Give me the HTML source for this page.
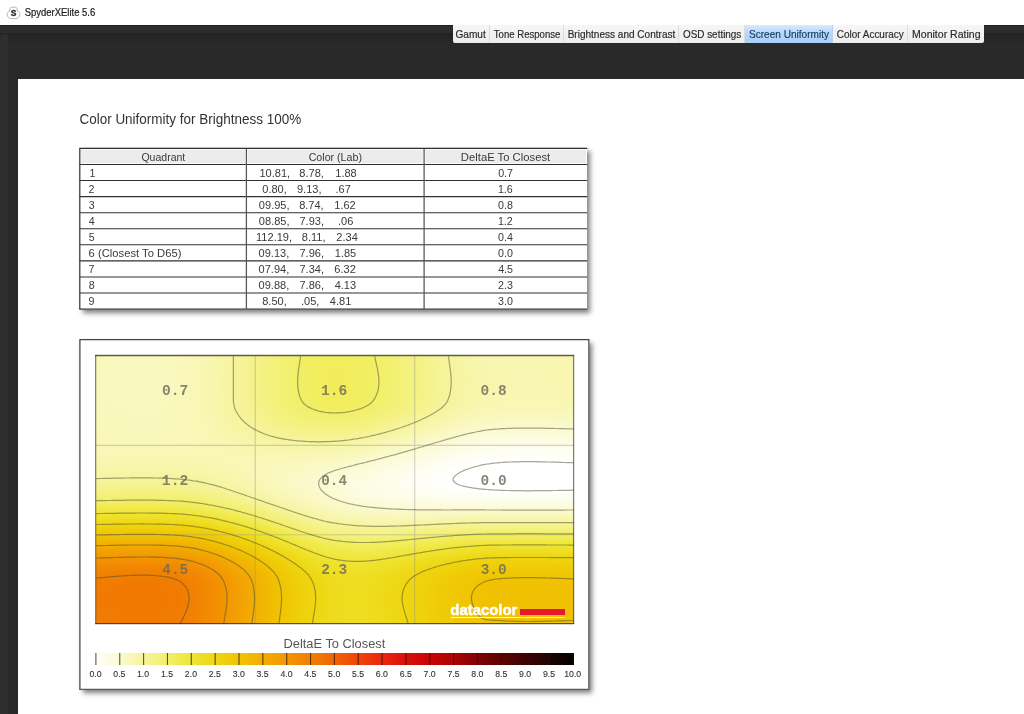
<!DOCTYPE html>
<html lang="en">
<head>
<meta charset="utf-8">
<title>SpyderXElite 5.6</title>
<style>
*{box-sizing:border-box;margin:0;padding:0}
html,body{width:1024px;height:714px;overflow:hidden;background:#fff}
body{position:relative;font-family:"Liberation Sans",sans-serif;color:#222}
.abs{position:absolute}
#titlebar{position:absolute;left:0;top:0;width:1024px;height:25px;background:#fff}
#dark{position:absolute;left:0;top:25px;width:1024px;height:689px;background:#292929;border-top:1px solid #1f1f1f}
#band{position:absolute;left:0;top:26px;width:1024px;height:20.5px;background:linear-gradient(#2e2e2e 0,#2d2d2d 6.5px,#222 7.5px,#262626 13px,#2a2a2a 20.5px)}
#lstrip{position:absolute;left:0;top:34px;width:7.5px;height:680px;background:#2e2e2e;border-radius:4px 0 0 0}
#page{position:absolute;left:18px;top:79px;width:1006px;height:635px;background:#fff}
.tab{position:absolute;top:25.3px;height:17.6px;background:linear-gradient(#f6f6f6,#ededed);border-right:1px solid #dcdcdc}
.tab.sel{background:linear-gradient(#d8eafc,#b6d7fb 45%,#a8cffa);border-right-color:#b9d3ee}
.tab.first{border-bottom-left-radius:2px}
.tab.last{border-right:none;border-bottom-right-radius:2px}
#tblbg{position:absolute;left:80px;top:148px;width:507px;height:161.500px;background:#fff;box-shadow:3px 3px 5px rgba(0,0,0,.5)}
#panel{position:absolute;left:80px;top:339.500px;width:509px;height:350px;background:#fff;box-shadow:3px 3px 5px rgba(0,0,0,.5)}
#lines{position:absolute;left:0;top:0;width:1024px;height:714px}
#heat{position:absolute;left:96px;top:356px;width:478px;height:268px;overflow:hidden}
#heat i{display:block;height:1px;width:478px}
#plotsvg{position:absolute;left:96px;top:356px;width:478px;height:268px;overflow:visible}
#dcred{position:absolute;left:519.7px;top:608.6px;width:45.4px;height:6.6px;background:#e8192c}
#dcline{position:absolute;left:450.9px;top:616.6px;width:114.2px;height:1.2px;background:linear-gradient(90deg,#fff 58%,rgba(255,255,255,.7) 62%)}
#cbar{position:absolute;left:96px;top:653px;width:478px;height:12px;background:linear-gradient(90deg,#ffffff,#fdfce8,#fbfad0,#f8f7b6,#f6f49d,#f4f282,#f2ef68,#f0ea4e,#efe534,#eede22,#eed610,#efcd09,#f0c402,#f1b802,#f2ad02,#f2a202,#f39602,#f28a02,#f17f02,#f07204,#f06405,#f05408,#f0440a,#ee350c,#eb260e,#e21a0c,#d90e0a,#d00908,#c60405,#b90404,#ac0304,#960204,#800204,#6e0204,#5c0203,#4d0203,#3e0203,#2f0202,#200202,#100101,#000000)}
#txt{position:absolute;left:0;top:0;width:1024px;height:714px;font-family:"Liberation Sans",sans-serif}
</style>
</head>
<body>
<div id="titlebar">
<svg class="abs" style="left:6px;top:4.6px" width="16" height="16" viewBox="0 0 16 16"><path d="M5.600 2.200h3.800c.8 0 1.300.5 1.500 1.300l.5 2.600c1.500.5 2.400 1.800 2.400 3.400 0 2.300-1.800 4.100-4.100 4.100H5.300c-2.300 0-4.100-1.800-4.100-4.100 0-1.600.9-2.900 2.400-3.400l.5-2.600c.2-.8.700-1.300 1.500-1.300z" fill="#fff" stroke="#b4b4b4" stroke-width="1"/><text x="7.500" y="11.300" text-anchor="middle" font-family="Liberation Sans, sans-serif" font-weight="bold" font-size="8.500" fill="#2a2a2a" stroke="#2a2a2a" stroke-width=".35">S</text></svg>
</div>
<div id="dark"></div>
<div id="band"></div>
<div id="lstrip"></div>
<div id="tabs">
<div class="tab first" style="left:452.5px;width:37.5px"></div>
<div class="tab" style="left:490.0px;width:73.5px"></div>
<div class="tab" style="left:563.5px;width:115.5px"></div>
<div class="tab" style="left:679.0px;width:66.0px"></div>
<div class="tab sel" style="left:745.0px;width:87.5px"></div>
<div class="tab" style="left:832.5px;width:75.0px"></div>
<div class="tab last" style="left:907.5px;width:76.0px"></div>
</div>
<div id="page"></div>
<div id="tblbg"></div>
<div id="panel"></div>
<svg id="lines" viewBox="0 0 1024 714">
<rect x="81.05" y="149.65" width="164.10" height="13.57" fill="#ececec"/>
<rect x="247.65" y="149.65" width="175.20" height="13.57" fill="#ececec"/>
<rect x="425.35" y="149.65" width="160.60" height="13.57" fill="#ececec"/>
<path d="M79.25 148.40H587.20M79.25 164.47H587.20M79.25 180.54H587.20M79.25 196.61H587.20M79.25 212.68H587.20M79.25 228.75H587.20M79.25 244.82H587.20M79.25 260.89H587.20M79.25 276.96H587.20M79.25 293.03H587.20M79.25 309.10H587.20" fill="none" stroke="#303030" stroke-width="1.10"/>
<path d="M246.40 148.40V309.10M424.10 148.40V309.10" fill="none" stroke="#555" stroke-width="1.25"/>
<path d="M79.80 148.40V309.10" fill="none" stroke="#3a3a3a" stroke-width="1.25"/>
<path d="M79.28 339.50H589.42M79.90 339.50V689.40" fill="none" stroke="#454545" stroke-width="1.25"/>
<path d="M79.28 689.40H589.42M588.80 339.50V689.40" fill="none" stroke="#5a5a5a" stroke-width="1.25"/>
</svg>
<div id="heat">
<i style="background:linear-gradient(90deg,#f9f8bc,#f9f8bd,#f9f8bd,#f9f8be,#f9f8be,#f9f8be,#f9f8be,#f9f8bd,#f9f8bc,#f9f7ba,#f8f7b6,#f8f6b0,#f7f6aa,#f7f5a3,#f6f49b,#f5f393,#f5f28a,#f4f182,#f3f17a,#f3f072,#f2ef6b,#f2ef66,#f2ee61,#f1ed5e,#f1ed5d,#f1ed5d,#f2ed60,#f2ee63,#f2ef68,#f2f06e,#f3f075,#f4f17c,#f4f284,#f5f28b,#f5f393,#f6f49a,#f6f4a1,#f7f5a7,#f7f6ab,#f8f6af,#f8f6b1,#f8f6b2,#f8f7b3,#f8f7b3,#f8f7b3,#f8f7b3,#f8f6b2,#f8f6b2,#f8f6b1)"></i>
<i style="background:linear-gradient(90deg,#f9f8bd,#f9f8bd,#f9f8bd,#f9f8be,#f9f8be,#f9f8be,#f9f8be,#f9f8bd,#f9f8bc,#f9f7ba,#f8f7b6,#f8f6b0,#f7f6aa,#f7f5a3,#f6f49b,#f5f393,#f5f28a,#f4f182,#f3f17a,#f3f072,#f2ef6b,#f2ef65,#f2ee61,#f1ed5e,#f1ed5d,#f1ed5d,#f2ed5f,#f2ee63,#f2ef68,#f2f06e,#f3f075,#f4f17c,#f4f284,#f5f28b,#f5f393,#f6f49a,#f6f4a1,#f7f5a6,#f7f6ab,#f8f6af,#f8f6b1,#f8f6b2,#f8f7b3,#f8f7b3,#f8f7b3,#f8f7b3,#f8f6b2,#f8f6b2,#f8f6b1)"></i>
<i style="background:linear-gradient(90deg,#f9f8bd,#f9f8bd,#f9f8be,#f9f8be,#f9f8be,#f9f8be,#f9f8be,#f9f8bd,#f9f8bc,#f9f7ba,#f8f7b6,#f8f6b1,#f7f6aa,#f7f5a3,#f6f49b,#f5f393,#f5f28a,#f4f182,#f3f17a,#f3f072,#f2ef6b,#f2ee65,#f2ee61,#f1ed5e,#f1ed5d,#f1ed5d,#f2ed5f,#f2ee63,#f2ef68,#f2f06e,#f3f075,#f3f17c,#f4f283,#f5f28b,#f5f393,#f6f49a,#f6f4a1,#f7f5a6,#f7f6ab,#f8f6af,#f8f6b1,#f8f6b2,#f8f7b2,#f8f7b3,#f8f7b3,#f8f7b2,#f8f6b2,#f8f6b2,#f8f6b1)"></i>
<i style="background:linear-gradient(90deg,#f9f8bd,#f9f8bd,#f9f8be,#f9f8be,#f9f8be,#f9f8be,#f9f8be,#f9f8bd,#f9f8bc,#f9f7ba,#f8f7b6,#f8f6b1,#f7f6aa,#f7f5a3,#f6f49b,#f5f393,#f5f28a,#f4f182,#f3f17a,#f3f072,#f2ef6b,#f2ee65,#f2ee61,#f1ed5e,#f1ed5d,#f1ed5d,#f1ed5f,#f2ee63,#f2ef68,#f2f06e,#f3f074,#f3f17c,#f4f283,#f5f28b,#f5f393,#f6f49a,#f6f4a1,#f7f5a6,#f7f6ab,#f8f6af,#f8f6b1,#f8f6b2,#f8f7b2,#f8f7b3,#f8f7b3,#f8f7b2,#f8f6b2,#f8f6b2,#f8f6b1)"></i>
<i style="background:linear-gradient(90deg,#f9f8bd,#f9f8bd,#f9f8be,#f9f8be,#f9f8be,#f9f8be,#f9f8be,#f9f8bd,#f9f8bc,#f9f7ba,#f8f7b6,#f8f6b1,#f7f6aa,#f7f5a3,#f6f49b,#f5f393,#f5f28a,#f4f182,#f3f17a,#f3f072,#f2ef6b,#f2ee65,#f2ee61,#f1ed5e,#f1ed5c,#f1ed5d,#f1ed5f,#f2ee63,#f2ef68,#f2f06e,#f3f074,#f3f17c,#f4f283,#f5f28b,#f5f393,#f6f49a,#f6f4a0,#f7f5a6,#f7f6ab,#f8f6ae,#f8f6b1,#f8f6b2,#f8f7b2,#f8f7b3,#f8f7b3,#f8f7b2,#f8f6b2,#f8f6b1,#f8f6b1)"></i>
<i style="background:linear-gradient(90deg,#f9f8bd,#f9f8bd,#f9f8be,#f9f8be,#f9f8be,#f9f8be,#f9f8be,#f9f8bd,#f9f8bc,#f9f7ba,#f8f7b6,#f8f6b1,#f7f6aa,#f7f5a3,#f6f49b,#f5f393,#f5f28a,#f4f182,#f3f179,#f3f072,#f2ef6b,#f2ee65,#f2ee61,#f1ed5e,#f1ed5c,#f1ed5d,#f1ed5f,#f2ee63,#f2ef67,#f2f06d,#f3f074,#f3f17b,#f4f283,#f5f28b,#f5f392,#f6f49a,#f6f4a0,#f7f5a6,#f7f6ab,#f8f6ae,#f8f6b1,#f8f6b2,#f8f7b2,#f8f7b3,#f8f7b2,#f8f6b2,#f8f6b2,#f8f6b1,#f8f6b1)"></i>
<i style="background:linear-gradient(90deg,#f9f8bd,#f9f8bd,#f9f8be,#f9f8be,#f9f8be,#f9f8be,#f9f8be,#f9f8bd,#f9f8bc,#f9f7ba,#f8f7b6,#f8f6b1,#f7f6aa,#f7f5a3,#f6f49b,#f5f393,#f5f28a,#f4f182,#f3f179,#f3f072,#f2ef6b,#f2ee65,#f2ee60,#f1ed5d,#f1ed5c,#f1ed5d,#f1ed5f,#f2ee62,#f2ef67,#f2ef6d,#f3f074,#f3f17b,#f4f283,#f5f28b,#f5f392,#f6f49a,#f6f4a0,#f7f5a6,#f7f6ab,#f8f6ae,#f8f6b0,#f8f6b2,#f8f6b2,#f8f7b2,#f8f7b2,#f8f6b2,#f8f6b2,#f8f6b1,#f8f6b1)"></i>
<i style="background:linear-gradient(90deg,#f9f8bd,#f9f8bd,#f9f8be,#f9f8be,#f9f8bf,#f9f8bf,#f9f8be,#f9f8be,#f9f8bc,#f9f7ba,#f8f7b6,#f8f6b1,#f7f6aa,#f7f5a3,#f6f49b,#f5f393,#f5f28a,#f4f182,#f3f179,#f3f072,#f2ef6b,#f2ee65,#f2ee60,#f1ed5d,#f1ed5c,#f1ed5d,#f1ed5f,#f2ee62,#f2ef67,#f2ef6d,#f3f074,#f3f17b,#f4f283,#f5f28b,#f5f392,#f6f49a,#f6f4a0,#f7f5a6,#f7f6ab,#f8f6ae,#f8f6b0,#f8f6b1,#f8f6b2,#f8f7b2,#f8f7b2,#f8f6b2,#f8f6b2,#f8f6b1,#f8f6b1)"></i>
<i style="background:linear-gradient(90deg,#f9f8bd,#f9f8bd,#f9f8be,#f9f8be,#f9f8bf,#f9f8bf,#f9f8be,#f9f8be,#f9f8bc,#f9f7ba,#f8f7b6,#f8f6b1,#f7f6aa,#f7f5a3,#f6f49b,#f5f393,#f5f28a,#f4f182,#f3f179,#f3f072,#f2ef6b,#f2ee65,#f2ee60,#f1ed5d,#f1ed5c,#f1ed5c,#f1ed5f,#f2ee62,#f2ef67,#f2ef6d,#f3f074,#f3f17b,#f4f283,#f5f28b,#f5f392,#f6f499,#f6f4a0,#f7f5a6,#f7f6ab,#f8f6ae,#f8f6b0,#f8f6b1,#f8f6b2,#f8f7b2,#f8f7b2,#f8f6b2,#f8f6b2,#f8f6b1,#f8f6b1)"></i>
<i style="background:linear-gradient(90deg,#f9f8bd,#f9f8bd,#f9f8be,#f9f8be,#f9f8bf,#f9f8bf,#f9f8be,#f9f8be,#f9f8bc,#f9f7ba,#f8f7b6,#f8f6b1,#f7f6aa,#f7f5a3,#f6f49b,#f5f393,#f5f28a,#f4f181,#f3f179,#f3f071,#f2ef6b,#f2ee65,#f2ed60,#f1ed5d,#f1ed5c,#f1ed5c,#f1ed5e,#f2ee62,#f2ef67,#f2ef6d,#f3f074,#f3f17b,#f4f283,#f5f28a,#f5f392,#f6f499,#f6f4a0,#f7f5a6,#f7f6ab,#f8f6ae,#f8f6b0,#f8f6b1,#f8f6b2,#f8f6b2,#f8f6b2,#f8f6b2,#f8f6b2,#f8f6b1,#f8f6b1)"></i>
<i style="background:linear-gradient(90deg,#f9f8bd,#f9f8bd,#f9f8be,#f9f8be,#f9f8bf,#f9f8bf,#f9f8be,#f9f8be,#f9f8bc,#f9f7ba,#f8f7b6,#f8f6b1,#f7f6aa,#f7f5a3,#f6f49b,#f5f393,#f5f28a,#f4f181,#f3f179,#f3f071,#f2ef6a,#f2ee65,#f2ed60,#f1ed5d,#f1ed5c,#f1ed5c,#f1ed5e,#f2ee62,#f2ef67,#f2ef6d,#f3f074,#f3f17b,#f4f283,#f5f28a,#f5f392,#f6f499,#f6f4a0,#f7f5a6,#f7f6aa,#f8f6ae,#f8f6b0,#f8f6b1,#f8f6b2,#f8f6b2,#f8f6b2,#f8f6b2,#f8f6b1,#f8f6b1,#f8f6b1)"></i>
<i style="background:linear-gradient(90deg,#f9f8bd,#f9f8bd,#f9f8be,#f9f8be,#f9f8bf,#f9f8bf,#f9f8be,#f9f8be,#f9f8bc,#f9f7ba,#f8f7b6,#f8f6b1,#f7f6aa,#f7f5a3,#f6f49b,#f5f393,#f5f28a,#f4f181,#f3f179,#f3f071,#f2ef6a,#f2ee64,#f2ed60,#f1ed5d,#f1ed5c,#f1ed5c,#f1ed5e,#f2ee62,#f2ef67,#f2ef6d,#f3f073,#f3f17b,#f4f182,#f5f28a,#f5f392,#f6f499,#f6f4a0,#f7f5a6,#f7f6aa,#f8f6ae,#f8f6b0,#f8f6b1,#f8f6b2,#f8f6b2,#f8f6b2,#f8f6b2,#f8f6b1,#f8f6b1,#f8f6b1)"></i>
<i style="background:linear-gradient(90deg,#f9f8bd,#f9f8be,#f9f8be,#f9f8be,#f9f8bf,#f9f8bf,#f9f8bf,#f9f8be,#f9f8bc,#f9f7ba,#f8f7b6,#f8f6b1,#f7f6aa,#f7f5a3,#f6f49b,#f5f393,#f5f28a,#f4f181,#f3f179,#f3f071,#f2ef6a,#f2ee64,#f2ed60,#f1ed5d,#f1ed5b,#f1ed5c,#f1ed5e,#f2ee62,#f2ef67,#f2ef6d,#f3f073,#f3f17b,#f4f182,#f5f28a,#f5f392,#f6f499,#f6f4a0,#f7f5a6,#f7f6aa,#f8f6ae,#f8f6b0,#f8f6b1,#f8f6b2,#f8f6b2,#f8f6b2,#f8f6b2,#f8f6b1,#f8f6b1,#f8f6b0)"></i>
<i style="background:linear-gradient(90deg,#f9f8bd,#f9f8be,#f9f8be,#f9f8bf,#f9f8bf,#f9f8bf,#f9f8bf,#f9f8be,#f9f8bd,#f9f7ba,#f8f7b6,#f8f6b1,#f7f6aa,#f7f5a3,#f6f49b,#f5f393,#f5f28a,#f4f181,#f3f179,#f3f071,#f2ef6a,#f2ee64,#f2ed60,#f1ed5d,#f1ed5b,#f1ed5c,#f1ed5e,#f2ee62,#f2ef66,#f2ef6c,#f3f073,#f3f17b,#f4f182,#f5f28a,#f5f392,#f6f499,#f6f4a0,#f7f5a5,#f7f6aa,#f8f6ae,#f8f6b0,#f8f6b1,#f8f6b2,#f8f6b2,#f8f6b2,#f8f6b2,#f8f6b1,#f8f6b1,#f8f6b0)"></i>
<i style="background:linear-gradient(90deg,#f9f8bd,#f9f8be,#f9f8be,#f9f8bf,#f9f8bf,#f9f8bf,#f9f8bf,#f9f8be,#f9f8bd,#f9f7ba,#f8f7b6,#f8f6b1,#f7f6aa,#f7f5a3,#f6f49b,#f5f393,#f5f28a,#f4f181,#f3f179,#f3f071,#f2ef6a,#f2ee64,#f2ed60,#f1ed5d,#f1ed5b,#f1ed5c,#f1ed5e,#f2ee62,#f2ef66,#f2ef6c,#f3f073,#f3f17a,#f4f182,#f5f28a,#f5f392,#f6f499,#f6f4a0,#f7f5a5,#f7f6aa,#f8f6ae,#f8f6b0,#f8f6b1,#f8f6b2,#f8f6b2,#f8f6b2,#f8f6b2,#f8f6b1,#f8f6b1,#f8f6b0)"></i>
<i style="background:linear-gradient(90deg,#f9f8bd,#f9f8be,#f9f8be,#f9f8bf,#f9f8bf,#f9f8bf,#f9f8bf,#f9f8be,#f9f8bd,#f9f7ba,#f8f7b6,#f8f6b1,#f7f6aa,#f7f5a3,#f6f49b,#f5f393,#f5f28a,#f4f181,#f3f179,#f3f071,#f2ef6a,#f2ee64,#f2ed60,#f1ed5c,#f1ed5b,#f1ed5c,#f1ed5e,#f2ee61,#f2ef66,#f2ef6c,#f3f073,#f3f17a,#f4f182,#f5f28a,#f5f392,#f6f499,#f6f4a0,#f7f5a5,#f7f6aa,#f8f6ae,#f8f6b0,#f8f6b1,#f8f6b2,#f8f6b2,#f8f6b2,#f8f6b1,#f8f6b1,#f8f6b1,#f8f6b0)"></i>
<i style="background:linear-gradient(90deg,#f9f8bd,#f9f8be,#f9f8be,#f9f8bf,#f9f8bf,#f9f8bf,#f9f8bf,#f9f8be,#f9f8bd,#f9f7ba,#f8f7b6,#f8f6b1,#f7f6ab,#f7f5a3,#f6f49b,#f5f393,#f5f28a,#f4f181,#f3f179,#f3f071,#f2ef6a,#f2ee64,#f2ed5f,#f1ed5c,#f1ed5b,#f1ed5c,#f1ed5e,#f2ee61,#f2ef66,#f2ef6c,#f3f073,#f3f17a,#f4f182,#f5f28a,#f5f391,#f6f499,#f6f49f,#f7f5a5,#f7f6aa,#f8f6ae,#f8f6b0,#f8f6b1,#f8f6b1,#f8f6b2,#f8f6b2,#f8f6b1,#f8f6b1,#f8f6b1,#f8f6b0)"></i>
<i style="background:linear-gradient(90deg,#f9f8bd,#f9f8be,#f9f8be,#f9f8bf,#f9f8bf,#f9f8bf,#f9f8bf,#f9f8be,#f9f8bd,#f9f7ba,#f8f7b6,#f8f6b1,#f7f6ab,#f7f5a3,#f6f49b,#f5f393,#f5f28a,#f4f181,#f3f179,#f3f071,#f2ef6a,#f2ee64,#f2ed5f,#f1ed5c,#f1ec5b,#f1ed5b,#f1ed5e,#f2ee61,#f2ef66,#f2ef6c,#f3f073,#f3f17a,#f4f182,#f5f28a,#f5f391,#f6f499,#f6f49f,#f7f5a5,#f7f6aa,#f8f6ad,#f8f6b0,#f8f6b1,#f8f6b1,#f8f6b2,#f8f6b2,#f8f6b1,#f8f6b1,#f8f6b1,#f8f6b0)"></i>
<i style="background:linear-gradient(90deg,#f9f8bd,#f9f8be,#f9f8be,#f9f8bf,#f9f8bf,#f9f8bf,#f9f8bf,#f9f8be,#f9f8bd,#f9f7ba,#f8f7b6,#f8f6b1,#f7f6ab,#f7f5a3,#f6f49b,#f5f393,#f5f28a,#f4f181,#f3f179,#f3f071,#f2ef6a,#f2ee64,#f1ed5f,#f1ed5c,#f1ec5b,#f1ed5b,#f1ed5e,#f2ee61,#f2ef66,#f2ef6c,#f3f073,#f3f17a,#f4f182,#f5f28a,#f5f391,#f6f499,#f6f49f,#f7f5a5,#f7f6aa,#f8f6ad,#f8f6b0,#f8f6b1,#f8f6b1,#f8f6b2,#f8f6b2,#f8f6b1,#f8f6b1,#f8f6b0,#f8f6b0)"></i>
<i style="background:linear-gradient(90deg,#f9f8bd,#f9f8be,#f9f8be,#f9f8bf,#f9f8bf,#f9f8bf,#f9f8bf,#f9f8be,#f9f8bd,#f9f7ba,#f8f7b6,#f8f6b1,#f7f6ab,#f7f5a3,#f6f49b,#f5f393,#f5f28a,#f4f181,#f3f179,#f3f071,#f2ef6a,#f2ee64,#f1ed5f,#f1ed5c,#f1ec5b,#f1ed5b,#f1ed5d,#f2ee61,#f2ef66,#f2ef6c,#f3f073,#f3f17a,#f4f182,#f5f28a,#f5f391,#f6f499,#f6f49f,#f7f5a5,#f7f6aa,#f8f6ad,#f8f6b0,#f8f6b1,#f8f6b1,#f8f6b2,#f8f6b2,#f8f6b1,#f8f6b1,#f8f6b0,#f8f6b0)"></i>
<i style="background:linear-gradient(90deg,#f9f8bd,#f9f8be,#f9f8be,#f9f8bf,#f9f8bf,#f9f8bf,#f9f8bf,#f9f8be,#f9f8bd,#f9f7ba,#f8f7b6,#f8f6b1,#f7f6ab,#f7f5a3,#f6f49b,#f5f393,#f5f28a,#f4f181,#f3f179,#f3f071,#f2ef6a,#f2ee64,#f1ed5f,#f1ed5c,#f1ec5b,#f1ed5b,#f1ed5d,#f2ee61,#f2ef66,#f2ef6c,#f3f073,#f3f17a,#f4f182,#f5f289,#f5f391,#f6f499,#f6f49f,#f7f5a5,#f7f6aa,#f8f6ad,#f8f6af,#f8f6b1,#f8f6b1,#f8f6b2,#f8f6b1,#f8f6b1,#f8f6b1,#f8f6b0,#f8f6b0)"></i>
<i style="background:linear-gradient(90deg,#f9f8bd,#f9f8be,#f9f8be,#f9f8bf,#f9f8bf,#f9f8bf,#f9f8bf,#f9f8be,#f9f8bd,#f9f7ba,#f8f7b6,#f8f6b1,#f7f6ab,#f7f5a3,#f6f49b,#f5f393,#f5f28a,#f4f181,#f3f179,#f3f071,#f2ef6a,#f2ee64,#f1ed5f,#f1ed5c,#f1ec5b,#f1ed5b,#f1ed5d,#f2ee61,#f2ef66,#f2ef6c,#f3f073,#f3f17a,#f4f182,#f5f289,#f5f391,#f6f498,#f6f49f,#f7f5a5,#f7f5aa,#f8f6ad,#f8f6af,#f8f6b1,#f8f6b1,#f8f6b1,#f8f6b1,#f8f6b1,#f8f6b1,#f8f6b0,#f8f6b0)"></i>
<i style="background:linear-gradient(90deg,#f9f8bd,#f9f8be,#f9f8be,#f9f8bf,#f9f8bf,#f9f8bf,#f9f8bf,#f9f8be,#f9f8bd,#f9f7ba,#f8f7b6,#f8f6b1,#f7f6ab,#f7f5a3,#f6f49b,#f5f393,#f5f28a,#f4f181,#f3f179,#f3f071,#f2ef6a,#f2ee64,#f1ed5f,#f1ed5c,#f1ec5b,#f1ed5b,#f1ed5d,#f2ee61,#f2ef66,#f2ef6c,#f3f072,#f3f17a,#f4f182,#f5f289,#f5f391,#f6f498,#f6f49f,#f7f5a5,#f7f5aa,#f8f6ad,#f8f6af,#f8f6b1,#f8f6b1,#f8f6b1,#f8f6b1,#f8f6b1,#f8f6b1,#f8f6b0,#f8f6b0)"></i>
<i style="background:linear-gradient(90deg,#f9f8bd,#f9f8be,#f9f8be,#f9f8bf,#f9f8bf,#f9f8bf,#f9f8bf,#f9f8be,#f9f8bd,#f9f7ba,#f8f7b6,#f8f6b1,#f7f6ab,#f7f5a3,#f6f49b,#f5f393,#f5f28a,#f4f181,#f3f179,#f3f071,#f2ef6a,#f2ee64,#f1ed5f,#f1ed5c,#f1ec5b,#f1ed5b,#f1ed5d,#f2ee61,#f2ef66,#f2ef6c,#f3f072,#f3f17a,#f4f182,#f5f289,#f5f391,#f6f498,#f6f49f,#f7f5a5,#f7f5aa,#f8f6ad,#f8f6af,#f8f6b1,#f8f6b1,#f8f6b1,#f8f6b1,#f8f6b1,#f8f6b1,#f8f6b0,#f8f6b0)"></i>
<i style="background:linear-gradient(90deg,#f9f8bd,#f9f8be,#f9f8be,#f9f8bf,#f9f8bf,#f9f8bf,#f9f8bf,#f9f8be,#f9f8bd,#f9f7ba,#f8f7b6,#f8f6b1,#f7f6ab,#f7f5a3,#f6f49b,#f5f393,#f5f28a,#f4f181,#f3f179,#f3f071,#f2ef6a,#f2ee64,#f1ed5f,#f1ed5c,#f1ec5b,#f1ed5b,#f1ed5d,#f2ee61,#f2ef66,#f2ef6c,#f3f072,#f3f17a,#f4f181,#f5f289,#f5f391,#f6f498,#f6f49f,#f7f5a5,#f7f5aa,#f8f6ad,#f8f6af,#f8f6b1,#f8f6b1,#f8f6b1,#f8f6b1,#f8f6b1,#f8f6b1,#f8f6b0,#f8f6b0)"></i>
<i style="background:linear-gradient(90deg,#f9f8bd,#f9f8be,#f9f8be,#f9f8bf,#f9f8bf,#f9f8bf,#f9f8bf,#f9f8be,#f9f8bd,#f9f7ba,#f8f7b6,#f8f6b1,#f7f6ab,#f7f5a3,#f6f49b,#f5f393,#f5f28a,#f4f181,#f3f179,#f3f071,#f2ef6a,#f2ee64,#f1ed5f,#f1ed5c,#f1ec5b,#f1ed5b,#f1ed5d,#f2ee61,#f2ef66,#f2ef6c,#f3f072,#f3f17a,#f4f181,#f5f289,#f5f391,#f6f498,#f6f49f,#f7f5a5,#f7f5aa,#f8f6ad,#f8f6af,#f8f6b0,#f8f6b1,#f8f6b1,#f8f6b1,#f8f6b1,#f8f6b1,#f8f6b0,#f8f6b0)"></i>
<i style="background:linear-gradient(90deg,#f9f8bd,#f9f8be,#f9f8be,#f9f8bf,#f9f8bf,#f9f8bf,#f9f8bf,#f9f8be,#f9f8bd,#f9f7ba,#f8f7b6,#f8f6b1,#f7f6ab,#f7f5a3,#f6f49b,#f5f393,#f5f28a,#f4f181,#f3f179,#f3f071,#f2ef6a,#f2ee64,#f1ed5f,#f1ed5c,#f1ec5b,#f1ed5b,#f1ed5d,#f2ee61,#f2ef66,#f2ef6c,#f3f072,#f3f17a,#f4f181,#f5f289,#f5f391,#f6f498,#f6f49f,#f7f5a5,#f7f5aa,#f8f6ad,#f8f6af,#f8f6b0,#f8f6b1,#f8f6b1,#f8f6b1,#f8f6b1,#f8f6b1,#f8f6b0,#f8f6b0)"></i>
<i style="background:linear-gradient(90deg,#f9f8bd,#f9f8be,#f9f8be,#f9f8bf,#f9f8bf,#f9f8bf,#f9f8bf,#f9f8be,#f9f8bd,#f9f7ba,#f8f7b6,#f8f6b1,#f7f6ab,#f7f5a3,#f6f49b,#f5f393,#f5f28a,#f4f181,#f3f179,#f3f071,#f2ef6a,#f2ee64,#f1ed5f,#f1ed5c,#f1ec5b,#f1ed5b,#f1ed5d,#f2ee61,#f2ef66,#f2ef6c,#f3f072,#f3f17a,#f4f182,#f5f289,#f5f391,#f6f498,#f6f49f,#f7f5a5,#f7f5aa,#f8f6ad,#f8f6af,#f8f6b1,#f8f6b1,#f8f6b1,#f8f6b1,#f8f6b1,#f8f6b1,#f8f6b0,#f8f6b0)"></i>
<i style="background:linear-gradient(90deg,#f9f8bd,#f9f8be,#f9f8be,#f9f8bf,#f9f8bf,#f9f8bf,#f9f8bf,#f9f8be,#f9f8bd,#f9f7ba,#f8f7b6,#f8f6b1,#f7f6ab,#f7f5a3,#f6f49b,#f5f393,#f5f28a,#f4f181,#f3f179,#f3f071,#f2ef6a,#f2ee64,#f1ed5f,#f1ed5c,#f1ec5b,#f1ed5b,#f1ed5d,#f2ee61,#f2ef66,#f2ef6c,#f3f072,#f3f17a,#f4f182,#f5f289,#f5f391,#f6f498,#f6f49f,#f7f5a5,#f7f5aa,#f8f6ad,#f8f6af,#f8f6b1,#f8f6b1,#f8f6b1,#f8f6b1,#f8f6b1,#f8f6b1,#f8f6b0,#f8f6b0)"></i>
<i style="background:linear-gradient(90deg,#f9f8bd,#f9f8be,#f9f8be,#f9f8bf,#f9f8bf,#f9f8bf,#f9f8bf,#f9f8be,#f9f8bd,#f9f7ba,#f8f7b6,#f8f6b1,#f7f6ab,#f7f5a3,#f6f49b,#f5f393,#f5f28a,#f4f181,#f3f179,#f3f071,#f2ef6a,#f2ee64,#f1ed5f,#f1ed5c,#f1ec5b,#f1ed5b,#f1ed5d,#f2ee61,#f2ef66,#f2ef6c,#f3f073,#f3f17a,#f4f182,#f5f289,#f5f391,#f6f498,#f6f49f,#f7f5a5,#f7f5aa,#f8f6ad,#f8f6af,#f8f6b1,#f8f6b1,#f8f6b1,#f8f6b1,#f8f6b1,#f8f6b1,#f8f6b0,#f8f6b0)"></i>
<i style="background:linear-gradient(90deg,#f9f8bd,#f9f8be,#f9f8be,#f9f8bf,#f9f8bf,#f9f8bf,#f9f8bf,#f9f8be,#f9f8bd,#f9f7ba,#f8f7b6,#f8f6b1,#f7f6ab,#f7f5a3,#f6f49b,#f5f393,#f5f28a,#f4f181,#f3f179,#f3f071,#f2ef6a,#f2ee64,#f1ed5f,#f1ed5c,#f1ec5b,#f1ed5b,#f1ed5d,#f2ee61,#f2ef66,#f2ef6c,#f3f073,#f3f17a,#f4f182,#f5f289,#f5f391,#f6f499,#f6f49f,#f7f5a5,#f7f6aa,#f8f6ad,#f8f6af,#f8f6b1,#f8f6b1,#f8f6b2,#f8f6b1,#f8f6b1,#f8f6b1,#f8f6b0,#f8f6b0)"></i>
<i style="background:linear-gradient(90deg,#f9f8bd,#f9f8be,#f9f8be,#f9f8bf,#f9f8bf,#f9f8bf,#f9f8bf,#f9f8be,#f9f8bd,#f9f7ba,#f8f7b6,#f8f6b1,#f7f6ab,#f7f5a3,#f6f49b,#f5f393,#f5f28a,#f4f181,#f3f179,#f3f071,#f2ef6a,#f2ee64,#f1ed5f,#f1ed5c,#f1ec5b,#f1ed5b,#f1ed5d,#f2ee61,#f2ef66,#f2ef6c,#f3f073,#f3f17a,#f4f182,#f5f28a,#f5f391,#f6f499,#f6f49f,#f7f5a5,#f7f6aa,#f8f6ad,#f8f6b0,#f8f6b1,#f8f6b1,#f8f6b2,#f8f6b2,#f8f6b1,#f8f6b1,#f8f6b0,#f8f6b0)"></i>
<i style="background:linear-gradient(90deg,#f9f8bd,#f9f8be,#f9f8be,#f9f8bf,#f9f8bf,#f9f8bf,#f9f8bf,#f9f8be,#f9f8bd,#f9f7ba,#f8f7b6,#f8f6b1,#f7f6ab,#f7f5a3,#f6f49b,#f5f393,#f5f28a,#f4f181,#f3f179,#f3f071,#f2ef6a,#f2ee64,#f1ed5f,#f1ed5c,#f1ec5b,#f1ed5b,#f1ed5e,#f2ee61,#f2ef66,#f2ef6c,#f3f073,#f3f17a,#f4f182,#f5f28a,#f5f391,#f6f499,#f6f49f,#f7f5a5,#f7f6aa,#f8f6ad,#f8f6b0,#f8f6b1,#f8f6b1,#f8f6b2,#f8f6b2,#f8f6b1,#f8f6b1,#f8f6b0,#f8f6b0)"></i>
<i style="background:linear-gradient(90deg,#f9f8bd,#f9f8be,#f9f8be,#f9f8bf,#f9f8bf,#f9f8bf,#f9f8bf,#f9f8be,#f9f8bd,#f9f7ba,#f8f7b6,#f8f6b1,#f7f6ab,#f7f5a3,#f6f49b,#f5f393,#f5f28a,#f4f181,#f3f179,#f3f071,#f2ef6a,#f2ee64,#f2ed5f,#f1ed5c,#f1ec5b,#f1ed5b,#f1ed5e,#f2ee61,#f2ef66,#f2ef6c,#f3f073,#f3f17a,#f4f182,#f5f28a,#f5f391,#f6f499,#f6f49f,#f7f5a5,#f7f6aa,#f8f6ae,#f8f6b0,#f8f6b1,#f8f6b1,#f8f6b2,#f8f6b2,#f8f6b1,#f8f6b1,#f8f6b1,#f8f6b0)"></i>
<i style="background:linear-gradient(90deg,#f9f8bd,#f9f8be,#f9f8be,#f9f8bf,#f9f8bf,#f9f8bf,#f9f8bf,#f9f8be,#f9f8bd,#f9f7ba,#f8f7b6,#f8f6b1,#f7f6aa,#f7f5a3,#f6f49b,#f5f393,#f5f28a,#f4f181,#f3f179,#f3f071,#f2ef6a,#f2ee64,#f2ed60,#f1ed5c,#f1ed5b,#f1ed5c,#f1ed5e,#f2ee61,#f2ef66,#f2ef6c,#f3f073,#f3f17a,#f4f182,#f5f28a,#f5f391,#f6f499,#f6f4a0,#f7f5a5,#f7f6aa,#f8f6ae,#f8f6b0,#f8f6b1,#f8f6b2,#f8f6b2,#f8f6b2,#f8f6b1,#f8f6b1,#f8f6b1,#f8f6b0)"></i>
<i style="background:linear-gradient(90deg,#f9f8bd,#f9f8be,#f9f8be,#f9f8bf,#f9f8bf,#f9f8bf,#f9f8bf,#f9f8be,#f9f8bd,#f9f7ba,#f8f7b6,#f8f6b1,#f7f6aa,#f7f5a3,#f6f49b,#f5f393,#f5f28a,#f4f181,#f3f179,#f3f071,#f2ef6a,#f2ee64,#f2ed60,#f1ed5d,#f1ed5b,#f1ed5c,#f1ed5e,#f2ee62,#f2ef66,#f2ef6c,#f3f073,#f3f17a,#f4f182,#f5f28a,#f5f392,#f6f499,#f6f4a0,#f7f5a5,#f7f6aa,#f8f6ae,#f8f6b0,#f8f6b1,#f8f6b2,#f8f6b2,#f8f6b2,#f8f6b2,#f8f6b1,#f8f6b1,#f8f6b0)"></i>
<i style="background:linear-gradient(90deg,#f9f8bd,#f9f8be,#f9f8be,#f9f8be,#f9f8bf,#f9f8bf,#f9f8bf,#f9f8be,#f9f8bc,#f9f7ba,#f8f7b6,#f8f6b1,#f7f6aa,#f7f5a3,#f6f49b,#f5f393,#f5f28a,#f4f181,#f3f179,#f3f071,#f2ef6a,#f2ee64,#f2ed60,#f1ed5d,#f1ed5b,#f1ed5c,#f1ed5e,#f2ee62,#f2ef67,#f2ef6d,#f3f073,#f3f17b,#f4f182,#f5f28a,#f5f392,#f6f499,#f6f4a0,#f7f5a5,#f7f6aa,#f8f6ae,#f8f6b0,#f8f6b1,#f8f6b2,#f8f6b2,#f8f6b2,#f8f6b2,#f8f6b1,#f8f6b1,#f8f6b0)"></i>
<i style="background:linear-gradient(90deg,#f9f8bd,#f9f8bd,#f9f8be,#f9f8be,#f9f8bf,#f9f8bf,#f9f8be,#f9f8be,#f9f8bc,#f9f7ba,#f8f7b6,#f8f6b1,#f7f6aa,#f7f5a3,#f6f49b,#f5f393,#f5f28a,#f4f181,#f3f179,#f3f071,#f2ef6a,#f2ee65,#f2ed60,#f1ed5d,#f1ed5c,#f1ed5c,#f1ed5e,#f2ee62,#f2ef67,#f2ef6d,#f3f073,#f3f17b,#f4f182,#f5f28a,#f5f392,#f6f499,#f6f4a0,#f7f5a6,#f7f6aa,#f8f6ae,#f8f6b0,#f8f6b1,#f8f6b2,#f8f6b2,#f8f6b2,#f8f6b2,#f8f6b1,#f8f6b1,#f8f6b1)"></i>
<i style="background:linear-gradient(90deg,#f9f8bd,#f9f8bd,#f9f8be,#f9f8be,#f9f8bf,#f9f8bf,#f9f8be,#f9f8be,#f9f8bc,#f9f7ba,#f8f7b6,#f8f6b1,#f7f6aa,#f7f5a3,#f6f49b,#f5f393,#f5f28a,#f4f182,#f3f179,#f3f071,#f2ef6b,#f2ee65,#f2ed60,#f1ed5d,#f1ed5c,#f1ed5c,#f1ed5f,#f2ee62,#f2ef67,#f2ef6d,#f3f074,#f3f17b,#f4f283,#f5f28a,#f5f392,#f6f499,#f6f4a0,#f7f5a6,#f7f6ab,#f8f6ae,#f8f6b0,#f8f6b1,#f8f6b2,#f8f6b2,#f8f6b2,#f8f6b2,#f8f6b2,#f8f6b1,#f8f6b1)"></i>
<i style="background:linear-gradient(90deg,#f9f8bd,#f9f8bd,#f9f8be,#f9f8be,#f9f8bf,#f9f8bf,#f9f8be,#f9f8be,#f9f8bc,#f9f7ba,#f8f7b6,#f8f6b1,#f7f6aa,#f7f5a3,#f6f49b,#f5f393,#f5f28a,#f4f182,#f3f179,#f3f072,#f2ef6b,#f2ee65,#f2ee60,#f1ed5d,#f1ed5c,#f1ed5d,#f1ed5f,#f2ee62,#f2ef67,#f2ef6d,#f3f074,#f3f17b,#f4f283,#f5f28b,#f5f392,#f6f49a,#f6f4a0,#f7f5a6,#f7f6ab,#f8f6ae,#f8f6b0,#f8f6b1,#f8f6b2,#f8f7b2,#f8f7b2,#f8f6b2,#f8f6b2,#f8f6b1,#f8f6b1)"></i>
<i style="background:linear-gradient(90deg,#f9f8bd,#f9f8bd,#f9f8be,#f9f8be,#f9f8be,#f9f8be,#f9f8be,#f9f8bd,#f9f8bc,#f9f7ba,#f8f7b6,#f8f6b1,#f7f6aa,#f7f5a3,#f6f49b,#f5f393,#f5f28a,#f4f182,#f3f179,#f3f072,#f2ef6b,#f2ee65,#f2ee61,#f1ed5e,#f1ed5c,#f1ed5d,#f1ed5f,#f2ee63,#f2ef67,#f2f06d,#f3f074,#f3f17b,#f4f283,#f5f28b,#f5f393,#f6f49a,#f6f4a0,#f7f5a6,#f7f6ab,#f8f6ae,#f8f6b1,#f8f6b2,#f8f7b2,#f8f7b3,#f8f7b3,#f8f7b2,#f8f6b2,#f8f6b1,#f8f6b1)"></i>
<i style="background:linear-gradient(90deg,#f9f8bd,#f9f8bd,#f9f8be,#f9f8be,#f9f8be,#f9f8be,#f9f8be,#f9f8bd,#f9f8bc,#f9f7ba,#f8f7b6,#f8f6b1,#f7f6aa,#f7f5a3,#f6f49b,#f5f393,#f5f28a,#f4f182,#f3f17a,#f3f072,#f2ef6b,#f2ee65,#f2ee61,#f1ed5e,#f1ed5d,#f1ed5d,#f1ed5f,#f2ee63,#f2ef68,#f2f06e,#f3f074,#f3f17c,#f4f283,#f5f28b,#f5f393,#f6f49a,#f6f4a1,#f7f5a6,#f7f6ab,#f8f6af,#f8f6b1,#f8f6b2,#f8f7b2,#f8f7b3,#f8f7b3,#f8f7b2,#f8f6b2,#f8f6b2,#f8f6b1)"></i>
<i style="background:linear-gradient(90deg,#f9f8bc,#f9f8bd,#f9f8bd,#f9f8be,#f9f8be,#f9f8be,#f9f8be,#f9f8bd,#f9f8bc,#f9f7ba,#f8f7b6,#f8f6b0,#f7f6aa,#f7f5a3,#f6f49b,#f5f393,#f5f28a,#f4f182,#f3f17a,#f3f072,#f2ef6b,#f2ef66,#f2ee61,#f1ed5e,#f1ed5d,#f1ed5d,#f2ed60,#f2ee63,#f2ef68,#f2f06e,#f3f075,#f4f17c,#f4f284,#f5f28b,#f5f393,#f6f49a,#f6f4a1,#f7f5a7,#f7f6ab,#f8f6af,#f8f6b1,#f8f6b2,#f8f7b3,#f8f7b3,#f8f7b3,#f8f7b3,#f8f6b2,#f8f6b2,#f8f6b1)"></i>
<i style="background:linear-gradient(90deg,#f9f8bc,#f9f8bd,#f9f8bd,#f9f8be,#f9f8be,#f9f8be,#f9f8be,#f9f8bd,#f9f8bc,#f9f7b9,#f8f7b6,#f8f6b0,#f7f6aa,#f7f5a3,#f6f49b,#f5f393,#f5f28a,#f4f182,#f3f17a,#f3f072,#f2ef6c,#f2ef66,#f2ee61,#f1ed5e,#f1ed5d,#f1ed5e,#f2ed60,#f2ee64,#f2ef68,#f2f06e,#f3f075,#f4f17c,#f4f284,#f5f28c,#f5f393,#f6f49b,#f6f4a1,#f7f5a7,#f7f6ab,#f8f6af,#f8f6b1,#f8f6b2,#f8f7b3,#f8f7b3,#f8f7b3,#f8f7b3,#f8f7b2,#f8f6b2,#f8f6b2)"></i>
<i style="background:linear-gradient(90deg,#f9f8bc,#f9f8bd,#f9f8bd,#f9f8be,#f9f8be,#f9f8be,#f9f8be,#f9f8bd,#f9f8bc,#f9f7b9,#f8f7b5,#f8f6b0,#f7f6aa,#f7f5a3,#f6f49b,#f5f393,#f5f28b,#f4f182,#f3f17a,#f3f073,#f2ef6c,#f2ef66,#f2ee62,#f1ed5f,#f1ed5e,#f1ed5e,#f2ee60,#f2ee64,#f2ef69,#f3f06f,#f3f075,#f4f17d,#f4f284,#f5f28c,#f5f394,#f6f49b,#f6f5a1,#f7f5a7,#f7f6ac,#f8f6af,#f8f6b1,#f8f7b2,#f8f7b3,#f8f7b3,#f8f7b3,#f8f7b3,#f8f7b3,#f8f6b2,#f8f6b2)"></i>
<i style="background:linear-gradient(90deg,#f9f8bc,#f9f8bc,#f9f8bd,#f9f8bd,#f9f8be,#f9f8be,#f9f8bd,#f9f8bd,#f9f8bb,#f9f7b9,#f8f7b5,#f8f6b0,#f7f6aa,#f7f5a3,#f6f49b,#f5f393,#f5f28b,#f4f182,#f3f17a,#f3f073,#f2ef6c,#f2ef66,#f2ee62,#f1ed5f,#f1ed5e,#f1ed5f,#f2ee61,#f2ee64,#f2ef69,#f3f06f,#f3f076,#f4f17d,#f4f285,#f5f28c,#f5f394,#f6f49b,#f6f5a2,#f7f5a7,#f7f6ac,#f8f6b0,#f8f6b2,#f8f7b3,#f8f7b3,#f8f7b4,#f8f7b4,#f8f7b3,#f8f7b3,#f8f7b3,#f8f6b2)"></i>
<i style="background:linear-gradient(90deg,#f9f8bc,#f9f8bc,#f9f8bd,#f9f8bd,#f9f8be,#f9f8be,#f9f8bd,#f9f8bd,#f9f8bb,#f9f7b9,#f8f7b5,#f8f6b0,#f7f6aa,#f7f5a3,#f6f49b,#f5f393,#f5f28b,#f4f283,#f3f17b,#f3f073,#f2ef6c,#f2ef67,#f2ee63,#f2ed60,#f1ed5e,#f1ed5f,#f2ee61,#f2ee65,#f2ef6a,#f3f070,#f3f076,#f4f17e,#f4f285,#f5f28d,#f5f394,#f6f49c,#f6f5a2,#f7f5a8,#f8f6ac,#f8f6b0,#f8f6b2,#f8f7b3,#f8f7b4,#f8f7b4,#f8f7b4,#f8f7b4,#f8f7b3,#f8f7b3,#f8f7b2)"></i>
<i style="background:linear-gradient(90deg,#f9f8bc,#f9f8bc,#f9f8bd,#f9f8bd,#f9f8bd,#f9f8bd,#f9f8bd,#f9f8bc,#f9f8bb,#f9f7b9,#f8f7b5,#f8f6b0,#f7f6aa,#f7f5a3,#f6f49c,#f5f393,#f5f28b,#f4f283,#f3f17b,#f3f074,#f2ef6d,#f2ef67,#f2ee63,#f2ed60,#f1ed5f,#f2ed60,#f2ee62,#f2ef65,#f2ef6a,#f3f070,#f3f077,#f4f17e,#f4f286,#f5f38d,#f5f395,#f6f49c,#f7f5a2,#f7f5a8,#f8f6ad,#f8f6b0,#f8f7b2,#f8f7b3,#f8f7b4,#f8f7b4,#f8f7b4,#f8f7b4,#f8f7b4,#f8f7b3,#f8f7b3)"></i>
<i style="background:linear-gradient(90deg,#f9f8bc,#f9f8bc,#f9f8bd,#f9f8bd,#f9f8bd,#f9f8bd,#f9f8bd,#f9f8bc,#f9f8bb,#f9f7b9,#f8f7b5,#f8f6b0,#f7f6aa,#f7f5a3,#f6f49c,#f5f394,#f5f28b,#f4f283,#f3f17b,#f3f074,#f2f06d,#f2ef68,#f2ee64,#f2ee61,#f2ed60,#f2ee60,#f2ee62,#f2ef66,#f2ef6b,#f3f071,#f3f078,#f4f17f,#f4f286,#f5f38e,#f5f395,#f6f49d,#f7f5a3,#f7f5a9,#f8f6ad,#f8f6b1,#f8f7b3,#f8f7b4,#f8f7b5,#f8f7b5,#f8f7b5,#f8f7b5,#f8f7b4,#f8f7b4,#f8f7b3)"></i>
<i style="background:linear-gradient(90deg,#f9f8bc,#f9f8bc,#f9f8bc,#f9f8bd,#f9f8bd,#f9f8bd,#f9f8bd,#f9f8bc,#f9f8bb,#f9f7b9,#f8f7b5,#f8f6b0,#f7f6aa,#f7f5a3,#f6f49c,#f5f394,#f5f28c,#f4f284,#f3f17c,#f3f074,#f2f06e,#f2ef68,#f2ee64,#f2ee61,#f2ee60,#f2ee61,#f2ee63,#f2ef67,#f2ef6c,#f3f072,#f3f178,#f4f17f,#f4f287,#f5f38f,#f5f396,#f6f49d,#f7f5a4,#f7f5a9,#f8f6ae,#f8f6b1,#f8f7b3,#f8f7b5,#f8f7b5,#f8f7b5,#f8f7b5,#f8f7b5,#f8f7b5,#f8f7b4,#f8f7b4)"></i>
<i style="background:linear-gradient(90deg,#f9f8bb,#f9f8bc,#f9f8bc,#f9f8bd,#f9f8bd,#f9f8bd,#f9f8bd,#f9f8bc,#f9f8bb,#f9f7b9,#f8f7b5,#f8f6b0,#f7f6aa,#f7f5a3,#f6f49c,#f5f394,#f5f28c,#f4f284,#f4f17c,#f3f075,#f3f06f,#f2ef69,#f2ee65,#f2ee62,#f2ee61,#f2ee62,#f2ee64,#f2ef68,#f2ef6d,#f3f072,#f3f179,#f4f180,#f4f288,#f5f38f,#f6f397,#f6f49e,#f7f5a4,#f7f6aa,#f8f6af,#f8f6b2,#f8f7b4,#f8f7b5,#f8f7b6,#f8f7b6,#f8f7b6,#f8f7b6,#f8f7b5,#f8f7b5,#f8f7b5)"></i>
<i style="background:linear-gradient(90deg,#f9f8bb,#f9f8bc,#f9f8bc,#f9f8bd,#f9f8bd,#f9f8bd,#f9f8bd,#f9f8bc,#f9f8bb,#f9f7b9,#f8f7b5,#f8f6b0,#f7f6aa,#f7f5a4,#f6f49c,#f5f394,#f5f28c,#f4f284,#f4f17d,#f3f076,#f3f06f,#f2ef6a,#f2ef66,#f2ee63,#f2ee62,#f2ee63,#f2ee65,#f2ef69,#f2f06e,#f3f073,#f3f17a,#f4f181,#f4f289,#f5f390,#f6f398,#f6f49f,#f7f5a5,#f7f6ab,#f8f6af,#f8f7b3,#f8f7b5,#f8f7b6,#f8f7b6,#f9f7b7,#f9f7b7,#f8f7b6,#f8f7b6,#f8f7b6,#f8f7b5)"></i>
<i style="background:linear-gradient(90deg,#f9f8bb,#f9f8bc,#f9f8bc,#f9f8bd,#f9f8bd,#f9f8bd,#f9f8bd,#f9f8bc,#f9f8bb,#f9f7b9,#f8f7b5,#f8f6b0,#f7f6aa,#f7f5a4,#f6f49d,#f5f395,#f5f28d,#f4f285,#f4f17d,#f3f076,#f3f070,#f2ef6b,#f2ef67,#f2ee64,#f2ee63,#f2ee64,#f2ef66,#f2ef6a,#f2f06f,#f3f074,#f3f17b,#f4f182,#f5f28a,#f5f391,#f6f499,#f6f4a0,#f7f5a6,#f7f6ab,#f8f6b0,#f8f7b3,#f8f7b6,#f9f7b7,#f9f7b7,#f9f7b7,#f9f7b7,#f9f7b7,#f9f7b7,#f8f7b6,#f8f7b6)"></i>
<i style="background:linear-gradient(90deg,#f9f8bb,#f9f8bc,#f9f8bc,#f9f8bd,#f9f8bd,#f9f8bd,#f9f8bd,#f9f8bc,#f9f8bb,#f9f7b9,#f8f7b5,#f8f6b0,#f7f6ab,#f7f5a4,#f6f49d,#f5f395,#f5f38d,#f4f286,#f4f17e,#f3f077,#f3f071,#f2ef6c,#f2ef68,#f2ee65,#f2ee64,#f2ee65,#f2ef67,#f2ef6b,#f3f070,#f3f075,#f4f17c,#f4f283,#f5f28b,#f5f392,#f6f49a,#f6f4a0,#f7f5a7,#f7f6ac,#f8f6b1,#f8f7b4,#f8f7b6,#f9f7b7,#f9f7b8,#f9f7b8,#f9f7b8,#f9f7b8,#f9f7b8,#f9f7b7,#f9f7b7)"></i>
<i style="background:linear-gradient(90deg,#f9f8bb,#f9f8bc,#f9f8bc,#f9f8bd,#f9f8bd,#f9f8bd,#f9f8bd,#f9f8bc,#f9f8bb,#f9f7b9,#f8f7b5,#f8f6b0,#f7f6ab,#f7f5a4,#f6f49d,#f5f396,#f5f38e,#f4f286,#f4f17f,#f3f178,#f3f072,#f2ef6d,#f2ef69,#f2ef66,#f2ee65,#f2ef66,#f2ef68,#f2ef6c,#f3f071,#f3f077,#f4f17d,#f4f284,#f5f28c,#f5f393,#f6f49b,#f6f5a1,#f7f5a8,#f8f6ad,#f8f6b2,#f8f7b5,#f9f7b7,#f9f7b8,#f9f7b9,#f9f7b9,#f9f7b9,#f9f7b9,#f9f7b9,#f9f7b8,#f9f7b8)"></i>
<i style="background:linear-gradient(90deg,#f9f8bb,#f9f8bc,#f9f8bc,#f9f8bc,#f9f8bd,#f9f8bd,#f9f8bd,#f9f8bc,#f9f8bb,#f9f7b9,#f8f7b5,#f8f6b0,#f7f6ab,#f7f5a4,#f6f49e,#f5f396,#f5f38e,#f4f287,#f4f180,#f3f179,#f3f073,#f2f06e,#f2ef6a,#f2ef67,#f2ef66,#f2ef67,#f2ef69,#f2ef6d,#f3f072,#f3f078,#f4f17e,#f4f285,#f5f28d,#f5f394,#f6f49c,#f7f5a2,#f7f5a9,#f8f6ae,#f8f7b3,#f8f7b6,#f9f7b8,#f9f7b9,#f9f7ba,#f9f7ba,#f9f7ba,#f9f7ba,#f9f7b9,#f9f7b9,#f9f7b9)"></i>
<i style="background:linear-gradient(90deg,#f9f8bb,#f9f8bc,#f9f8bc,#f9f8bc,#f9f8bd,#f9f8bd,#f9f8bc,#f9f8bc,#f9f7bb,#f9f7b9,#f8f7b5,#f8f6b1,#f7f6ab,#f7f5a5,#f6f49e,#f6f397,#f5f38f,#f4f287,#f4f180,#f3f17a,#f3f074,#f3f06f,#f2ef6b,#f2ef68,#f2ef67,#f2ef68,#f2ef6b,#f2f06e,#f3f073,#f3f179,#f4f180,#f4f287,#f5f38e,#f5f395,#f6f49d,#f7f5a4,#f7f5aa,#f8f6af,#f8f7b4,#f9f7b7,#f9f7b9,#f9f7ba,#f9f8bb,#f9f8bb,#f9f8bb,#f9f8bb,#f9f7ba,#f9f7ba,#f9f7ba)"></i>
<i style="background:linear-gradient(90deg,#f9f8bb,#f9f8bc,#f9f8bc,#f9f8bc,#f9f8bd,#f9f8bd,#f9f8bc,#f9f8bc,#f9f7bb,#f9f7b9,#f8f7b5,#f8f6b1,#f7f6ab,#f7f5a5,#f6f49e,#f6f397,#f5f390,#f4f288,#f4f181,#f3f17b,#f3f075,#f3f070,#f2ef6c,#f2ef6a,#f2ef69,#f2ef6a,#f2ef6c,#f3f070,#f3f075,#f3f17a,#f4f181,#f4f288,#f5f38f,#f6f397,#f6f49e,#f7f5a5,#f7f6ab,#f8f6b0,#f8f7b5,#f9f7b8,#f9f7ba,#f9f8bb,#f9f8bc,#f9f8bc,#f9f8bc,#f9f8bc,#f9f8bb,#f9f8bb,#f9f7bb)"></i>
<i style="background:linear-gradient(90deg,#f9f8bb,#f9f8bc,#f9f8bc,#f9f8bc,#f9f8bd,#f9f8bd,#f9f8bc,#f9f8bc,#f9f7bb,#f9f7b9,#f8f7b5,#f8f6b1,#f7f6ab,#f7f5a5,#f6f49f,#f6f398,#f5f390,#f4f289,#f4f182,#f3f17c,#f3f076,#f3f071,#f2ef6d,#f2ef6b,#f2ef6a,#f2ef6b,#f2f06d,#f3f071,#f3f076,#f3f17c,#f4f182,#f5f289,#f5f391,#f6f498,#f6f49f,#f7f5a6,#f7f6ac,#f8f6b1,#f8f7b6,#f9f7b9,#f9f8bb,#f9f8bc,#f9f8bd,#f9f8bd,#f9f8bd,#f9f8bd,#f9f8bd,#f9f8bc,#f9f8bc)"></i>
<i style="background:linear-gradient(90deg,#f9f8bb,#f9f8bc,#f9f8bc,#f9f8bc,#f9f8bd,#f9f8bd,#f9f8bc,#f9f8bc,#f9f7bb,#f9f7b9,#f8f7b5,#f8f6b1,#f7f6ac,#f7f5a6,#f6f49f,#f6f498,#f5f391,#f5f28a,#f4f283,#f4f17d,#f3f077,#f3f072,#f2f06f,#f2ef6c,#f2ef6b,#f2ef6c,#f3f06f,#f3f073,#f3f077,#f4f17d,#f4f284,#f5f28b,#f5f392,#f6f499,#f6f4a0,#f7f5a7,#f8f6ad,#f8f7b3,#f9f7b7,#f9f7ba,#f9f8bc,#f9f8be,#f9f8be,#f9f8be,#f9f8be,#f9f8be,#f9f8be,#f9f8bd,#f9f8bd)"></i>
<i style="background:linear-gradient(90deg,#f9f8bb,#f9f8bc,#f9f8bc,#f9f8bc,#f9f8bd,#f9f8bd,#f9f8bc,#f9f8bc,#f9f7bb,#f9f7b9,#f8f7b6,#f8f6b1,#f7f6ac,#f7f5a6,#f6f4a0,#f6f499,#f5f392,#f5f28b,#f4f284,#f4f17e,#f3f178,#f3f073,#f3f070,#f2f06e,#f2ef6d,#f2f06e,#f3f070,#f3f074,#f3f179,#f4f17f,#f4f285,#f5f28c,#f5f393,#f6f49b,#f6f5a2,#f7f5a8,#f8f6ae,#f8f7b4,#f9f7b8,#f9f8bc,#f9f8be,#f9f8bf,#f9f8bf,#f9f8c0,#f9f8c0,#f9f8bf,#f9f8bf,#f9f8be,#f9f8be)"></i>
<i style="background:linear-gradient(90deg,#f9f8bb,#f9f8bc,#f9f8bc,#f9f8bc,#f9f8bd,#f9f8bd,#f9f8bc,#f9f8bc,#f9f7bb,#f9f7b9,#f8f7b6,#f8f6b1,#f7f6ac,#f7f5a6,#f6f4a0,#f6f499,#f5f392,#f5f28b,#f4f285,#f4f17f,#f3f179,#f3f075,#f3f071,#f3f06f,#f2f06e,#f3f06f,#f3f072,#f3f076,#f3f17b,#f4f180,#f4f287,#f5f38e,#f5f395,#f6f49c,#f7f5a3,#f7f5aa,#f8f6b0,#f8f7b5,#f9f7ba,#f9f8bd,#f9f8bf,#f9f8c0,#f9f8c1,#faf8c1,#faf8c1,#f9f8c1,#f9f8c0,#f9f8c0,#f9f8bf)"></i>
<i style="background:linear-gradient(90deg,#f9f8bb,#f9f8bc,#f9f8bc,#f9f8bc,#f9f8bc,#f9f8bc,#f9f8bc,#f9f8bc,#f9f7bb,#f9f7b9,#f8f7b6,#f8f6b2,#f8f6ac,#f7f5a7,#f6f4a1,#f6f49a,#f5f393,#f5f28c,#f4f286,#f4f180,#f3f17b,#f3f076,#f3f073,#f3f071,#f3f070,#f3f071,#f3f074,#f3f077,#f4f17c,#f4f182,#f4f288,#f5f38f,#f6f396,#f6f49e,#f7f5a5,#f7f6ab,#f8f6b1,#f8f7b6,#f9f8bb,#f9f8be,#f9f8c0,#faf8c1,#faf8c2,#faf8c2,#faf8c2,#faf8c2,#faf8c1,#faf8c1,#f9f8c1)"></i>
<i style="background:linear-gradient(90deg,#f9f8bb,#f9f8bb,#f9f8bc,#f9f8bc,#f9f8bc,#f9f8bc,#f9f8bc,#f9f8bc,#f9f7bb,#f9f7b9,#f8f7b6,#f8f6b2,#f8f6ad,#f7f5a7,#f6f4a1,#f6f49b,#f5f394,#f5f38d,#f4f287,#f4f181,#f3f17c,#f3f078,#f3f074,#f3f072,#f3f072,#f3f073,#f3f075,#f3f179,#f4f17e,#f4f284,#f5f28a,#f5f391,#f6f498,#f6f49f,#f7f5a6,#f8f6ad,#f8f7b3,#f9f7b8,#f9f8bc,#f9f8bf,#faf8c1,#faf8c3,#faf8c3,#faf9c3,#faf9c3,#faf8c3,#faf8c3,#faf8c2,#faf8c2)"></i>
<i style="background:linear-gradient(90deg,#f9f8bb,#f9f8bb,#f9f8bc,#f9f8bc,#f9f8bc,#f9f8bc,#f9f8bc,#f9f8bc,#f9f7bb,#f9f7b9,#f8f7b6,#f8f6b2,#f8f6ad,#f7f5a8,#f6f5a2,#f6f49b,#f5f395,#f5f38e,#f4f288,#f4f182,#f4f17d,#f3f179,#f3f076,#f3f074,#f3f073,#f3f074,#f3f077,#f3f17b,#f4f180,#f4f285,#f5f28c,#f5f393,#f6f49a,#f6f4a1,#f7f5a8,#f8f6ae,#f8f7b4,#f9f7b9,#f9f8be,#faf8c1,#faf8c3,#faf9c4,#faf9c4,#faf9c5,#faf9c5,#faf9c4,#faf9c4,#faf9c4,#faf9c3)"></i>
<i style="background:linear-gradient(90deg,#f9f8bb,#f9f8bb,#f9f8bc,#f9f8bc,#f9f8bc,#f9f8bc,#f9f8bc,#f9f8bc,#f9f7bb,#f9f7b9,#f8f7b6,#f8f6b2,#f8f6ad,#f7f5a8,#f7f5a2,#f6f49c,#f5f396,#f5f38f,#f4f289,#f4f284,#f4f17f,#f3f17a,#f3f077,#f3f076,#f3f075,#f3f076,#f3f179,#f4f17d,#f4f181,#f4f287,#f5f38d,#f5f394,#f6f49b,#f7f5a2,#f7f5a9,#f8f6b0,#f8f7b5,#f9f7bb,#f9f8bf,#faf8c2,#faf9c4,#faf9c5,#faf9c6,#faf9c6,#faf9c6,#faf9c6,#faf9c5,#faf9c5,#faf9c5)"></i>
<i style="background:linear-gradient(90deg,#f9f8bb,#f9f8bb,#f9f8bc,#f9f8bc,#f9f8bc,#f9f8bc,#f9f8bc,#f9f8bc,#f9f7bb,#f9f7b9,#f8f7b6,#f8f7b2,#f8f6ae,#f7f5a8,#f7f5a3,#f6f49d,#f6f396,#f5f390,#f5f28a,#f4f285,#f4f180,#f4f17c,#f3f179,#f3f077,#f3f077,#f3f178,#f3f17b,#f4f17e,#f4f283,#f4f289,#f5f38f,#f5f396,#f6f49d,#f7f5a4,#f7f6ab,#f8f6b1,#f9f7b7,#f9f8bc,#f9f8c0,#faf9c4,#faf9c6,#faf9c7,#faf9c7,#faf9c8,#faf9c8,#faf9c7,#faf9c7,#faf9c7,#faf9c6)"></i>
<i style="background:linear-gradient(90deg,#f9f8bb,#f9f8bb,#f9f8bc,#f9f8bc,#f9f8bc,#f9f8bc,#f9f8bc,#f9f8bc,#f9f7bb,#f9f7b9,#f8f7b6,#f8f7b2,#f8f6ae,#f7f5a9,#f7f5a3,#f6f49d,#f6f397,#f5f391,#f5f28b,#f4f286,#f4f181,#f4f17e,#f3f17b,#f3f179,#f3f179,#f3f17a,#f4f17c,#f4f180,#f4f285,#f5f28b,#f5f391,#f6f498,#f6f49f,#f7f5a6,#f7f6ac,#f8f7b3,#f9f7b8,#f9f8be,#faf8c2,#faf9c5,#faf9c7,#faf9c8,#faf9c9,#faf9c9,#faf9c9,#faf9c9,#faf9c8,#faf9c8,#faf9c8)"></i>
<i style="background:linear-gradient(90deg,#f9f8bb,#f9f8bb,#f9f8bc,#f9f8bc,#f9f8bc,#f9f8bc,#f9f8bc,#f9f8bc,#f9f7bb,#f9f7b9,#f8f7b6,#f8f7b3,#f8f6ae,#f7f5a9,#f7f5a4,#f6f49e,#f6f498,#f5f392,#f5f28d,#f4f287,#f4f283,#f4f17f,#f4f17c,#f3f17b,#f3f17a,#f3f17c,#f4f17e,#f4f182,#f4f287,#f5f28d,#f5f393,#f6f49a,#f6f4a1,#f7f5a7,#f8f6ae,#f8f7b4,#f9f7ba,#f9f8bf,#faf9c3,#faf9c7,#faf9c9,#faf9ca,#faf9ca,#faf9ca,#faf9ca,#faf9ca,#faf9ca,#faf9c9,#faf9c9)"></i>
<i style="background:linear-gradient(90deg,#f9f8bb,#f9f8bb,#f9f8bc,#f9f8bc,#f9f8bc,#f9f8bc,#f9f8bc,#f9f8bc,#f9f7bb,#f9f7b9,#f8f7b6,#f8f7b3,#f8f6af,#f7f5aa,#f7f5a4,#f6f49f,#f6f499,#f5f393,#f5f38e,#f4f289,#f4f284,#f4f181,#f4f17e,#f4f17d,#f4f17c,#f4f17e,#f4f180,#f4f284,#f4f289,#f5f38f,#f5f395,#f6f49c,#f7f5a2,#f7f5a9,#f8f6b0,#f8f7b6,#f9f8bc,#faf8c1,#faf9c5,#faf9c8,#faf9ca,#fbf9cb,#fbfacc,#fbfacc,#fbfacc,#fbf9cc,#fbf9cb,#fbf9cb,#faf9cb)"></i>
<i style="background:linear-gradient(90deg,#f9f8bb,#f9f8bb,#f9f8bc,#f9f8bc,#f9f8bc,#f9f8bc,#f9f8bc,#f9f8bc,#f9f7bb,#f9f7b9,#f9f7b7,#f8f7b3,#f8f6af,#f7f6aa,#f7f5a5,#f6f4a0,#f6f49a,#f5f394,#f5f38f,#f5f28a,#f4f286,#f4f182,#f4f180,#f4f17e,#f4f17e,#f4f180,#f4f182,#f4f286,#f5f28b,#f5f391,#f6f397,#f6f49d,#f7f5a4,#f7f6ab,#f8f6b1,#f9f7b8,#f9f8bd,#faf8c2,#faf9c7,#faf9ca,#fbf9cc,#fbfacd,#fbfacd,#fbface,#fbface,#fbfacd,#fbfacd,#fbfacd,#fbfacc)"></i>
<i style="background:linear-gradient(90deg,#f9f8bb,#f9f8bb,#f9f8bc,#f9f8bc,#f9f8bc,#f9f8bc,#f9f8bc,#f9f8bb,#f9f7bb,#f9f7b9,#f9f7b7,#f8f7b3,#f8f6af,#f7f6ab,#f7f5a6,#f6f4a0,#f6f49b,#f5f395,#f5f390,#f5f28c,#f4f287,#f4f284,#f4f182,#f4f180,#f4f180,#f4f182,#f4f284,#f4f288,#f5f28d,#f5f393,#f6f499,#f6f49f,#f7f5a6,#f8f6ad,#f8f7b3,#f9f7b9,#f9f8bf,#faf9c4,#faf9c8,#fbf9cb,#fbfacd,#fbface,#fbfacf,#fbfacf,#fbfacf,#fbfacf,#fbface,#fbface,#fbface)"></i>
<i style="background:linear-gradient(90deg,#f9f8bb,#f9f8bb,#f9f8bc,#f9f8bc,#f9f8bc,#f9f8bc,#f9f8bc,#f9f8bb,#f9f7bb,#f9f7b9,#f9f7b7,#f8f7b3,#f8f6af,#f7f6ab,#f7f5a6,#f6f4a1,#f6f49c,#f6f397,#f5f392,#f5f28d,#f4f289,#f4f286,#f4f283,#f4f182,#f4f182,#f4f284,#f4f286,#f5f28a,#f5f38f,#f5f395,#f6f49b,#f6f4a1,#f7f5a8,#f8f6ae,#f8f7b5,#f9f8bb,#f9f8c1,#faf9c6,#faf9ca,#fbfacd,#fbfacf,#fbfad0,#fbfad0,#fbfad1,#fbfad1,#fbfad0,#fbfad0,#fbfad0,#fbfacf)"></i>
<i style="background:linear-gradient(90deg,#f9f8bb,#f9f8bb,#f9f8bc,#f9f8bc,#f9f8bc,#f9f8bc,#f9f8bc,#f9f8bb,#f9f7bb,#f9f7b9,#f9f7b7,#f8f7b4,#f8f6b0,#f7f6ab,#f7f5a7,#f6f5a2,#f6f49d,#f6f398,#f5f393,#f5f38e,#f5f28b,#f4f287,#f4f285,#f4f284,#f4f284,#f4f286,#f4f288,#f5f28c,#f5f391,#f6f397,#f6f49d,#f7f5a3,#f7f5aa,#f8f6b0,#f9f7b7,#f9f8bd,#faf8c2,#faf9c7,#fbf9cb,#fbfacf,#fbfad0,#fbfad1,#fbfad2,#fbfad2,#fbfad2,#fbfad2,#fbfad2,#fbfad1,#fbfad1)"></i>
<i style="background:linear-gradient(90deg,#f9f8bb,#f9f8bb,#f9f8bb,#f9f8bc,#f9f8bc,#f9f8bc,#f9f8bc,#f9f8bb,#f9f7bb,#f9f7b9,#f9f7b7,#f8f7b4,#f8f6b0,#f7f6ac,#f7f5a7,#f7f5a2,#f6f49e,#f6f499,#f5f394,#f5f390,#f5f28c,#f5f289,#f4f287,#f4f286,#f4f286,#f4f288,#f5f28a,#f5f38e,#f5f393,#f6f499,#f6f49f,#f7f5a5,#f7f6ac,#f8f6b2,#f9f7b8,#f9f8bf,#faf9c4,#faf9c9,#fbfacd,#fbfad0,#fbfad2,#fbfad3,#fbfad3,#fbfad4,#fbfad4,#fbfad3,#fbfad3,#fbfad3,#fbfad2)"></i>
<i style="background:linear-gradient(90deg,#f9f8bb,#f9f8bb,#f9f8bb,#f9f8bc,#f9f8bc,#f9f8bc,#f9f8bc,#f9f8bb,#f9f7bb,#f9f7b9,#f9f7b7,#f8f7b4,#f8f6b0,#f7f6ac,#f7f5a8,#f7f5a3,#f6f49f,#f6f49a,#f5f395,#f5f391,#f5f38e,#f5f28b,#f4f289,#f4f288,#f4f288,#f5f28a,#f5f28d,#f5f390,#f5f395,#f6f49b,#f6f4a1,#f7f5a7,#f8f6ad,#f8f7b4,#f9f7ba,#f9f8c0,#faf9c6,#faf9cb,#fbfacf,#fbfad2,#fbfad3,#fbfad4,#fbfbd5,#fbfbd5,#fbfbd5,#fbfbd5,#fbfad5,#fbfad4,#fbfad4)"></i>
<i style="background:linear-gradient(90deg,#f9f8bb,#f9f8bb,#f9f8bb,#f9f8bb,#f9f8bc,#f9f8bc,#f9f8bc,#f9f8bb,#f9f7ba,#f9f7b9,#f9f7b7,#f8f7b4,#f8f6b1,#f8f6ad,#f7f5a8,#f7f5a4,#f6f4a0,#f6f49b,#f6f397,#f5f393,#f5f38f,#f5f28d,#f5f28b,#f5f28a,#f5f28a,#f5f28c,#f5f38f,#f5f393,#f6f397,#f6f49d,#f7f5a3,#f7f5a9,#f8f6af,#f8f7b6,#f9f8bc,#faf8c2,#faf9c8,#fbfacc,#fbfad0,#fbfad3,#fbfbd5,#fbfbd6,#fcfbd6,#fcfbd7,#fcfbd7,#fcfbd6,#fcfbd6,#fbfbd6,#fbfbd5)"></i>
<i style="background:linear-gradient(90deg,#f9f7bb,#f9f8bb,#f9f8bb,#f9f8bb,#f9f8bc,#f9f8bc,#f9f8bb,#f9f8bb,#f9f7ba,#f9f7b9,#f9f7b7,#f8f7b4,#f8f6b1,#f8f6ad,#f7f5a9,#f7f5a5,#f6f4a0,#f6f49c,#f6f498,#f5f394,#f5f391,#f5f38f,#f5f28d,#f5f28c,#f5f28c,#f5f38e,#f5f391,#f5f395,#f6f49a,#f6f49f,#f7f5a5,#f7f6ab,#f8f6b1,#f9f7b8,#f9f8be,#faf9c4,#faf9c9,#fbface,#fbfad2,#fbfbd5,#fcfbd6,#fcfbd7,#fcfbd8,#fcfbd8,#fcfbd8,#fcfbd8,#fcfbd8,#fcfbd7,#fcfbd7)"></i>
<i style="background:linear-gradient(90deg,#f9f7bb,#f9f8bb,#f9f8bb,#f9f8bb,#f9f8bb,#f9f8bb,#f9f8bb,#f9f8bb,#f9f7ba,#f9f7b9,#f9f7b7,#f8f7b4,#f8f6b1,#f8f6ae,#f7f5aa,#f7f5a6,#f6f5a1,#f6f49d,#f6f499,#f5f396,#f5f393,#f5f390,#f5f38f,#f5f38e,#f5f38f,#f5f390,#f5f393,#f6f397,#f6f49c,#f6f4a1,#f7f5a7,#f8f6ad,#f8f7b3,#f9f7ba,#f9f8c0,#faf9c6,#fbf9cb,#fbfad0,#fbfad4,#fcfbd6,#fcfbd8,#fcfbd9,#fcfbd9,#fcfbda,#fcfbda,#fcfbd9,#fcfbd9,#fcfbd9,#fcfbd8)"></i>
<i style="background:linear-gradient(90deg,#f9f7ba,#f9f7bb,#f9f8bb,#f9f8bb,#f9f8bb,#f9f8bb,#f9f8bb,#f9f8bb,#f9f7ba,#f9f7b9,#f9f7b7,#f8f7b5,#f8f6b2,#f8f6ae,#f7f6aa,#f7f5a6,#f7f5a2,#f6f49e,#f6f49b,#f6f397,#f5f394,#f5f392,#f5f391,#f5f390,#f5f391,#f5f392,#f5f395,#f6f499,#f6f49e,#f7f5a3,#f7f5a9,#f8f6af,#f8f7b5,#f9f8bc,#faf8c2,#faf9c8,#fbfacd,#fbfad2,#fbfbd5,#fcfbd8,#fcfbda,#fcfbda,#fcfbdb,#fcfbdb,#fcfbdb,#fcfbdb,#fcfbdb,#fcfbda,#fcfbda)"></i>
<i style="background:linear-gradient(90deg,#f9f7ba,#f9f7bb,#f9f8bb,#f9f8bb,#f9f8bb,#f9f8bb,#f9f8bb,#f9f7bb,#f9f7ba,#f9f7b9,#f9f7b7,#f8f7b5,#f8f6b2,#f8f6ae,#f7f6ab,#f7f5a7,#f7f5a3,#f6f4a0,#f6f49c,#f6f499,#f5f396,#f5f394,#f5f393,#f5f392,#f5f393,#f5f394,#f6f397,#f6f49b,#f6f4a0,#f7f5a5,#f7f6ab,#f8f6b1,#f9f7b7,#f9f8be,#faf9c4,#faf9c9,#fbfacf,#fbfad3,#fcfbd7,#fcfbd9,#fcfbdb,#fcfbdc,#fcfbdd,#fcfbdd,#fcfbdd,#fcfbdd,#fcfbdc,#fcfbdc,#fcfbdc)"></i>
<i style="background:linear-gradient(90deg,#f9f7ba,#f9f7ba,#f9f7bb,#f9f8bb,#f9f8bb,#f9f8bb,#f9f8bb,#f9f7ba,#f9f7ba,#f9f7b9,#f9f7b7,#f8f7b5,#f8f6b2,#f8f6af,#f7f6ab,#f7f5a8,#f7f5a4,#f6f4a1,#f6f49d,#f6f49a,#f6f498,#f5f396,#f5f395,#f5f394,#f5f395,#f6f397,#f6f49a,#f6f49e,#f7f5a2,#f7f5a7,#f8f6ad,#f8f7b3,#f9f7b9,#f9f8bf,#faf9c6,#fbf9cb,#fbfad1,#fbfbd5,#fcfbd8,#fcfbdb,#fcfbdd,#fcfbde,#fcfbde,#fcfcde,#fcfcde,#fcfbde,#fcfbde,#fcfbdd,#fcfbdd)"></i>
<i style="background:linear-gradient(90deg,#f9f7ba,#f9f7ba,#f9f7ba,#f9f7bb,#f9f7bb,#f9f7bb,#f9f7bb,#f9f7ba,#f9f7ba,#f9f7b9,#f9f7b7,#f8f7b5,#f8f7b2,#f8f6af,#f7f6ac,#f7f5a9,#f7f5a5,#f6f5a2,#f6f49f,#f6f49c,#f6f499,#f6f398,#f6f397,#f5f396,#f6f397,#f6f499,#f6f49c,#f6f4a0,#f7f5a4,#f7f5a9,#f8f6af,#f8f7b5,#f9f8bb,#faf8c1,#faf9c7,#fbfacd,#fbfad2,#fcfbd6,#fcfbda,#fcfbdd,#fcfcde,#fcfcdf,#fcfce0,#fcfce0,#fcfce0,#fcfce0,#fcfcdf,#fcfcdf,#fcfcdf)"></i>
<i style="background:linear-gradient(90deg,#f9f7ba,#f9f7ba,#f9f7ba,#f9f7ba,#f9f7ba,#f9f7ba,#f9f7ba,#f9f7ba,#f9f7ba,#f9f7b9,#f9f7b7,#f8f7b5,#f8f7b3,#f8f6b0,#f8f6ad,#f7f5a9,#f7f5a6,#f7f5a3,#f6f4a0,#f6f49d,#f6f49b,#f6f49a,#f6f499,#f6f498,#f6f499,#f6f49b,#f6f49e,#f6f5a2,#f7f5a6,#f7f6ac,#f8f6b1,#f9f7b7,#f9f8bd,#faf9c3,#faf9c9,#fbfacf,#fbfad4,#fcfbd8,#fcfbdc,#fcfcde,#fcfce0,#fcfce1,#fcfce1,#fcfce1,#fcfce1,#fcfce1,#fcfce1,#fcfce0,#fcfce0)"></i>
<i style="background:linear-gradient(90deg,#f9f7ba,#f9f7ba,#f9f7ba,#f9f7ba,#f9f7ba,#f9f7ba,#f9f7ba,#f9f7ba,#f9f7ba,#f9f7b9,#f9f7b7,#f8f7b5,#f8f7b3,#f8f6b0,#f8f6ad,#f7f6aa,#f7f5a7,#f7f5a4,#f6f5a1,#f6f49f,#f6f49d,#f6f49b,#f6f49b,#f6f49b,#f6f49b,#f6f49d,#f6f4a0,#f7f5a4,#f7f5a9,#f8f6ae,#f8f7b3,#f9f7b9,#f9f8bf,#faf9c5,#fbf9cb,#fbfad1,#fbfbd5,#fcfbda,#fcfbdd,#fcfce0,#fcfce1,#fdfce2,#fdfce3,#fdfce3,#fdfce3,#fdfce3,#fdfce2,#fdfce2,#fdfce2)"></i>
<i style="background:linear-gradient(90deg,#f9f7ba,#f9f7ba,#f9f7ba,#f9f7ba,#f9f7ba,#f9f7ba,#f9f7ba,#f9f7ba,#f9f7b9,#f9f7b9,#f9f7b7,#f8f7b5,#f8f7b3,#f8f6b0,#f8f6ae,#f7f6ab,#f7f5a8,#f7f5a5,#f7f5a3,#f6f4a0,#f6f49e,#f6f49d,#f6f49d,#f6f49d,#f6f49e,#f6f49f,#f7f5a2,#f7f5a6,#f7f6ab,#f8f6b0,#f8f7b5,#f9f8bb,#faf8c1,#faf9c7,#fbfacd,#fbfad2,#fcfbd7,#fcfbdb,#fcfcdf,#fcfce1,#fdfce3,#fdfce4,#fdfce4,#fdfce4,#fdfce4,#fdfce4,#fdfce4,#fdfce4,#fdfce3)"></i>
<i style="background:linear-gradient(90deg,#f9f7b9,#f9f7b9,#f9f7ba,#f9f7ba,#f9f7ba,#f9f7ba,#f9f7ba,#f9f7b9,#f9f7b9,#f9f7b8,#f9f7b7,#f8f7b5,#f8f7b3,#f8f6b1,#f8f6ae,#f7f6ab,#f7f5a9,#f7f5a6,#f7f5a4,#f6f5a2,#f6f4a0,#f6f49f,#f6f49e,#f6f49f,#f6f4a0,#f6f5a2,#f7f5a4,#f7f5a8,#f8f6ad,#f8f6b2,#f9f7b8,#f9f8bd,#faf9c3,#faf9c9,#fbfacf,#fbfad4,#fcfbd9,#fcfbdd,#fcfce0,#fdfce3,#fdfce4,#fdfce5,#fdfce6,#fdfce6,#fdfce6,#fdfce6,#fdfce5,#fdfce5,#fdfce5)"></i>
<i style="background:linear-gradient(90deg,#f9f7b9,#f9f7b9,#f9f7b9,#f9f7b9,#f9f7b9,#f9f7b9,#f9f7b9,#f9f7b9,#f9f7b9,#f9f7b8,#f9f7b7,#f8f7b5,#f8f7b3,#f8f6b1,#f8f6af,#f7f6ac,#f7f5aa,#f7f5a7,#f7f5a5,#f7f5a3,#f6f5a2,#f6f4a1,#f6f4a0,#f6f4a1,#f6f5a2,#f7f5a4,#f7f5a7,#f7f6aa,#f8f6af,#f8f7b4,#f9f7ba,#f9f8bf,#faf9c5,#fbf9cb,#fbfad1,#fbfbd6,#fcfbda,#fcfcde,#fdfce2,#fdfce4,#fdfce6,#fdfce7,#fdfce7,#fdfde8,#fdfce7,#fdfce7,#fdfce7,#fdfce7,#fdfce6)"></i>
<i style="background:linear-gradient(90deg,#f9f7b9,#f9f7b9,#f9f7b9,#f9f7b9,#f9f7b9,#f9f7b9,#f9f7b9,#f9f7b9,#f9f7b9,#f9f7b8,#f9f7b7,#f8f7b5,#f8f7b3,#f8f6b1,#f8f6af,#f8f6ad,#f7f6aa,#f7f5a8,#f7f5a6,#f7f5a5,#f7f5a3,#f7f5a2,#f7f5a2,#f7f5a3,#f7f5a4,#f7f5a6,#f7f5a9,#f8f6ad,#f8f6b1,#f8f7b6,#f9f8bc,#faf8c1,#faf9c7,#fbfacd,#fbfad3,#fcfbd8,#fcfbdc,#fcfce0,#fdfce3,#fdfce6,#fdfce7,#fdfde8,#fdfde9,#fdfde9,#fdfde9,#fdfde9,#fdfde8,#fdfde8,#fdfde8)"></i>
<i style="background:linear-gradient(90deg,#f9f7b8,#f9f7b9,#f9f7b9,#f9f7b9,#f9f7b9,#f9f7b9,#f9f7b9,#f9f7b9,#f9f7b8,#f9f7b8,#f9f7b7,#f8f7b5,#f8f7b4,#f8f6b2,#f8f6b0,#f8f6ad,#f7f6ab,#f7f5a9,#f7f5a8,#f7f5a6,#f7f5a5,#f7f5a4,#f7f5a4,#f7f5a5,#f7f5a6,#f7f5a8,#f7f6ab,#f8f6af,#f8f7b3,#f9f7b8,#f9f8be,#faf9c3,#faf9c9,#fbfacf,#fbfad4,#fcfbd9,#fcfbde,#fcfce2,#fdfce5,#fdfce7,#fdfde9,#fdfdea,#fdfdea,#fdfdea,#fdfdea,#fdfdea,#fdfdea,#fdfdea,#fdfde9)"></i>
<i style="background:linear-gradient(90deg,#f9f7b8,#f9f7b8,#f9f7b8,#f9f7b8,#f9f7b8,#f9f7b8,#f9f7b8,#f9f7b8,#f9f7b8,#f9f7b8,#f9f7b7,#f8f7b5,#f8f7b4,#f8f6b2,#f8f6b0,#f8f6ae,#f7f6ac,#f7f6aa,#f7f5a9,#f7f5a7,#f7f5a7,#f7f5a6,#f7f5a6,#f7f5a7,#f7f5a8,#f7f6aa,#f8f6ad,#f8f6b1,#f8f7b5,#f9f7ba,#f9f8c0,#faf9c6,#fbf9cb,#fbfad1,#fcfbd6,#fcfbdb,#fcfcdf,#fdfce3,#fdfce6,#fdfde9,#fdfdea,#fdfdeb,#fdfdec,#fdfdec,#fdfdec,#fdfdec,#fdfdeb,#fdfdeb,#fdfdeb)"></i>
<i style="background:linear-gradient(90deg,#f9f7b8,#f9f7b8,#f9f7b8,#f9f7b8,#f9f7b8,#f9f7b8,#f9f7b8,#f9f7b8,#f9f7b8,#f9f7b7,#f8f7b6,#f8f7b5,#f8f7b4,#f8f6b2,#f8f6b0,#f8f6af,#f8f6ad,#f7f6ab,#f7f6aa,#f7f5a9,#f7f5a8,#f7f5a8,#f7f5a8,#f7f5a9,#f7f6aa,#f7f6ac,#f8f6af,#f8f7b3,#f9f7b8,#f9f8bd,#faf8c2,#faf9c8,#fbfacd,#fbfad3,#fcfbd8,#fcfbdc,#fcfce1,#fdfce5,#fdfde8,#fdfdea,#fdfdec,#fdfded,#fdfded,#fefded,#fefded,#fdfded,#fdfded,#fdfded,#fdfdec)"></i>
<i style="background:linear-gradient(90deg,#f9f7b7,#f9f7b8,#f9f7b8,#f9f7b8,#f9f7b8,#f9f7b8,#f9f7b8,#f9f7b8,#f9f7b7,#f9f7b7,#f8f7b6,#f8f7b5,#f8f7b4,#f8f7b2,#f8f6b1,#f8f6af,#f8f6ae,#f8f6ac,#f7f6ab,#f7f6aa,#f7f5aa,#f7f5a9,#f7f5aa,#f7f6aa,#f7f6ac,#f8f6ae,#f8f6b1,#f8f7b5,#f9f7ba,#f9f8bf,#faf9c4,#faf9c9,#fbfacf,#fbfad4,#fcfbd9,#fcfcde,#fdfce2,#fdfce6,#fdfde9,#fdfdec,#fdfded,#fefdee,#fefdef,#fefdef,#fefdef,#fefdef,#fefdee,#fefdee,#fefdee)"></i>
<i style="background:linear-gradient(90deg,#f9f7b7,#f9f7b7,#f9f7b7,#f9f7b7,#f9f7b7,#f9f7b7,#f9f7b7,#f9f7b7,#f9f7b7,#f9f7b7,#f8f7b6,#f8f7b5,#f8f7b4,#f8f7b3,#f8f6b1,#f8f6b0,#f8f6af,#f8f6ad,#f8f6ac,#f7f6ac,#f7f6ab,#f7f6ab,#f7f6ab,#f8f6ac,#f8f6ae,#f8f6b0,#f8f7b3,#f9f7b7,#f9f8bc,#f9f8c1,#faf9c6,#fbf9cb,#fbfad1,#fcfbd6,#fcfbdb,#fcfce0,#fdfce4,#fdfde8,#fdfdeb,#fdfded,#fefdef,#fefdf0,#fefdf0,#fefdf0,#fefdf0,#fefdf0,#fefdf0,#fefdef,#fefdef)"></i>
<i style="background:linear-gradient(90deg,#f9f7b7,#f9f7b7,#f9f7b7,#f9f7b7,#f9f7b7,#f9f7b7,#f9f7b7,#f9f7b7,#f9f7b7,#f8f7b6,#f8f7b6,#f8f7b5,#f8f7b4,#f8f7b3,#f8f6b2,#f8f6b0,#f8f6af,#f8f6ae,#f8f6ae,#f8f6ad,#f8f6ad,#f8f6ad,#f8f6ad,#f8f6ae,#f8f6b0,#f8f7b2,#f8f7b5,#f9f7b9,#f9f8be,#faf8c3,#faf9c8,#fbfacd,#fbfad3,#fcfbd8,#fcfbdd,#fcfce1,#fdfce6,#fdfde9,#fdfdec,#fefdef,#fefdf0,#fefef1,#fefef1,#fefef2,#fefef2,#fefef1,#fefef1,#fefdf1,#fefdf1)"></i>
<i style="background:linear-gradient(90deg,#f8f7b6,#f8f7b6,#f8f7b6,#f8f7b6,#f8f7b6,#f8f7b6,#f8f7b6,#f8f7b6,#f8f7b6,#f8f7b6,#f8f7b6,#f8f7b5,#f8f7b4,#f8f7b3,#f8f6b2,#f8f6b1,#f8f6b0,#f8f6af,#f8f6af,#f8f6ae,#f8f6ae,#f8f6ae,#f8f6af,#f8f6b0,#f8f6b2,#f8f7b4,#f9f7b7,#f9f8bb,#f9f8c0,#faf9c5,#faf9ca,#fbfacf,#fbfad4,#fcfbd9,#fcfcde,#fdfce3,#fdfce7,#fdfdeb,#fefdee,#fefdf0,#fefef2,#fefef2,#fefef3,#fefef3,#fefef3,#fefef3,#fefef3,#fefef2,#fefef2)"></i>
<i style="background:linear-gradient(90deg,#f8f7b6,#f8f7b6,#f8f7b6,#f8f7b6,#f8f7b6,#f8f7b6,#f8f7b6,#f8f7b6,#f8f7b6,#f8f7b6,#f8f7b5,#f8f7b5,#f8f7b4,#f8f7b3,#f8f7b2,#f8f6b2,#f8f6b1,#f8f6b0,#f8f6b0,#f8f6b0,#f8f6b0,#f8f6b0,#f8f6b1,#f8f6b2,#f8f7b4,#f8f7b6,#f9f7ba,#f9f8bd,#faf8c2,#faf9c7,#fbfacc,#fbfad1,#fcfbd6,#fcfbdb,#fcfce0,#fdfce4,#fdfde9,#fdfdec,#fefdef,#fefef1,#fefef3,#fefef4,#fefef4,#fefef4,#fefef4,#fefef4,#fefef4,#fefef4,#fefef3)"></i>
<i style="background:linear-gradient(90deg,#f8f7b5,#f8f7b5,#f8f7b5,#f8f7b5,#f8f7b5,#f8f7b5,#f8f7b5,#f8f7b5,#f8f7b5,#f8f7b5,#f8f7b5,#f8f7b4,#f8f7b4,#f8f7b3,#f8f7b3,#f8f6b2,#f8f6b2,#f8f6b1,#f8f6b1,#f8f6b1,#f8f6b1,#f8f6b2,#f8f7b3,#f8f7b4,#f8f7b6,#f9f7b8,#f9f8bc,#f9f8bf,#faf9c4,#faf9c9,#fbface,#fbfad3,#fcfbd8,#fcfbdd,#fcfce1,#fdfce6,#fdfdea,#fefdee,#fefdf0,#fefef3,#fefef4,#fefef5,#fefef5,#fefef6,#fefef6,#fefef5,#fefef5,#fefef5,#fefef5)"></i>
<i style="background:linear-gradient(90deg,#f8f7b5,#f8f7b5,#f8f7b5,#f8f7b5,#f8f7b5,#f8f7b5,#f8f7b5,#f8f7b5,#f8f7b5,#f8f7b5,#f8f7b5,#f8f7b4,#f8f7b4,#f8f7b3,#f8f7b3,#f8f7b2,#f8f6b2,#f8f6b2,#f8f6b2,#f8f6b2,#f8f7b2,#f8f7b3,#f8f7b4,#f8f7b6,#f9f7b8,#f9f7ba,#f9f8be,#faf8c1,#faf9c6,#faf9cb,#fbfad0,#fbfad5,#fcfbd9,#fcfcde,#fdfce3,#fdfce7,#fdfdeb,#fefdef,#fefef2,#fefef4,#fefef5,#fefef6,#fefef7,#fefef7,#fefef7,#fefef7,#fefef6,#fefef6,#fefef6)"></i>
<i style="background:linear-gradient(90deg,#f8f7b4,#f8f7b4,#f8f7b4,#f8f7b4,#f8f7b4,#f8f7b4,#f8f7b4,#f8f7b4,#f8f7b4,#f8f7b4,#f8f7b4,#f8f7b4,#f8f7b4,#f8f7b3,#f8f7b3,#f8f7b3,#f8f7b3,#f8f7b3,#f8f7b3,#f8f7b3,#f8f7b4,#f8f7b5,#f8f7b6,#f9f7b7,#f9f7b9,#f9f8bc,#f9f8bf,#faf9c3,#faf9c8,#fbfacd,#fbfad1,#fcfbd6,#fcfbdb,#fcfce0,#fdfce4,#fdfde9,#fdfded,#fefdf0,#fefef3,#fefef5,#fefef7,#fefef8,#fefef8,#fefef8,#fefef8,#fefef8,#fefef8,#fefef7,#fefef7)"></i>
<i style="background:linear-gradient(90deg,#f8f7b4,#f8f7b4,#f8f7b4,#f8f7b4,#f8f7b3,#f8f7b3,#f8f7b4,#f8f7b4,#f8f7b4,#f8f7b4,#f8f7b4,#f8f7b4,#f8f7b4,#f8f7b3,#f8f7b3,#f8f7b3,#f8f7b3,#f8f7b4,#f8f7b4,#f8f7b4,#f8f7b5,#f8f7b6,#f9f7b7,#f9f7b9,#f9f8bb,#f9f8be,#faf8c1,#faf9c5,#faf9ca,#fbface,#fbfad3,#fcfbd8,#fcfbdd,#fcfce1,#fdfce6,#fdfdea,#fefdee,#fefef2,#fefef4,#fefef7,#fefef8,#fefef9,#fffef9,#fffef9,#fffef9,#fffef9,#fefef9,#fefef9,#fefef8)"></i>
<i style="background:linear-gradient(90deg,#f8f7b3,#f8f7b3,#f8f7b3,#f8f7b3,#f8f7b3,#f8f7b3,#f8f7b3,#f8f7b3,#f8f7b3,#f8f7b3,#f8f7b3,#f8f7b3,#f8f7b3,#f8f7b3,#f8f7b4,#f8f7b4,#f8f7b4,#f8f7b4,#f8f7b5,#f8f7b6,#f8f7b6,#f9f7b8,#f9f7b9,#f9f8bb,#f9f8bd,#f9f8c0,#faf9c3,#faf9c7,#fbf9cc,#fbfad0,#fbfbd5,#fcfbda,#fcfcde,#fdfce3,#fdfce7,#fdfdec,#fefdef,#fefef3,#fefef6,#fefef8,#fffef9,#fffefa,#fffffa,#fffffb,#fffffb,#fffffa,#fffefa,#fffefa,#fffef9)"></i>
<i style="background:linear-gradient(90deg,#f8f7b2,#f8f7b2,#f8f6b2,#f8f6b2,#f8f6b2,#f8f6b2,#f8f6b2,#f8f7b2,#f8f7b2,#f8f7b3,#f8f7b3,#f8f7b3,#f8f7b3,#f8f7b3,#f8f7b4,#f8f7b4,#f8f7b5,#f8f7b5,#f8f7b6,#f9f7b7,#f9f7b8,#f9f7b9,#f9f7bb,#f9f8bd,#f9f8bf,#faf8c2,#faf9c5,#faf9c9,#fbfacd,#fbfad2,#fcfbd6,#fcfbdb,#fcfce0,#fdfce4,#fdfde9,#fdfded,#fefdf1,#fefef4,#fefef7,#fefef9,#fffefa,#fffffb,#fffffc,#fffffc,#fffffc,#fffffb,#fffffb,#fffffb,#fffffb)"></i>
<i style="background:linear-gradient(90deg,#f8f6b2,#f8f6b2,#f8f6b2,#f8f6b1,#f8f6b1,#f8f6b1,#f8f6b1,#f8f6b2,#f8f6b2,#f8f6b2,#f8f7b2,#f8f7b3,#f8f7b3,#f8f7b3,#f8f7b4,#f8f7b4,#f8f7b5,#f8f7b6,#f9f7b7,#f9f7b8,#f9f7b9,#f9f7ba,#f9f8bc,#f9f8be,#f9f8c1,#faf9c3,#faf9c7,#faf9cb,#fbfacf,#fbfad4,#fcfbd8,#fcfbdd,#fcfce1,#fdfce6,#fdfdea,#fefdee,#fefef2,#fefef5,#fefef8,#fffefa,#fffffb,#fffffc,#fffffd,#fffffd,#fffffd,#fffffd,#fffffc,#fffffc,#fffffc)"></i>
<i style="background:linear-gradient(90deg,#f8f6b1,#f8f6b1,#f8f6b1,#f8f6b1,#f8f6b1,#f8f6b1,#f8f6b1,#f8f6b1,#f8f6b1,#f8f6b1,#f8f6b2,#f8f6b2,#f8f7b3,#f8f7b3,#f8f7b4,#f8f7b5,#f8f7b5,#f8f7b6,#f9f7b8,#f9f7b9,#f9f7ba,#f9f8bc,#f9f8be,#f9f8c0,#faf8c2,#faf9c5,#faf9c9,#fbfacd,#fbfad1,#fbfbd5,#fcfbda,#fcfcde,#fdfce3,#fdfce7,#fdfdeb,#fefdef,#fefef3,#fefef6,#fefef9,#fffffb,#fffffc,#fffffd,#fffffe,#fffffe,#fffffe,#fffffe,#fffffd,#fffffd,#fffffd)"></i>
<i style="background:linear-gradient(90deg,#f8f6b0,#f8f6b0,#f8f6b0,#f8f6b0,#f8f6b0,#f8f6b0,#f8f6b0,#f8f6b0,#f8f6b0,#f8f6b1,#f8f6b1,#f8f6b2,#f8f7b2,#f8f7b3,#f8f7b4,#f8f7b5,#f8f7b6,#f9f7b7,#f9f7b8,#f9f7ba,#f9f8bb,#f9f8bd,#f9f8bf,#faf8c1,#faf9c4,#faf9c7,#faf9ca,#fbface,#fbfad2,#fcfbd7,#fcfbdb,#fcfce0,#fdfce4,#fdfde8,#fdfded,#fefdf1,#fefef4,#fefef7,#fffefa,#fffffc,#fffffd,#fffffe,#ffffff,#ffffff,#ffffff,#ffffff,#fffffe,#fffffe,#fffffe)"></i>
<i style="background:linear-gradient(90deg,#f8f6af,#f8f6af,#f8f6af,#f8f6af,#f8f6af,#f8f6af,#f8f6af,#f8f6af,#f8f6b0,#f8f6b0,#f8f6b1,#f8f6b1,#f8f6b2,#f8f7b3,#f8f7b4,#f8f7b5,#f8f7b6,#f9f7b8,#f9f7b9,#f9f8bb,#f9f8bc,#f9f8be,#f9f8c0,#faf8c3,#faf9c5,#faf9c9,#fbfacc,#fbfad0,#fbfad4,#fcfbd8,#fcfbdd,#fcfce1,#fdfce5,#fdfdea,#fefdee,#fefef2,#fefef5,#fefef9,#fffffb,#fffffd,#fffffe,#ffffff,#ffffff,#ffffff,#ffffff,#ffffff,#ffffff,#ffffff,#ffffff)"></i>
<i style="background:linear-gradient(90deg,#f8f6af,#f8f6ae,#f8f6ae,#f8f6ae,#f8f6ae,#f8f6ae,#f8f6ae,#f8f6ae,#f8f6af,#f8f6af,#f8f6b0,#f8f6b1,#f8f6b2,#f8f7b3,#f8f7b4,#f8f7b5,#f9f7b7,#f9f7b8,#f9f7ba,#f9f8bc,#f9f8bd,#f9f8bf,#faf8c2,#faf9c4,#faf9c7,#faf9ca,#fbface,#fbfad2,#fbfbd6,#fcfbda,#fcfbde,#fdfce2,#fdfce7,#fdfdeb,#fefdef,#fefef3,#fefef6,#fffefa,#fffffc,#fffffe,#ffffff,#ffffff,#ffffff,#ffffff,#ffffff,#ffffff,#ffffff,#ffffff,#ffffff)"></i>
<i style="background:linear-gradient(90deg,#f8f6ae,#f8f6ae,#f8f6ad,#f8f6ad,#f8f6ad,#f8f6ad,#f8f6ad,#f8f6ae,#f8f6ae,#f8f6ae,#f8f6af,#f8f6b0,#f8f6b1,#f8f7b2,#f8f7b4,#f8f7b5,#f9f7b7,#f9f7b9,#f9f7bb,#f9f8bd,#f9f8be,#f9f8c1,#faf8c3,#faf9c6,#faf9c8,#fbf9cc,#fbfacf,#fbfad3,#fcfbd7,#fcfbdb,#fcfcdf,#fdfce4,#fdfde8,#fdfdec,#fefdf0,#fefef4,#fefef7,#fffffb,#fffffd,#ffffff,#ffffff,#ffffff,#ffffff,#ffffff,#ffffff,#ffffff,#ffffff,#ffffff,#ffffff)"></i>
<i style="background:linear-gradient(90deg,#f8f6ad,#f8f6ad,#f8f6ad,#f8f6ac,#f7f6ac,#f7f6ac,#f8f6ac,#f8f6ad,#f8f6ad,#f8f6ae,#f8f6ae,#f8f6af,#f8f6b1,#f8f6b2,#f8f7b4,#f8f7b5,#f9f7b7,#f9f7b9,#f9f8bb,#f9f8bd,#f9f8bf,#faf8c2,#faf9c4,#faf9c7,#faf9ca,#fbfacd,#fbfad1,#fbfad4,#fcfbd8,#fcfbdc,#fcfce1,#fdfce5,#fdfde9,#fefded,#fefef1,#fefef5,#fefef8,#fffffb,#fffffe,#ffffff,#ffffff,#ffffff,#ffffff,#ffffff,#ffffff,#ffffff,#ffffff,#ffffff,#ffffff)"></i>
<i style="background:linear-gradient(90deg,#f7f6ac,#f7f6ac,#f7f6ac,#f7f6ab,#f7f6ab,#f7f6ab,#f7f6ab,#f7f6ac,#f7f6ac,#f8f6ad,#f8f6ae,#f8f6af,#f8f6b0,#f8f6b2,#f8f7b3,#f8f7b5,#f9f7b7,#f9f7ba,#f9f8bc,#f9f8be,#f9f8c0,#faf8c3,#faf9c5,#faf9c8,#fbf9cb,#fbfacf,#fbfad2,#fbfbd6,#fcfbda,#fcfbde,#fdfce2,#fdfce6,#fdfdea,#fefdee,#fefef2,#fefef6,#fffef9,#fffffc,#ffffff,#ffffff,#ffffff,#ffffff,#ffffff,#ffffff,#ffffff,#ffffff,#ffffff,#ffffff,#ffffff)"></i>
<i style="background:linear-gradient(90deg,#f7f6ab,#f7f6ab,#f7f6ab,#f7f6aa,#f7f6aa,#f7f6aa,#f7f6aa,#f7f6ab,#f7f6ab,#f7f6ac,#f8f6ad,#f8f6ae,#f8f6b0,#f8f6b1,#f8f7b3,#f8f7b5,#f9f7b8,#f9f7ba,#f9f8bc,#f9f8bf,#faf8c1,#faf9c4,#faf9c6,#faf9c9,#fbfacd,#fbfad0,#fbfad3,#fcfbd7,#fcfbdb,#fcfcdf,#fdfce3,#fdfce7,#fdfdeb,#fefdf0,#fefef3,#fefef7,#fffefa,#fffffd,#ffffff,#ffffff,#ffffff,#ffffff,#ffffff,#ffffff,#ffffff,#ffffff,#ffffff,#ffffff,#ffffff)"></i>
<i style="background:linear-gradient(90deg,#f7f6aa,#f7f5aa,#f7f5aa,#f7f5a9,#f7f5a9,#f7f5a9,#f7f5a9,#f7f5aa,#f7f6aa,#f7f6ab,#f7f6ac,#f8f6ad,#f8f6af,#f8f6b1,#f8f7b3,#f8f7b5,#f9f7b8,#f9f7ba,#f9f8bd,#f9f8bf,#faf8c2,#faf9c4,#faf9c7,#faf9ca,#fbface,#fbfad1,#fbfbd5,#fcfbd8,#fcfbdc,#fcfce0,#fdfce4,#fdfde8,#fdfded,#fefdf1,#fefef4,#fefef8,#fffffb,#fffffe,#ffffff,#ffffff,#ffffff,#ffffff,#ffffff,#ffffff,#ffffff,#ffffff,#ffffff,#ffffff,#ffffff)"></i>
<i style="background:linear-gradient(90deg,#f7f5a9,#f7f5a9,#f7f5a8,#f7f5a8,#f7f5a8,#f7f5a8,#f7f5a8,#f7f5a9,#f7f5a9,#f7f6aa,#f7f6ab,#f8f6ad,#f8f6ae,#f8f6b0,#f8f7b3,#f8f7b5,#f9f7b8,#f9f7bb,#f9f8bd,#f9f8c0,#faf8c3,#faf9c5,#faf9c8,#fbf9cb,#fbfacf,#fbfad2,#fcfbd6,#fcfbda,#fcfbdd,#fcfce1,#fdfce5,#fdfdea,#fefdee,#fefef1,#fefef5,#fefef9,#fffffc,#fffffe,#ffffff,#ffffff,#ffffff,#ffffff,#ffffff,#ffffff,#ffffff,#ffffff,#ffffff,#ffffff,#ffffff)"></i>
<i style="background:linear-gradient(90deg,#f7f5a8,#f7f5a7,#f7f5a7,#f7f5a7,#f7f5a7,#f7f5a7,#f7f5a7,#f7f5a7,#f7f5a8,#f7f5a9,#f7f6aa,#f7f6ac,#f8f6ae,#f8f6b0,#f8f7b2,#f8f7b5,#f9f7b8,#f9f8bb,#f9f8be,#f9f8c1,#faf9c3,#faf9c6,#faf9c9,#fbfacc,#fbfad0,#fbfad3,#fcfbd7,#fcfbdb,#fcfcdf,#fdfce3,#fdfce7,#fdfdeb,#fefdee,#fefef2,#fefef6,#fffef9,#fffffc,#ffffff,#ffffff,#ffffff,#ffffff,#ffffff,#ffffff,#ffffff,#ffffff,#ffffff,#ffffff,#ffffff,#ffffff)"></i>
<i style="background:linear-gradient(90deg,#f7f5a7,#f7f5a6,#f7f5a6,#f7f5a6,#f7f5a6,#f7f5a6,#f7f5a6,#f7f5a6,#f7f5a7,#f7f5a8,#f7f5a9,#f7f6ab,#f8f6ad,#f8f6af,#f8f6b2,#f8f7b5,#f9f7b8,#f9f8bb,#f9f8be,#faf8c1,#faf9c4,#faf9c7,#faf9ca,#fbfacd,#fbfad1,#fbfad5,#fcfbd8,#fcfbdc,#fcfce0,#fdfce4,#fdfde8,#fdfdeb,#fefdef,#fefef3,#fefef7,#fffefa,#fffffd,#ffffff,#ffffff,#ffffff,#ffffff,#ffffff,#ffffff,#ffffff,#ffffff,#ffffff,#ffffff,#ffffff,#ffffff)"></i>
<i style="background:linear-gradient(90deg,#f7f5a5,#f7f5a5,#f7f5a5,#f7f5a5,#f7f5a5,#f7f5a4,#f7f5a5,#f7f5a5,#f7f5a6,#f7f5a7,#f7f5a8,#f7f6aa,#f7f6ac,#f8f6af,#f8f6b2,#f8f7b5,#f9f7b8,#f9f8bb,#f9f8be,#faf8c1,#faf9c4,#faf9c7,#faf9cb,#fbface,#fbfad2,#fbfbd6,#fcfbd9,#fcfbdd,#fcfce1,#fdfce5,#fdfde8,#fdfdec,#fefdf0,#fefef4,#fefef7,#fffffb,#fffffe,#ffffff,#ffffff,#ffffff,#ffffff,#ffffff,#ffffff,#ffffff,#ffffff,#ffffff,#ffffff,#ffffff,#ffffff)"></i>
<i style="background:linear-gradient(90deg,#f7f5a4,#f7f5a4,#f7f5a4,#f7f5a3,#f7f5a3,#f7f5a3,#f7f5a3,#f7f5a4,#f7f5a4,#f7f5a5,#f7f5a7,#f7f5a9,#f7f6ab,#f8f6ae,#f8f6b1,#f8f7b4,#f9f7b8,#f9f8bb,#f9f8bf,#faf8c2,#faf9c5,#faf9c8,#fbf9cb,#fbfacf,#fbfad3,#fcfbd6,#fcfbda,#fcfbde,#fdfce2,#fdfce6,#fdfde9,#fdfded,#fefef1,#fefef5,#fefef8,#fffffb,#fffffe,#ffffff,#ffffff,#ffffff,#ffffff,#ffffff,#ffffff,#ffffff,#ffffff,#ffffff,#ffffff,#ffffff,#ffffff)"></i>
<i style="background:linear-gradient(90deg,#f7f5a3,#f7f5a3,#f7f5a2,#f6f5a2,#f6f5a2,#f6f5a2,#f6f5a2,#f7f5a2,#f7f5a3,#f7f5a4,#f7f5a6,#f7f5a8,#f7f6aa,#f8f6ad,#f8f6b0,#f8f7b4,#f9f7b7,#f9f8bb,#f9f8bf,#faf8c2,#faf9c5,#faf9c8,#fbfacc,#fbfad0,#fbfad4,#fcfbd7,#fcfbdb,#fcfcdf,#fdfce3,#fdfce6,#fdfdea,#fefdee,#fefef2,#fefef5,#fefef8,#fffffc,#fffffe,#ffffff,#ffffff,#ffffff,#ffffff,#ffffff,#ffffff,#ffffff,#ffffff,#ffffff,#ffffff,#ffffff,#ffffff)"></i>
<i style="background:linear-gradient(90deg,#f6f5a1,#f6f4a1,#f6f4a1,#f6f4a1,#f6f4a1,#f6f4a0,#f6f4a1,#f6f4a1,#f6f5a2,#f7f5a3,#f7f5a5,#f7f5a7,#f7f5aa,#f8f6ad,#f8f6b0,#f8f7b3,#f9f7b7,#f9f8bb,#f9f8bf,#faf8c2,#faf9c6,#faf9c9,#fbfacc,#fbfad0,#fbfad4,#fcfbd8,#fcfbdc,#fcfce0,#fdfce3,#fdfce7,#fdfdeb,#fefdef,#fefef2,#fefef6,#fefef9,#fffffc,#ffffff,#ffffff,#ffffff,#ffffff,#ffffff,#ffffff,#ffffff,#ffffff,#ffffff,#ffffff,#ffffff,#ffffff,#ffffff)"></i>
<i style="background:linear-gradient(90deg,#f6f4a0,#f6f4a0,#f6f4a0,#f6f49f,#f6f49f,#f6f49f,#f6f49f,#f6f4a0,#f6f4a0,#f6f5a2,#f7f5a3,#f7f5a6,#f7f5a9,#f7f6ac,#f8f6af,#f8f7b3,#f9f7b7,#f9f8bb,#f9f8bf,#faf8c3,#faf9c6,#faf9c9,#fbfacd,#fbfad1,#fbfbd5,#fcfbd9,#fcfbdd,#fcfce0,#fdfce4,#fdfde8,#fdfdec,#fefdef,#fefef3,#fefef6,#fffef9,#fffffc,#ffffff,#ffffff,#ffffff,#ffffff,#ffffff,#ffffff,#ffffff,#ffffff,#ffffff,#ffffff,#ffffff,#ffffff,#ffffff)"></i>
<i style="background:linear-gradient(90deg,#f6f49f,#f6f49e,#f6f49e,#f6f49e,#f6f49e,#f6f49e,#f6f49e,#f6f49e,#f6f49f,#f6f4a0,#f7f5a2,#f7f5a5,#f7f5a7,#f7f6ab,#f8f6ae,#f8f7b2,#f9f7b7,#f9f8bb,#f9f8bf,#faf8c3,#faf9c6,#faf9c9,#fbfacd,#fbfad1,#fbfbd6,#fcfbda,#fcfbdd,#fcfce1,#fdfce5,#fdfde9,#fdfdec,#fefdf0,#fefef3,#fefef7,#fffefa,#fffffd,#ffffff,#ffffff,#ffffff,#ffffff,#ffffff,#ffffff,#ffffff,#ffffff,#ffffff,#ffffff,#ffffff,#ffffff,#ffffff)"></i>
<i style="background:linear-gradient(90deg,#f6f49d,#f6f49d,#f6f49d,#f6f49c,#f6f49c,#f6f49c,#f6f49c,#f6f49d,#f6f49d,#f6f49f,#f6f4a1,#f7f5a3,#f7f5a6,#f7f6aa,#f8f6ae,#f8f6b2,#f8f7b6,#f9f7bb,#f9f8bf,#faf8c3,#faf9c6,#faf9ca,#fbface,#fbfad2,#fcfbd6,#fcfbda,#fcfbde,#fdfce2,#fdfce5,#fdfde9,#fdfded,#fefdf0,#fefef4,#fefef7,#fffefa,#fffffd,#ffffff,#ffffff,#ffffff,#ffffff,#ffffff,#ffffff,#ffffff,#ffffff,#ffffff,#ffffff,#ffffff,#ffffff,#ffffff)"></i>
<i style="background:linear-gradient(90deg,#f6f49c,#f6f49b,#f6f49b,#f6f49b,#f6f49a,#f6f49a,#f6f49b,#f6f49b,#f6f49c,#f6f49d,#f6f49f,#f6f5a2,#f7f5a5,#f7f5a9,#f8f6ad,#f8f6b1,#f8f7b6,#f9f7ba,#f9f8bf,#faf8c3,#faf9c6,#faf9ca,#fbface,#fbfad2,#fcfbd7,#fcfbdb,#fcfcdf,#fdfce2,#fdfce6,#fdfdea,#fdfded,#fefdf1,#fefef4,#fefef7,#fffefa,#fffffd,#ffffff,#ffffff,#ffffff,#ffffff,#ffffff,#ffffff,#ffffff,#ffffff,#ffffff,#ffffff,#ffffff,#ffffff,#ffffff)"></i>
<i style="background:linear-gradient(90deg,#f6f49a,#f6f49a,#f6f499,#f6f499,#f6f499,#f6f499,#f6f499,#f6f499,#f6f49a,#f6f49c,#f6f49e,#f6f4a1,#f7f5a4,#f7f5a8,#f7f6ac,#f8f6b0,#f8f7b5,#f9f7ba,#f9f8be,#faf8c3,#faf9c6,#faf9ca,#fbface,#fbfad2,#fcfbd7,#fcfbdb,#fcfcdf,#fdfce3,#fdfce6,#fdfdea,#fefded,#fefdf1,#fefef4,#fefef7,#fffefa,#fffffd,#ffffff,#ffffff,#ffffff,#ffffff,#ffffff,#ffffff,#ffffff,#ffffff,#ffffff,#ffffff,#ffffff,#ffffff,#ffffff)"></i>
<i style="background:linear-gradient(90deg,#f6f498,#f6f498,#f6f397,#f6f397,#f6f397,#f6f397,#f6f397,#f6f398,#f6f499,#f6f49a,#f6f49c,#f6f49f,#f7f5a3,#f7f5a7,#f7f6ab,#f8f6b0,#f8f7b5,#f9f7b9,#f9f8be,#faf8c2,#faf9c6,#faf9ca,#fbface,#fbfad3,#fcfbd7,#fcfbdb,#fcfce0,#fdfce3,#fdfce7,#fdfdea,#fefdee,#fefef1,#fefef4,#fefef7,#fffefa,#fffffd,#ffffff,#ffffff,#ffffff,#ffffff,#ffffff,#ffffff,#ffffff,#ffffff,#ffffff,#ffffff,#ffffff,#ffffff,#ffffff)"></i>
<i style="background:linear-gradient(90deg,#f6f396,#f5f396,#f5f396,#f5f395,#f5f395,#f5f395,#f5f395,#f5f396,#f6f397,#f6f498,#f6f49b,#f6f49e,#f6f5a1,#f7f5a6,#f7f6aa,#f8f6af,#f8f7b4,#f9f7b9,#f9f8be,#faf8c2,#faf9c6,#faf9ca,#fbface,#fbfad3,#fcfbd7,#fcfbdc,#fcfce0,#fdfce4,#fdfce7,#fdfdeb,#fefdee,#fefef1,#fefef4,#fefef7,#fffefa,#fffffd,#ffffff,#ffffff,#ffffff,#ffffff,#ffffff,#ffffff,#ffffff,#ffffff,#ffffff,#ffffff,#ffffff,#ffffff,#ffffff)"></i>
<i style="background:linear-gradient(90deg,#f5f395,#f5f394,#f5f394,#f5f394,#f5f393,#f5f393,#f5f393,#f5f394,#f5f395,#f6f397,#f6f499,#f6f49c,#f6f4a0,#f7f5a4,#f7f5a9,#f8f6ae,#f8f7b3,#f9f7b8,#f9f8bd,#faf8c2,#faf9c6,#faf9ca,#fbface,#fbfad3,#fcfbd8,#fcfbdc,#fcfce0,#fdfce4,#fdfce7,#fdfdeb,#fefdee,#fefef1,#fefef4,#fefef7,#fffefa,#fffffc,#ffffff,#ffffff,#ffffff,#ffffff,#ffffff,#ffffff,#ffffff,#ffffff,#ffffff,#ffffff,#ffffff,#ffffff,#ffffff)"></i>
<i style="background:linear-gradient(90deg,#f5f393,#f5f392,#f5f392,#f5f392,#f5f391,#f5f391,#f5f392,#f5f392,#f5f393,#f5f395,#f6f397,#f6f49b,#f6f49f,#f7f5a3,#f7f5a8,#f8f6ad,#f8f7b2,#f9f7b8,#f9f8bd,#faf8c2,#faf9c6,#faf9ca,#fbface,#fbfad3,#fcfbd8,#fcfbdc,#fcfce0,#fdfce4,#fdfde8,#fdfdeb,#fefdee,#fefef1,#fefef4,#fefef7,#fffefa,#fffffc,#fffffe,#ffffff,#ffffff,#ffffff,#ffffff,#ffffff,#ffffff,#ffffff,#ffffff,#ffffff,#ffffff,#ffffff,#ffffff)"></i>
<i style="background:linear-gradient(90deg,#f5f391,#f5f390,#f5f390,#f5f390,#f5f38f,#f5f38f,#f5f390,#f5f390,#f5f391,#f5f393,#f5f396,#f6f499,#f6f49d,#f6f5a2,#f7f5a7,#f7f6ac,#f8f6b1,#f9f7b7,#f9f8bc,#faf8c1,#faf9c5,#faf9ca,#fbface,#fbfad3,#fcfbd8,#fcfbdc,#fcfce0,#fdfce4,#fdfde8,#fdfdeb,#fefdee,#fefef1,#fefef4,#fefef7,#fffef9,#fffffc,#fffffe,#ffffff,#ffffff,#ffffff,#ffffff,#ffffff,#ffffff,#ffffff,#ffffff,#ffffff,#ffffff,#ffffff,#ffffff)"></i>
<i style="background:linear-gradient(90deg,#f5f38f,#f5f38e,#f5f38e,#f5f38e,#f5f38d,#f5f38d,#f5f38e,#f5f38e,#f5f38f,#f5f391,#f5f394,#f6f397,#f6f49b,#f6f4a0,#f7f5a5,#f7f6ab,#f8f6b0,#f8f7b6,#f9f8bc,#f9f8c1,#faf9c5,#faf9c9,#fbface,#fbfad3,#fcfbd8,#fcfbdc,#fcfce0,#fdfce4,#fdfde8,#fdfdeb,#fefdee,#fefdf1,#fefef4,#fefef6,#fefef9,#fffffb,#fffffd,#ffffff,#ffffff,#ffffff,#ffffff,#ffffff,#ffffff,#ffffff,#ffffff,#ffffff,#ffffff,#ffffff,#ffffff)"></i>
<i style="background:linear-gradient(90deg,#f5f28d,#f5f28c,#f5f28c,#f5f28c,#f5f28b,#f5f28b,#f5f28b,#f5f28c,#f5f38d,#f5f38f,#f5f392,#f5f395,#f6f49a,#f6f49f,#f7f5a4,#f7f5aa,#f8f6af,#f8f7b5,#f9f8bb,#f9f8c0,#faf9c4,#faf9c9,#fbface,#fbfad3,#fcfbd8,#fcfbdc,#fcfce0,#fdfce4,#fdfce7,#fdfdeb,#fefdee,#fefdf1,#fefef3,#fefef6,#fefef8,#fffffb,#fffffc,#fffffe,#ffffff,#ffffff,#ffffff,#ffffff,#ffffff,#ffffff,#ffffff,#ffffff,#ffffff,#ffffff,#ffffff)"></i>
<i style="background:linear-gradient(90deg,#f5f28b,#f5f28a,#f5f28a,#f5f289,#f4f289,#f4f289,#f5f289,#f5f28a,#f5f28b,#f5f28d,#f5f390,#f5f394,#f6f498,#f6f49d,#f7f5a3,#f7f5a8,#f8f6ae,#f8f7b4,#f9f7ba,#f9f8bf,#faf9c4,#faf9c8,#fbfacd,#fbfad2,#fcfbd7,#fcfbdc,#fcfce0,#fdfce4,#fdfce7,#fdfdea,#fdfded,#fefdf0,#fefef3,#fefef5,#fefef8,#fffefa,#fffffc,#fffffd,#ffffff,#ffffff,#ffffff,#ffffff,#ffffff,#ffffff,#ffffff,#ffffff,#ffffff,#ffffff,#ffffff)"></i>
<i style="background:linear-gradient(90deg,#f4f288,#f4f288,#f4f288,#f4f287,#f4f287,#f4f287,#f4f287,#f4f288,#f4f289,#f5f28b,#f5f38e,#f5f392,#f5f396,#f6f49b,#f6f4a1,#f7f5a7,#f8f6ad,#f8f7b3,#f9f7b9,#f9f8bf,#faf9c3,#faf9c8,#fbfacd,#fbfad2,#fcfbd7,#fcfbdc,#fcfce0,#fdfce4,#fdfce7,#fdfdea,#fdfded,#fefdf0,#fefef2,#fefef5,#fefef7,#fefef9,#fffffb,#fffffc,#fffffe,#ffffff,#ffffff,#ffffff,#ffffff,#ffffff,#ffffff,#ffffff,#ffffff,#ffffff,#ffffff)"></i>
<i style="background:linear-gradient(90deg,#f4f286,#f4f286,#f4f285,#f4f285,#f4f285,#f4f285,#f4f285,#f4f286,#f4f287,#f4f289,#f5f28c,#f5f390,#f5f394,#f6f49a,#f6f49f,#f7f5a6,#f7f6ac,#f8f6b2,#f9f7b8,#f9f8be,#faf8c3,#faf9c7,#fbfacc,#fbfad2,#fcfbd7,#fcfbdb,#fcfce0,#fdfce3,#fdfce6,#fdfde9,#fdfdec,#fefdef,#fefef2,#fefef4,#fefef6,#fefef8,#fffefa,#fffffb,#fffffd,#fffffe,#fffffe,#ffffff,#ffffff,#ffffff,#ffffff,#ffffff,#ffffff,#ffffff,#ffffff)"></i>
<i style="background:linear-gradient(90deg,#f4f284,#f4f283,#f4f283,#f4f182,#f4f182,#f4f182,#f4f182,#f4f283,#f4f284,#f4f286,#f5f289,#f5f38d,#f5f392,#f6f498,#f6f49e,#f7f5a4,#f7f6aa,#f8f6b1,#f9f7b7,#f9f8bd,#faf8c2,#faf9c7,#fbfacc,#fbfad1,#fcfbd6,#fcfbdb,#fcfcdf,#fdfce3,#fdfce6,#fdfde9,#fdfdec,#fefdee,#fefdf1,#fefef3,#fefef5,#fefef7,#fefef9,#fffefa,#fffffb,#fffffc,#fffffd,#fffffe,#fffffe,#fffffe,#fffffe,#fffffe,#fffffe,#fffffe,#fffffd)"></i>
<i style="background:linear-gradient(90deg,#f4f181,#f4f181,#f4f180,#f4f180,#f4f180,#f4f180,#f4f180,#f4f181,#f4f182,#f4f284,#f4f287,#f5f28b,#f5f390,#f5f396,#f6f49c,#f7f5a2,#f7f5a9,#f8f6b0,#f8f7b6,#f9f8bc,#faf8c1,#faf9c6,#fbf9cb,#fbfad1,#fbfbd6,#fcfbda,#fcfcde,#fdfce2,#fdfce5,#fdfde8,#fdfdeb,#fefded,#fefdf0,#fefef2,#fefef4,#fefef6,#fefef7,#fefef9,#fffefa,#fffffb,#fffffc,#fffffc,#fffffc,#fffffd,#fffffd,#fffffc,#fffffc,#fffffc,#fffffc)"></i>
<i style="background:linear-gradient(90deg,#f4f17f,#f4f17e,#f4f17e,#f4f17d,#f4f17d,#f4f17d,#f4f17d,#f4f17e,#f4f17f,#f4f181,#f4f284,#f4f289,#f5f38e,#f5f394,#f6f49a,#f6f4a1,#f7f5a7,#f8f6ae,#f8f7b5,#f9f7bb,#f9f8c0,#faf9c5,#faf9ca,#fbfad0,#fbfbd5,#fcfbda,#fcfbde,#fcfce1,#fdfce4,#fdfce7,#fdfdea,#fdfded,#fefdef,#fefef1,#fefef3,#fefef5,#fefef6,#fefef7,#fefef9,#fffef9,#fffefa,#fffffb,#fffffb,#fffffb,#fffffb,#fffffb,#fffffb,#fffffb,#fffffa)"></i>
<i style="background:linear-gradient(90deg,#f3f17c,#f3f17b,#f3f17b,#f3f17a,#f3f17a,#f3f17a,#f3f17a,#f3f17b,#f4f17c,#f4f17f,#f4f182,#f4f286,#f5f28b,#f5f391,#f6f498,#f6f49f,#f7f5a6,#f8f6ac,#f8f7b3,#f9f7b9,#f9f8bf,#faf9c4,#faf9ca,#fbfacf,#fbfad4,#fcfbd9,#fcfbdd,#fcfce1,#fdfce4,#fdfce6,#fdfde9,#fdfdeb,#fefdee,#fefdf0,#fefef2,#fefef3,#fefef5,#fefef6,#fefef7,#fefef8,#fefef8,#fefef9,#fffef9,#fffef9,#fffef9,#fffef9,#fefef9,#fefef9,#fefef9)"></i>
<i style="background:linear-gradient(90deg,#f3f179,#f3f178,#f3f178,#f3f077,#f3f077,#f3f077,#f3f077,#f3f178,#f3f179,#f3f17c,#f4f17f,#f4f284,#f4f289,#f5f38f,#f5f396,#f6f49d,#f7f5a4,#f7f6ab,#f8f6b2,#f9f7b8,#f9f8be,#faf8c3,#faf9c9,#fbface,#fbfad4,#fcfbd8,#fcfbdc,#fcfce0,#fdfce3,#fdfce5,#fdfde8,#fdfdea,#fdfdec,#fefdee,#fefdf0,#fefef2,#fefef3,#fefef4,#fefef5,#fefef6,#fefef7,#fefef7,#fefef7,#fefef7,#fefef7,#fefef7,#fefef7,#fefef7,#fefef7)"></i>
<i style="background:linear-gradient(90deg,#f3f076,#f3f075,#f3f075,#f3f074,#f3f074,#f3f074,#f3f074,#f3f075,#f3f076,#f3f179,#f4f17c,#f4f181,#f4f286,#f5f28c,#f5f393,#f6f49a,#f6f5a2,#f7f5a9,#f8f6b0,#f9f7b7,#f9f8bc,#faf8c2,#faf9c8,#fbfacd,#fbfad3,#fcfbd7,#fcfbdb,#fcfcdf,#fdfce2,#fdfce4,#fdfce7,#fdfde9,#fdfdeb,#fdfded,#fefdef,#fefdf0,#fefef1,#fefef2,#fefef3,#fefef4,#fefef5,#fefef5,#fefef5,#fefef5,#fefef5,#fefef5,#fefef5,#fefef5,#fefef5)"></i>
<i style="background:linear-gradient(90deg,#f3f073,#f3f072,#f3f072,#f3f071,#f3f071,#f3f071,#f3f071,#f3f072,#f3f073,#f3f076,#f3f179,#f4f17e,#f4f283,#f5f28a,#f5f391,#f6f498,#f6f4a0,#f7f5a7,#f8f6ae,#f8f7b5,#f9f8bb,#faf8c1,#faf9c7,#fbfacc,#fbfad2,#fcfbd6,#fcfbda,#fcfbde,#fcfce0,#fdfce3,#fdfce5,#fdfde8,#fdfdea,#fdfdeb,#fdfded,#fefdee,#fefdef,#fefdf0,#fefef1,#fefef2,#fefef3,#fefef3,#fefef3,#fefef3,#fefef3,#fefef3,#fefef3,#fefef3,#fefef3)"></i>
<i style="background:linear-gradient(90deg,#f3f070,#f3f06f,#f2f06e,#f2f06e,#f2f06e,#f2f06e,#f2f06e,#f3f06f,#f3f070,#f3f072,#f3f076,#f3f17b,#f4f181,#f4f287,#f5f38e,#f5f396,#f6f49e,#f7f5a5,#f8f6ad,#f8f7b3,#f9f7ba,#f9f8bf,#faf9c5,#fbf9cb,#fbfad1,#fbfbd5,#fcfbd9,#fcfbdc,#fcfcdf,#fdfce2,#fdfce4,#fdfce6,#fdfde8,#fdfdea,#fdfdeb,#fdfdec,#fefded,#fefdee,#fefdef,#fefdf0,#fefdf0,#fefdf1,#fefef1,#fefef1,#fefef1,#fefef1,#fefef1,#fefdf1,#fefdf1)"></i>
<i style="background:linear-gradient(90deg,#f2ef6c,#f2ef6c,#f2ef6b,#f2ef6b,#f2ef6a,#f2ef6a,#f2ef6b,#f2ef6b,#f2ef6d,#f3f06f,#f3f073,#f3f078,#f4f17e,#f4f284,#f5f28b,#f5f393,#f6f49b,#f7f5a3,#f7f6ab,#f8f6b2,#f9f7b8,#f9f8be,#faf9c4,#faf9ca,#fbfad0,#fbfad4,#fcfbd8,#fcfbdb,#fcfbde,#fcfce0,#fdfce3,#fdfce5,#fdfce6,#fdfde8,#fdfde9,#fdfdea,#fdfdeb,#fdfdec,#fdfded,#fefdee,#fefdee,#fefdef,#fefdef,#fefdef,#fefdef,#fefdef,#fefdef,#fefdee,#fefdee)"></i>
<i style="background:linear-gradient(90deg,#f2ef69,#f2ef68,#f2ef68,#f2ef67,#f2ef67,#f2ef67,#f2ef67,#f2ef68,#f2ef69,#f2ef6c,#f3f070,#f3f074,#f3f17a,#f4f181,#f4f289,#f5f391,#f6f499,#f6f4a1,#f7f5a9,#f8f6b0,#f8f7b6,#f9f8bd,#faf8c3,#faf9c9,#fbface,#fbfad3,#fcfbd7,#fcfbda,#fcfbdd,#fcfcdf,#fcfce1,#fdfce3,#fdfce5,#fdfce6,#fdfce7,#fdfde8,#fdfde9,#fdfdea,#fdfdeb,#fdfdeb,#fdfdec,#fdfdec,#fdfdec,#fdfdec,#fdfdec,#fdfdec,#fdfdec,#fdfdec,#fdfdec)"></i>
<i style="background:linear-gradient(90deg,#f2ee65,#f2ee65,#f2ee64,#f2ee64,#f2ee63,#f2ee63,#f2ee64,#f2ee64,#f2ef66,#f2ef68,#f2ef6c,#f3f071,#f3f077,#f4f17e,#f4f286,#f5f38e,#f5f396,#f6f49f,#f7f5a6,#f8f6ae,#f8f7b5,#f9f8bb,#faf8c1,#faf9c7,#fbfacd,#fbfad1,#fbfbd5,#fcfbd8,#fcfbdb,#fcfbdd,#fcfcdf,#fcfce1,#fdfce3,#fdfce4,#fdfce5,#fdfce6,#fdfce7,#fdfde8,#fdfde8,#fdfde9,#fdfde9,#fdfdea,#fdfdea,#fdfdea,#fdfdea,#fdfdea,#fdfdea,#fdfdea,#fdfde9)"></i>
<i style="background:linear-gradient(90deg,#f2ee62,#f2ee61,#f2ee60,#f2ed60,#f2ed60,#f2ed60,#f2ed60,#f2ee61,#f2ee62,#f2ee65,#f2ef69,#f2f06e,#f3f074,#f3f17b,#f4f283,#f5f28b,#f5f394,#f6f49c,#f7f5a4,#f7f6ac,#f8f7b3,#f9f7b9,#f9f8c0,#faf9c6,#fbf9cb,#fbfad0,#fbfad4,#fcfbd7,#fcfbd9,#fcfbdc,#fcfbde,#fcfcdf,#fcfce1,#fdfce2,#fdfce3,#fdfce4,#fdfce5,#fdfce5,#fdfce6,#fdfce6,#fdfce7,#fdfce7,#fdfce7,#fdfce7,#fdfce7,#fdfce7,#fdfce7,#fdfce7,#fdfce7)"></i>
<i style="background:linear-gradient(90deg,#f1ed5e,#f1ed5d,#f1ed5d,#f1ed5c,#f1ed5c,#f1ed5c,#f1ed5c,#f1ed5d,#f1ed5e,#f2ee61,#f2ee65,#f2ef6a,#f3f071,#f3f078,#f4f180,#f4f288,#f5f391,#f6f49a,#f6f5a2,#f7f6aa,#f8f6b1,#f9f7b8,#f9f8be,#faf9c4,#faf9ca,#fbface,#fbfad2,#fbfbd5,#fcfbd8,#fcfbda,#fcfbdc,#fcfbdd,#fcfcdf,#fcfce0,#fcfce1,#fcfce1,#fdfce2,#fdfce3,#fdfce3,#fdfce4,#fdfce4,#fdfce4,#fdfce4,#fdfce5,#fdfce4,#fdfce4,#fdfce4,#fdfce4,#fdfce4)"></i>
<i style="background:linear-gradient(90deg,#f1ec5a,#f1ec5a,#f1ec59,#f1ec58,#f1ec58,#f1ec58,#f1ec58,#f1ec59,#f1ec5b,#f1ed5d,#f2ee61,#f2ef67,#f2ef6d,#f3f074,#f4f17d,#f4f285,#f5f38e,#f6f397,#f6f4a0,#f7f5a8,#f8f6af,#f8f7b6,#f9f8bd,#faf8c3,#faf9c8,#fbfacd,#fbfad1,#fbfad4,#fcfbd6,#fcfbd8,#fcfbda,#fcfbdb,#fcfbdc,#fcfbdd,#fcfcde,#fcfcdf,#fcfce0,#fcfce0,#fcfce0,#fcfce1,#fcfce1,#fcfce1,#fcfce2,#fdfce2,#fdfce2,#fcfce2,#fcfce1,#fcfce1,#fcfce1)"></i>
<i style="background:linear-gradient(90deg,#f1ec56,#f1eb56,#f1eb55,#f1eb54,#f1eb54,#f1eb54,#f1eb54,#f1eb55,#f1ec57,#f1ec59,#f1ed5e,#f2ee63,#f2ef6a,#f3f071,#f3f179,#f4f182,#f5f28b,#f5f394,#f6f49d,#f7f5a5,#f8f6ad,#f8f7b4,#f9f8bb,#faf8c1,#faf9c6,#fbf9cb,#fbfacf,#fbfad2,#fbfad4,#fcfbd6,#fcfbd8,#fcfbd9,#fcfbda,#fcfbdb,#fcfbdc,#fcfbdc,#fcfbdd,#fcfbdd,#fcfbde,#fcfbde,#fcfcde,#fcfcde,#fcfcdf,#fcfcdf,#fcfcdf,#fcfcdf,#fcfcdf,#fcfcde,#fcfcde)"></i>
<i style="background:linear-gradient(90deg,#f1eb52,#f1eb52,#f1eb51,#f1ea50,#f1ea50,#f1ea50,#f1ea50,#f1eb51,#f1eb53,#f1eb56,#f1ec5a,#f1ed5f,#f2ef66,#f2f06e,#f3f076,#f4f17f,#f4f288,#f5f392,#f6f49b,#f7f5a3,#f7f6ab,#f8f6b2,#f9f7b9,#f9f8bf,#faf9c5,#faf9c9,#fbfacd,#fbfad0,#fbfad2,#fbfad4,#fbfbd6,#fcfbd7,#fcfbd8,#fcfbd9,#fcfbd9,#fcfbda,#fcfbda,#fcfbda,#fcfbdb,#fcfbdb,#fcfbdb,#fcfbdb,#fcfbdc,#fcfbdc,#fcfbdc,#fcfbdc,#fcfbdc,#fcfbdb,#fcfbdb)"></i>
<i style="background:linear-gradient(90deg,#f1ea4e,#f0ea4e,#f0ea4d,#f0ea4c,#f0ea4c,#f0ea4c,#f0ea4c,#f0ea4d,#f1ea4f,#f1eb52,#f1ec56,#f1ed5b,#f2ee62,#f2ef6a,#f3f073,#f3f17c,#f4f285,#f5f38f,#f6f498,#f6f4a1,#f7f5a9,#f8f6b0,#f9f7b7,#f9f8bd,#faf8c3,#faf9c7,#fbf9cb,#fbface,#fbfad0,#fbfad2,#fbfad4,#fbfad5,#fbfbd6,#fcfbd6,#fcfbd7,#fcfbd7,#fcfbd7,#fcfbd7,#fcfbd8,#fcfbd8,#fcfbd8,#fcfbd8,#fcfbd9,#fcfbd9,#fcfbd9,#fcfbd8,#fcfbd8,#fcfbd8,#fcfbd8)"></i>
<i style="background:linear-gradient(90deg,#f0e94a,#f0e949,#f0e949,#f0e948,#f0e948,#f0e948,#f0e948,#f0e949,#f0e94b,#f0ea4e,#f1eb52,#f1ec58,#f1ed5e,#f2ef66,#f3f06f,#f3f178,#f4f182,#f5f28c,#f5f395,#f6f49e,#f7f5a6,#f8f6ae,#f8f7b5,#f9f8bb,#faf8c1,#faf9c5,#faf9c9,#fbfacc,#fbface,#fbfad0,#fbfad1,#fbfad2,#fbfad3,#fbfad4,#fbfad4,#fbfad4,#fbfad4,#fbfad4,#fbfad5,#fbfad5,#fbfbd5,#fbfbd5,#fbfbd5,#fbfbd5,#fbfbd5,#fbfbd5,#fbfbd5,#fbfbd5,#fbfbd5)"></i>
<i style="background:linear-gradient(90deg,#f0e846,#f0e845,#f0e845,#f0e844,#f0e844,#f0e844,#f0e844,#f0e845,#f0e947,#f0e949,#f0ea4e,#f1eb54,#f1ec5b,#f2ee63,#f2ef6b,#f3f075,#f4f17f,#f4f289,#f5f392,#f6f49c,#f7f5a4,#f7f6ac,#f8f7b3,#f9f7b9,#f9f8bf,#faf8c3,#faf9c7,#faf9ca,#fbfacc,#fbface,#fbfacf,#fbfad0,#fbfad1,#fbfad1,#fbfad1,#fbfad1,#fbfad1,#fbfad1,#fbfad1,#fbfad1,#fbfad2,#fbfad2,#fbfad2,#fbfad2,#fbfad2,#fbfad2,#fbfad2,#fbfad2,#fbfad2)"></i>
<i style="background:linear-gradient(90deg,#f0e842,#f0e741,#f0e740,#f0e740,#f0e73f,#f0e73f,#f0e740,#f0e741,#f0e842,#f0e845,#f0e94a,#f1ea50,#f1ec57,#f1ed5f,#f2ef68,#f3f071,#f3f17b,#f4f286,#f5f390,#f6f499,#f6f5a2,#f7f5aa,#f8f6b1,#f9f7b7,#f9f8bd,#faf8c1,#faf9c5,#faf9c7,#faf9c9,#fbf9cb,#fbfacc,#fbfacd,#fbface,#fbface,#fbface,#fbface,#fbface,#fbface,#fbface,#fbface,#fbface,#fbface,#fbfacf,#fbfacf,#fbfacf,#fbfacf,#fbface,#fbface,#fbface)"></i>
<i style="background:linear-gradient(90deg,#f0e73d,#efe73d,#efe73c,#efe63b,#efe63b,#efe63b,#efe63b,#efe73c,#f0e73e,#f0e741,#f0e846,#f0ea4c,#f1eb53,#f1ed5b,#f2ee64,#f2f06e,#f3f178,#f4f182,#f5f28d,#f5f396,#f6f49f,#f7f5a7,#f8f6af,#f8f7b5,#f9f7bb,#f9f8bf,#faf8c2,#faf9c5,#faf9c7,#faf9c9,#faf9ca,#faf9ca,#fbf9cb,#fbf9cb,#fbf9cb,#fbf9cb,#faf9cb,#faf9cb,#faf9ca,#faf9ca,#faf9ca,#faf9cb,#faf9cb,#faf9cb,#faf9cb,#faf9cb,#faf9cb,#faf9cb,#faf9cb)"></i>
<i style="background:linear-gradient(90deg,#efe639,#efe638,#efe637,#efe637,#efe537,#efe536,#efe637,#efe638,#efe63a,#efe73d,#f0e841,#f0e947,#f1ea4f,#f1ec57,#f2ee60,#f2ef6a,#f3f075,#f4f17f,#f5f28a,#f5f393,#f6f49d,#f7f5a5,#f8f6ac,#f8f7b3,#f9f7b8,#f9f8bd,#f9f8c0,#faf8c3,#faf9c5,#faf9c6,#faf9c7,#faf9c8,#faf9c8,#faf9c8,#faf9c8,#faf9c8,#faf9c7,#faf9c7,#faf9c7,#faf9c7,#faf9c7,#faf9c7,#faf9c7,#faf9c7,#faf9c7,#faf9c7,#faf9c7,#faf9c7,#faf9c7)"></i>
<i style="background:linear-gradient(90deg,#efe534,#efe534,#efe533,#efe533,#efe433,#efe433,#efe533,#efe534,#efe535,#efe638,#f0e73d,#f0e843,#f0e94b,#f1eb53,#f1ed5d,#f2ef67,#f3f071,#f4f17c,#f4f286,#f5f391,#f6f49a,#f7f5a2,#f7f6aa,#f8f6b1,#f8f7b6,#f9f7ba,#f9f8be,#f9f8c0,#faf8c2,#faf9c3,#faf9c4,#faf9c5,#faf9c5,#faf9c5,#faf9c5,#faf9c4,#faf9c4,#faf9c3,#faf8c3,#faf8c3,#faf8c3,#faf8c3,#faf8c3,#faf8c3,#faf8c3,#faf8c3,#faf8c3,#faf8c3,#faf8c3)"></i>
<i style="background:linear-gradient(90deg,#efe431,#efe431,#efe330,#efe330,#efe32f,#efe32f,#efe330,#efe430,#efe432,#efe534,#efe639,#f0e73f,#f0e947,#f1ea4f,#f1ec59,#f2ee63,#f2f06e,#f3f179,#f4f283,#f5f38e,#f6f397,#f6f4a0,#f7f5a8,#f8f6ae,#f8f7b4,#f9f7b8,#f9f8bb,#f9f8be,#f9f8bf,#f9f8c1,#faf8c1,#faf8c2,#faf8c2,#faf8c2,#faf8c1,#f9f8c1,#f9f8c0,#f9f8c0,#f9f8bf,#f9f8bf,#f9f8bf,#f9f8bf,#f9f8bf,#f9f8bf,#f9f8bf,#f9f8bf,#f9f8bf,#f9f8bf,#f9f8bf)"></i>
<i style="background:linear-gradient(90deg,#efe22e,#efe22d,#efe22d,#efe22d,#efe22c,#efe22c,#efe22d,#efe22d,#efe32e,#efe431,#efe534,#efe63b,#f0e842,#f0e94b,#f1eb55,#f2ed5f,#f2ef6a,#f3f075,#f4f180,#f5f28b,#f5f394,#f6f49d,#f7f5a5,#f7f6ac,#f8f6b1,#f8f7b5,#f9f7b9,#f9f8bb,#f9f8bd,#f9f8be,#f9f8bf,#f9f8bf,#f9f8bf,#f9f8be,#f9f8be,#f9f8bd,#f9f8bc,#f9f8bc,#f9f8bb,#f9f8bb,#f9f8bb,#f9f8bb,#f9f8bb,#f9f8bb,#f9f8bb,#f9f8bb,#f9f8bb,#f9f8bb,#f9f8bb)"></i>
<i style="background:linear-gradient(90deg,#efe12b,#efe12a,#efe12a,#efe129,#efe029,#efe029,#efe129,#efe12a,#efe12b,#efe22e,#efe431,#efe536,#f0e73e,#f0e947,#f1eb51,#f1ed5c,#f2ef67,#f3f072,#f4f17d,#f4f287,#f5f391,#f6f49b,#f7f5a3,#f7f5a9,#f8f6af,#f8f7b3,#f8f7b6,#f9f7b8,#f9f7ba,#f9f8bb,#f9f8bc,#f9f8bc,#f9f8bb,#f9f8bb,#f9f7ba,#f9f7b9,#f9f7b9,#f9f7b8,#f9f7b7,#f9f7b7,#f9f7b7,#f9f7b7,#f9f7b7,#f9f7b7,#f9f7b7,#f9f7b7,#f9f7b7,#f9f7b7,#f9f7b7)"></i>
<i style="background:linear-gradient(90deg,#efe027,#efe027,#efdf26,#efdf26,#efdf26,#efdf26,#efdf26,#efdf27,#efe028,#efe12a,#efe22e,#efe432,#efe63a,#f0e843,#f0ea4d,#f1ec58,#f2ee63,#f2f06e,#f3f179,#f4f284,#f5f38e,#f6f498,#f6f4a0,#f7f5a7,#f7f6ac,#f8f6b0,#f8f7b3,#f8f7b6,#f9f7b7,#f9f7b8,#f9f7b9,#f9f7b9,#f9f7b8,#f9f7b8,#f9f7b7,#f8f7b6,#f8f7b5,#f8f7b4,#f8f7b3,#f8f7b3,#f8f7b3,#f8f7b3,#f8f7b3,#f8f7b3,#f8f7b3,#f8f7b3,#f8f7b3,#f8f7b3,#f8f7b3)"></i>
<i style="background:linear-gradient(90deg,#efde24,#efde24,#efde23,#efde23,#efde22,#efde22,#efde23,#efde23,#efdf25,#efe027,#efe12b,#efe32f,#efe536,#f0e73f,#f0e949,#f1eb54,#f1ed5f,#f2ef6b,#f3f076,#f4f181,#f5f28b,#f5f395,#f6f49d,#f7f5a4,#f7f5aa,#f8f6ae,#f8f6b1,#f8f7b3,#f8f7b4,#f8f7b5,#f8f7b6,#f8f7b5,#f8f7b5,#f8f7b4,#f8f7b3,#f8f6b2,#f8f6b1,#f8f6b0,#f8f6af,#f8f6af,#f8f6af,#f8f6af,#f8f6af,#f8f6af,#f8f6af,#f8f6af,#f8f6af,#f8f6af,#f8f6af)"></i>
<i style="background:linear-gradient(90deg,#eedd21,#eedd20,#eedd20,#eedc1f,#eedc1f,#eedc1f,#eedc1f,#eedd20,#eedd21,#efde24,#efe027,#efe22c,#efe432,#efe63b,#f0e845,#f1ea50,#f1ed5c,#f2ef67,#f3f073,#f4f17e,#f4f288,#f5f392,#f6f49b,#f6f5a2,#f7f5a7,#f7f6ab,#f8f6ae,#f8f6b0,#f8f6b2,#f8f7b2,#f8f7b2,#f8f6b2,#f8f6b1,#f8f6b1,#f8f6af,#f8f6ae,#f8f6ad,#f7f6ac,#f7f6ab,#f7f6ab,#f7f6aa,#f7f6aa,#f7f6aa,#f7f6aa,#f7f6aa,#f7f6aa,#f7f6aa,#f7f6aa,#f7f6aa)"></i>
<i style="background:linear-gradient(90deg,#eedc1e,#eedb1d,#eedb1d,#eedb1c,#eedb1c,#eedb1c,#eedb1c,#eedb1d,#eedc1e,#eedd21,#efde24,#efe029,#efe32f,#efe536,#f0e841,#f0ea4c,#f1ec58,#f2ee64,#f3f06f,#f3f17b,#f4f285,#f5f38f,#f6f498,#f6f49f,#f7f5a4,#f7f5a8,#f7f6ab,#f8f6ad,#f8f6af,#f8f6af,#f8f6af,#f8f6af,#f8f6ae,#f8f6ad,#f7f6ac,#f7f6aa,#f7f5a9,#f7f5a8,#f7f5a7,#f7f5a6,#f7f5a6,#f7f5a6,#f7f5a6,#f7f5a6,#f7f5a6,#f7f5a6,#f7f5a6,#f7f5a6,#f7f5a6)"></i>
<i style="background:linear-gradient(90deg,#eeda1a,#eeda1a,#eeda19,#eeda19,#eeda18,#eed918,#eeda19,#eeda19,#eedb1b,#eedc1d,#eedd21,#efdf26,#efe22c,#efe433,#f0e73d,#f0e948,#f1eb54,#f2ed60,#f2ef6c,#f3f077,#f4f182,#f5f28c,#f5f395,#f6f49c,#f6f5a2,#f7f5a6,#f7f5a9,#f7f6ab,#f7f6ac,#f7f6ac,#f7f6ac,#f7f6ac,#f7f6ab,#f7f5a9,#f7f5a8,#f7f5a7,#f7f5a5,#f7f5a4,#f7f5a3,#f6f5a2,#f6f5a2,#f6f5a2,#f6f5a2,#f6f5a2,#f6f5a2,#f6f5a2,#f6f5a2,#f6f5a2,#f6f5a2)"></i>
<i style="background:linear-gradient(90deg,#eed917,#eed916,#eed816,#eed815,#eed815,#eed815,#eed815,#eed916,#eed917,#eeda1a,#eedc1e,#efde23,#efe029,#efe330,#efe639,#f0e844,#f1ea50,#f1ed5c,#f2ef68,#f3f074,#f4f17f,#f4f289,#f5f392,#f6f499,#f6f49f,#f7f5a3,#f7f5a6,#f7f5a8,#f7f5a9,#f7f5a9,#f7f5a9,#f7f5a8,#f7f5a7,#f7f5a6,#f7f5a4,#f7f5a3,#f6f4a1,#f6f4a0,#f6f49e,#f6f49e,#f6f49d,#f6f49d,#f6f49d,#f6f49d,#f6f49d,#f6f49d,#f6f49d,#f6f49d,#f6f49d)"></i>
<i style="background:linear-gradient(90deg,#eed713,#eed713,#eed712,#eed712,#eed712,#eed712,#eed712,#eed713,#eed814,#eed917,#eeda1a,#eedc20,#efdf26,#efe22d,#efe535,#f0e740,#f0ea4c,#f1ec59,#f2ee65,#f3f071,#f3f17c,#f4f286,#f5f38f,#f5f396,#f6f49c,#f6f4a0,#f7f5a3,#f7f5a5,#f7f5a6,#f7f5a6,#f7f5a6,#f7f5a5,#f7f5a4,#f6f5a2,#f6f4a0,#f6f49f,#f6f49d,#f6f49b,#f6f49a,#f6f499,#f6f499,#f6f499,#f6f499,#f6f499,#f6f499,#f6f499,#f6f499,#f6f499,#f6f499)"></i>
<i style="background:linear-gradient(90deg,#eed610,#eed610,#eed510,#eed50f,#eed50f,#eed50f,#eed50f,#eed610,#eed611,#eed713,#eed917,#eedb1c,#efde23,#efe12a,#efe431,#efe73c,#f0e949,#f1eb55,#f2ee61,#f2ef6d,#f3f179,#f4f283,#f5f28c,#f5f393,#f6f499,#f6f49d,#f6f4a0,#f6f5a2,#f7f5a3,#f7f5a3,#f7f5a2,#f6f5a1,#f6f4a0,#f6f49e,#f6f49c,#f6f49b,#f6f499,#f6f397,#f5f396,#f5f395,#f5f394,#f5f394,#f5f394,#f5f394,#f5f394,#f5f394,#f5f394,#f5f394,#f5f394)"></i>
<i style="background:linear-gradient(90deg,#eed40f,#eed40e,#eed40e,#eed40e,#eed30e,#eed30e,#eed40e,#eed40e,#eed50f,#eed610,#eed814,#eeda19,#eedc1f,#efdf27,#efe32f,#efe638,#f0e845,#f1eb51,#f1ed5e,#f2ef6a,#f3f075,#f4f180,#f4f289,#f5f390,#f5f396,#f6f49a,#f6f49d,#f6f49f,#f6f4a0,#f6f4a0,#f6f49f,#f6f49e,#f6f49c,#f6f49b,#f6f498,#f5f396,#f5f394,#f5f393,#f5f391,#f5f390,#f5f390,#f5f38f,#f5f38f,#f5f38f,#f5f38f,#f5f38f,#f5f38f,#f5f390,#f5f390)"></i>
<i style="background:linear-gradient(90deg,#eed30d,#eed20d,#eed20d,#eed20d,#eed20d,#eed20d,#eed20d,#eed20d,#eed30e,#eed40f,#eed610,#eed816,#eedb1c,#efde24,#efe12c,#efe534,#f0e741,#f0ea4e,#f1ec5a,#f2ef66,#f3f072,#f4f17c,#f4f286,#f5f38d,#f5f393,#f6f397,#f6f49a,#f6f49c,#f6f49c,#f6f49c,#f6f49c,#f6f49a,#f6f499,#f6f397,#f5f394,#f5f392,#f5f390,#f5f38e,#f5f28c,#f5f28b,#f5f28b,#f5f28b,#f5f28b,#f5f28b,#f5f28b,#f5f28b,#f5f28b,#f5f28b,#f5f28b)"></i>
<i style="background:linear-gradient(90deg,#efd10c,#efd10c,#efd00c,#efd00b,#efd00b,#efd00b,#efd00b,#efd00c,#efd10c,#eed30d,#eed50f,#eed713,#eeda19,#eedd21,#efe029,#efe431,#f0e73d,#f0e94a,#f1ec57,#f2ee63,#f2f06f,#f3f179,#f4f283,#f5f28a,#f5f390,#f5f394,#f6f397,#f6f499,#f6f499,#f6f499,#f6f498,#f6f397,#f5f395,#f5f393,#f5f390,#f5f38e,#f5f28c,#f5f28a,#f4f288,#f4f287,#f4f286,#f4f286,#f4f286,#f4f286,#f4f286,#f4f286,#f4f286,#f4f286,#f4f286)"></i>
<i style="background:linear-gradient(90deg,#efcf0b,#efcf0a,#efcf0a,#efce0a,#efce0a,#efce0a,#efce0a,#efcf0a,#efcf0b,#efd10c,#eed30e,#eed610,#eed816,#eedc1d,#efdf26,#efe32e,#efe639,#f0e846,#f1eb53,#f2ed5f,#f2ef6b,#f3f076,#f4f17f,#f4f287,#f5f28d,#f5f391,#f5f394,#f5f395,#f5f396,#f5f396,#f5f395,#f5f393,#f5f391,#f5f38f,#f5f28c,#f5f28a,#f4f287,#f4f285,#f4f283,#f4f182,#f4f181,#f4f181,#f4f181,#f4f181,#f4f181,#f4f181,#f4f181,#f4f181,#f4f181)"></i>
<i style="background:linear-gradient(90deg,#efcd09,#efcd09,#efcd09,#efcd09,#efcc09,#efcc09,#efcd09,#efcd09,#efce0a,#efcf0b,#efd10c,#eed40e,#eed713,#eeda1a,#efde23,#efe12c,#efe535,#f0e842,#f1ea4f,#f1ed5c,#f2ef68,#f3f073,#f4f17c,#f4f284,#f5f28a,#f5f38e,#f5f391,#f5f392,#f5f393,#f5f392,#f5f391,#f5f38f,#f5f38d,#f5f28b,#f4f288,#f4f285,#f4f283,#f4f181,#f4f17f,#f4f17d,#f4f17d,#f4f17d,#f4f17c,#f4f17c,#f4f17c,#f4f17c,#f4f17d,#f4f17d,#f4f17d)"></i>
<i style="background:linear-gradient(90deg,#efcc08,#efcb08,#efcb08,#efcb07,#efcb07,#efcb07,#efcb07,#efcb08,#efcc08,#efcd09,#efd00b,#eed20d,#eed610,#eed917,#eedd20,#efe029,#efe432,#f0e73e,#f0ea4c,#f1ec59,#f2ee65,#f3f070,#f3f179,#f4f181,#f4f287,#f5f28b,#f5f38e,#f5f38f,#f5f38f,#f5f38f,#f5f38e,#f5f28c,#f5f289,#f4f287,#f4f284,#f4f181,#f4f17e,#f4f17c,#f3f17a,#f3f179,#f3f178,#f3f078,#f3f078,#f3f078,#f3f078,#f3f078,#f3f078,#f3f078,#f3f078)"></i>
<i style="background:linear-gradient(90deg,#efca07,#efca06,#efc906,#efc906,#efc906,#efc906,#efc906,#efca06,#efca07,#efcc08,#efce0a,#efd10c,#eed40f,#eed814,#eedb1d,#efdf26,#efe32f,#efe63b,#f0e948,#f1eb55,#f2ee61,#f2ef6c,#f3f076,#f4f17e,#f4f284,#f4f288,#f5f28a,#f5f28c,#f5f28c,#f5f28b,#f5f28a,#f4f288,#f4f285,#f4f283,#f4f180,#f4f17d,#f3f17a,#f3f077,#f3f075,#f3f074,#f3f073,#f3f073,#f3f073,#f3f073,#f3f073,#f3f073,#f3f073,#f3f073,#f3f073)"></i>
<i style="background:linear-gradient(90deg,#f0c805,#f0c805,#f0c805,#f0c705,#f0c704,#f0c704,#f0c705,#f0c805,#efc906,#efca07,#efcc08,#efcf0b,#eed30d,#eed611,#eeda1a,#efde23,#efe22c,#efe637,#f0e844,#f1eb52,#f1ed5e,#f2ef69,#f3f073,#f3f17b,#f4f181,#f4f285,#f4f287,#f4f288,#f4f289,#f4f288,#f4f286,#f4f284,#f4f182,#f4f17f,#f3f17c,#f3f178,#f3f075,#f3f073,#f3f071,#f3f06f,#f2f06e,#f2f06e,#f2f06e,#f2f06e,#f2f06e,#f2f06e,#f2f06e,#f2f06e,#f2f06e)"></i>
<i style="background:linear-gradient(90deg,#f0c704,#f0c604,#f0c603,#f0c603,#f0c503,#f0c503,#f0c603,#f0c604,#f0c704,#f0c805,#efca07,#efcd09,#efd10c,#eed50f,#eed917,#eedd20,#efe12a,#efe533,#f0e741,#f1ea4e,#f1ec5a,#f2ef66,#f3f070,#f3f078,#f4f17e,#f4f182,#f4f284,#f4f285,#f4f285,#f4f284,#f4f283,#f4f180,#f4f17e,#f3f17b,#f3f077,#f3f074,#f3f071,#f2f06e,#f2ef6c,#f2ef6a,#f2ef6a,#f2ef69,#f2ef69,#f2ef69,#f2ef69,#f2ef69,#f2ef69,#f2ef69,#f2ef6a)"></i>
<i style="background:linear-gradient(90deg,#f0c503,#f0c402,#f0c402,#f0c402,#f0c402,#f0c402,#f0c402,#f0c402,#f0c503,#f0c704,#efc906,#efcc08,#efcf0b,#eed30e,#eed814,#eedb1d,#efe027,#efe431,#f0e73d,#f0e94b,#f1ec57,#f2ee62,#f2ef6c,#f3f075,#f3f17a,#f4f17e,#f4f181,#f4f182,#f4f182,#f4f181,#f4f17f,#f4f17d,#f3f17a,#f3f077,#f3f073,#f3f070,#f2ef6d,#f2ef6a,#f2ef67,#f2ef66,#f2ee65,#f2ee65,#f2ee64,#f2ee64,#f2ee64,#f2ee64,#f2ee65,#f2ee65,#f2ee65)"></i>
<i style="background:linear-gradient(90deg,#f0c302,#f0c202,#f0c202,#f0c202,#f0c102,#f0c102,#f0c202,#f0c202,#f0c302,#f0c503,#f0c704,#efca07,#efce0a,#eed20d,#eed611,#eeda1a,#efde24,#efe32e,#efe63a,#f0e947,#f1eb54,#f1ed5f,#f2ef69,#f3f071,#f3f077,#f3f17b,#f4f17e,#f4f17f,#f4f17f,#f4f17e,#f3f17c,#f3f179,#f3f076,#f3f073,#f3f06f,#f2ef6b,#f2ef68,#f2ee65,#f2ee63,#f2ee61,#f2ee60,#f2ed60,#f2ed60,#f2ed60,#f2ed60,#f2ed60,#f2ed60,#f2ed60,#f2ed60)"></i>
<i style="background:linear-gradient(90deg,#f0c102,#f0c002,#f0c002,#f0bf02,#f0bf02,#f0bf02,#f0bf02,#f0c002,#f0c102,#f0c302,#f0c503,#efc906,#efcc08,#efd00c,#eed50f,#eed917,#eedd21,#efe12b,#efe536,#f0e844,#f1ea50,#f1ed5c,#f2ef66,#f2f06e,#f3f074,#f3f178,#f3f17a,#f3f17b,#f3f17b,#f3f17a,#f3f178,#f3f075,#f3f072,#f2f06f,#f2ef6b,#f2ef67,#f2ee64,#f2ee61,#f1ed5e,#f1ed5c,#f1ed5c,#f1ed5b,#f1ed5b,#f1ec5b,#f1ec5b,#f1ed5b,#f1ed5b,#f1ed5b,#f1ed5b)"></i>
<i style="background:linear-gradient(90deg,#f0be02,#f1be02,#f1be02,#f1bd02,#f1bd02,#f1bd02,#f1bd02,#f1be02,#f0bf02,#f0c102,#f0c402,#f0c704,#efcb07,#efcf0a,#eed30e,#eed815,#eedc1f,#efe029,#efe433,#f0e740,#f0ea4d,#f1ec59,#f2ee63,#f2ef6b,#f3f071,#f3f075,#f3f077,#f3f178,#f3f178,#f3f077,#f3f074,#f3f072,#f2f06e,#f2ef6a,#f2ef67,#f2ee63,#f2ed5f,#f1ed5c,#f1ec5a,#f1ec58,#f1ec57,#f1ec57,#f1ec56,#f1ec56,#f1ec56,#f1ec56,#f1ec56,#f1ec57,#f1ec57)"></i>
<i style="background:linear-gradient(90deg,#f1bc02,#f1bc02,#f1bb02,#f1bb02,#f1bb02,#f1bb02,#f1bb02,#f1bc02,#f1bd02,#f0bf02,#f0c202,#f0c503,#efc906,#efcd09,#eed20d,#eed712,#eedb1c,#efdf26,#efe330,#efe73d,#f0e94a,#f1eb55,#f2ed60,#f2ef68,#f2f06e,#f3f072,#f3f074,#f3f075,#f3f075,#f3f073,#f3f071,#f2f06e,#f2ef6a,#f2ef67,#f2ee63,#f1ed5f,#f1ed5b,#f1ec58,#f1eb55,#f1eb53,#f1eb52,#f1eb52,#f1eb52,#f1eb52,#f1eb52,#f1eb52,#f1eb52,#f1eb52,#f1eb52)"></i>
<i style="background:linear-gradient(90deg,#f1ba02,#f1ba02,#f1b902,#f1b902,#f1b902,#f1b902,#f1b902,#f1ba02,#f1bb02,#f1bd02,#f0c002,#f0c402,#f0c705,#efcc08,#efd00c,#eed510,#eeda19,#efde24,#efe22e,#efe639,#f0e946,#f1eb52,#f1ed5d,#f2ee65,#f2ef6b,#f3f06f,#f3f071,#f3f072,#f3f071,#f3f070,#f2ef6d,#f2ef6a,#f2ef66,#f2ee63,#f1ed5f,#f1ec5b,#f1ec57,#f1eb53,#f1ea51,#f1ea4f,#f0ea4e,#f0ea4d,#f0ea4d,#f0ea4d,#f0ea4d,#f0ea4d,#f0ea4d,#f0ea4d,#f0ea4d)"></i>
<i style="background:linear-gradient(90deg,#f1b802,#f1b802,#f1b702,#f1b702,#f1b702,#f1b602,#f1b702,#f1b702,#f1b802,#f1ba02,#f1bd02,#f0c202,#f0c603,#efca07,#efcf0b,#eed40e,#eed917,#eedd21,#efe12b,#efe536,#f0e843,#f1ea4f,#f1ec59,#f2ee62,#f2ef68,#f2ef6c,#f2f06e,#f2f06f,#f2f06e,#f2ef6c,#f2ef6a,#f2ef66,#f2ee63,#f1ed5f,#f1ec5a,#f1ec56,#f1eb52,#f1ea4f,#f0ea4c,#f0e94a,#f0e949,#f0e949,#f0e948,#f0e948,#f0e948,#f0e948,#f0e948,#f0e949,#f0e949)"></i>
<i style="background:linear-gradient(90deg,#f1b602,#f1b502,#f1b502,#f1b502,#f1b402,#f1b402,#f1b502,#f1b502,#f1b602,#f1b802,#f1bb02,#f0c002,#f0c402,#efc906,#efce09,#eed30d,#eed814,#eedc1e,#efe029,#efe533,#f0e740,#f0ea4c,#f1ec56,#f1ed5f,#f2ee65,#f2ef69,#f2ef6b,#f2ef6b,#f2ef6b,#f2ef69,#f2ef66,#f2ee63,#f1ed5f,#f1ec5b,#f1ec56,#f1eb52,#f1ea4e,#f0e94b,#f0e948,#f0e845,#f0e844,#f0e844,#f0e844,#f0e844,#f0e844,#f0e844,#f0e844,#f0e844,#f0e844)"></i>
<i style="background:linear-gradient(90deg,#f1b402,#f1b302,#f1b302,#f2b202,#f2b202,#f2b202,#f2b202,#f1b302,#f1b402,#f1b602,#f1b902,#f1bd02,#f0c302,#f0c705,#efcc08,#efd10c,#eed611,#eedb1c,#efdf26,#efe430,#efe73c,#f0e949,#f1eb53,#f1ed5c,#f2ee62,#f2ef65,#f2ef68,#f2ef68,#f2ef67,#f2ef66,#f2ee63,#f1ed5f,#f1ed5b,#f1ec57,#f1eb52,#f1ea4e,#f0e94a,#f0e846,#f0e843,#f0e741,#f0e740,#f0e73f,#f0e73f,#f0e73f,#f0e73f,#f0e73f,#f0e73f,#f0e73f,#f0e740)"></i>
<i style="background:linear-gradient(90deg,#f2b202,#f2b102,#f2b102,#f2b002,#f2b002,#f2b002,#f2b002,#f2b102,#f2b202,#f1b402,#f1b702,#f1bb02,#f0c102,#f0c603,#efcb07,#efd00b,#eed50f,#eeda19,#efde24,#efe32e,#efe639,#f0e846,#f1ea50,#f1ec59,#f1ed5f,#f2ee62,#f2ee65,#f2ee65,#f2ee64,#f2ee62,#f1ed5f,#f1ed5c,#f1ec58,#f1eb53,#f1ea4e,#f0e94a,#f0e846,#f0e842,#f0e73f,#efe73c,#efe63b,#efe63b,#efe63b,#efe63a,#efe63a,#efe63b,#efe63b,#efe63b,#efe63b)"></i>
<i style="background:linear-gradient(90deg,#f2b002,#f2af02,#f2af02,#f2ae02,#f2ae02,#f2ae02,#f2ae02,#f2af02,#f2b002,#f2b202,#f1b502,#f1ba02,#f0bf02,#f0c402,#efc906,#efcf0a,#eed40e,#eed917,#eedd22,#efe22c,#efe536,#f0e842,#f0ea4d,#f1eb56,#f1ed5c,#f2ed5f,#f2ee61,#f2ee62,#f2ee61,#f1ed5f,#f1ed5c,#f1ec58,#f1eb54,#f1ea4f,#f0e94b,#f0e846,#f0e841,#f0e73e,#efe63a,#efe638,#efe637,#efe536,#efe536,#efe536,#efe536,#efe536,#efe536,#efe536,#efe537)"></i>
<i style="background:linear-gradient(90deg,#f2ad02,#f2ad02,#f2ad02,#f2ac02,#f2ac02,#f2ac02,#f2ac02,#f2ad02,#f2ae02,#f2b002,#f1b302,#f1b802,#f1bd02,#f0c302,#f0c805,#efcd09,#eed30d,#eed814,#eedc1f,#efe129,#efe533,#f0e73f,#f0e94a,#f1eb53,#f1ec59,#f1ed5d,#f1ed5e,#f1ed5f,#f1ed5e,#f1ed5c,#f1ec59,#f1eb55,#f1ea50,#f0ea4b,#f0e947,#f0e842,#f0e73d,#efe639,#efe536,#efe534,#efe533,#efe432,#efe432,#efe432,#efe432,#efe432,#efe432,#efe433,#efe433)"></i>
<i style="background:linear-gradient(90deg,#f2ab02,#f2ab02,#f2ab02,#f2aa02,#f2aa02,#f2aa02,#f2aa02,#f2ab02,#f2ac02,#f2ae02,#f2b102,#f1b602,#f1bb02,#f0c102,#f0c704,#efcc08,#efd10c,#eed712,#eedb1d,#efe027,#efe431,#efe73c,#f0e947,#f1ea50,#f1ec56,#f1ec5a,#f1ed5b,#f1ed5c,#f1ec5b,#f1ec58,#f1eb55,#f1eb51,#f0ea4d,#f0e948,#f0e843,#f0e73e,#efe639,#efe535,#efe432,#efe431,#efe330,#efe32f,#efe32f,#efe32f,#efe32f,#efe32f,#efe32f,#efe32f,#efe330)"></i>
<i style="background:linear-gradient(90deg,#f2a902,#f2a902,#f2a902,#f2a802,#f2a802,#f2a802,#f2a802,#f2a902,#f2aa02,#f2ac02,#f2af02,#f1b402,#f1b902,#f0bf02,#f0c503,#efcb07,#efd00b,#eed610,#eeda1a,#efdf25,#efe32f,#efe639,#f0e844,#f0ea4d,#f1eb53,#f1ec57,#f1ec59,#f1ec59,#f1ec58,#f1eb55,#f1eb52,#f0ea4e,#f0e949,#f0e844,#f0e73f,#efe63a,#efe535,#efe432,#efe32f,#efe22e,#efe22d,#efe22c,#efe22c,#efe22c,#efe22c,#efe22c,#efe22c,#efe22c,#efe22d)"></i>
<i style="background:linear-gradient(90deg,#f2a702,#f2a702,#f2a702,#f2a602,#f2a602,#f2a602,#f2a602,#f2a702,#f2a802,#f2aa02,#f2ad02,#f2b202,#f1b702,#f1bd02,#f0c402,#efc906,#efcf0a,#eed40f,#eed918,#efde23,#efe22d,#efe536,#f0e841,#f0e94a,#f1ea50,#f1eb54,#f1eb56,#f1ec56,#f1eb55,#f1eb52,#f1ea4f,#f0e94a,#f0e846,#f0e740,#efe63b,#efe536,#efe432,#efe32f,#efe22c,#efe12b,#efe12a,#efe129,#efe029,#efe029,#efe029,#efe029,#efe129,#efe129,#efe12a)"></i>
<i style="background:linear-gradient(90deg,#f2a502,#f2a502,#f2a502,#f2a402,#f2a402,#f2a402,#f2a402,#f2a502,#f2a602,#f2a802,#f2ab02,#f2b002,#f1b502,#f1bb02,#f0c202,#f0c805,#efce09,#eed30e,#eed816,#eedd21,#efe12a,#efe533,#f0e73e,#f0e947,#f0ea4d,#f1eb51,#f1eb53,#f1eb53,#f1eb52,#f1ea4f,#f0e94b,#f0e947,#f0e842,#f0e73d,#efe637,#efe433,#efe32f,#efe22c,#efe12a,#efe028,#efe027,#efdf26,#efdf26,#efdf26,#efdf26,#efdf26,#efdf26,#efdf26,#efdf27)"></i>
<i style="background:linear-gradient(90deg,#f2a402,#f2a302,#f2a302,#f2a202,#f2a202,#f2a202,#f2a202,#f2a302,#f2a402,#f2a602,#f2aa02,#f2ae02,#f1b302,#f1ba02,#f0c002,#f0c704,#efcc09,#eed20d,#eed714,#eedc1e,#efe028,#efe431,#efe63b,#f0e844,#f0e94a,#f1ea4e,#f1ea50,#f1ea50,#f1ea4f,#f0ea4c,#f0e948,#f0e844,#f0e73f,#efe639,#efe534,#efe330,#efe22c,#efe129,#efdf27,#efdf25,#efde24,#efde23,#efde23,#efde23,#efde23,#efde23,#efde23,#efde24,#efde24)"></i>
<i style="background:linear-gradient(90deg,#f2a202,#f3a102,#f3a102,#f3a002,#f3a002,#f3a002,#f3a002,#f3a102,#f2a202,#f2a402,#f2a802,#f2ac02,#f2b202,#f1b802,#f0bf02,#f0c503,#efcb08,#efd10c,#eed711,#eedb1c,#efdf26,#efe32f,#efe639,#f0e841,#f0e948,#f0e94b,#f0ea4d,#f0ea4d,#f0ea4c,#f0e949,#f0e845,#f0e740,#efe63b,#efe536,#efe431,#efe22d,#efe12a,#efdf27,#efde24,#efde22,#eedd21,#eedd21,#eedd20,#eedd20,#eedd20,#eedd20,#eedd20,#eedd21,#eedd21)"></i>
<i style="background:linear-gradient(90deg,#f3a002,#f39f02,#f39f02,#f39e02,#f39e02,#f39e02,#f39e02,#f39f02,#f3a002,#f2a202,#f2a602,#f2aa02,#f2b002,#f1b602,#f1bd02,#f0c402,#efca07,#efd00b,#eed610,#eeda1a,#efde24,#efe22d,#efe536,#f0e73f,#f0e845,#f0e949,#f0e94a,#f0e94a,#f0e949,#f0e846,#f0e842,#f0e73d,#efe638,#efe433,#efe32f,#efe12b,#efe027,#efde24,#eedd21,#eedc1f,#eedc1e,#eedc1e,#eedc1d,#eedc1d,#eedc1d,#eedc1d,#eedc1e,#eedc1e,#eedc1e)"></i>
<i style="background:linear-gradient(90deg,#f39e02,#f39d02,#f39d02,#f39d02,#f39c02,#f39c02,#f39d02,#f39d02,#f39e02,#f3a102,#f2a402,#f2a902,#f2ae02,#f1b502,#f1bb02,#f0c302,#efc906,#efcf0a,#eed40f,#eed918,#efde22,#efe12b,#efe533,#efe73c,#f0e842,#f0e846,#f0e948,#f0e947,#f0e846,#f0e843,#f0e73f,#efe63a,#efe535,#efe330,#efe22c,#efe028,#efdf25,#eedd21,#eedc1e,#eedb1c,#eedb1b,#eedb1b,#eeda1b,#eeda1b,#eeda1b,#eeda1b,#eedb1b,#eedb1b,#eedb1b)"></i>
<i style="background:linear-gradient(90deg,#f39c02,#f39c02,#f39b02,#f39b02,#f39a02,#f39a02,#f39b02,#f39b02,#f39d02,#f39f02,#f2a202,#f2a702,#f2ad02,#f1b302,#f1ba02,#f0c102,#f0c805,#efce09,#eed30e,#eed816,#eedd20,#efe12a,#efe431,#efe639,#f0e740,#f0e843,#f0e845,#f0e845,#f0e843,#f0e740,#efe73c,#efe637,#efe432,#efe32e,#efe12a,#efdf26,#eedd22,#eedc1f,#eedb1c,#eeda1a,#eeda19,#eed918,#eed918,#eed918,#eed918,#eed918,#eed918,#eed918,#eeda18)"></i>
<i style="background:linear-gradient(90deg,#f39a02,#f39a02,#f39902,#f39902,#f39902,#f39902,#f39902,#f39a02,#f39b02,#f39d02,#f3a102,#f2a502,#f2ab02,#f2b102,#f1b802,#f0c002,#f0c704,#efcd09,#eed20d,#eed814,#eedc1e,#efe028,#efe330,#efe637,#f0e73d,#f0e741,#f0e842,#f0e842,#f0e740,#f0e73d,#efe639,#efe534,#efe330,#efe22c,#efe028,#efde23,#eedc1f,#eedb1c,#eeda19,#eed917,#eed916,#eed816,#eed815,#eed815,#eed815,#eed815,#eed815,#eed816,#eed816)"></i>
<i style="background:linear-gradient(90deg,#f39902,#f39802,#f39802,#f39702,#f39702,#f39702,#f39702,#f39802,#f39902,#f39b02,#f39f02,#f2a402,#f2a902,#f2b002,#f1b702,#f1be02,#f0c503,#efcb08,#efd10c,#eed712,#eedb1c,#efdf26,#efe22e,#efe534,#efe63b,#f0e73e,#f0e740,#f0e73f,#f0e73e,#efe63a,#efe536,#efe432,#efe22e,#efe12a,#efdf25,#eedd21,#eedb1d,#eeda1a,#eed917,#eed815,#eed713,#eed713,#eed713,#eed712,#eed712,#eed713,#eed713,#eed713,#eed713)"></i>
<i style="background:linear-gradient(90deg,#f39702,#f39602,#f39602,#f39602,#f39502,#f39502,#f39502,#f39602,#f39702,#f39a02,#f39d02,#f2a202,#f2a802,#f2ae02,#f1b502,#f1bd02,#f0c402,#efca07,#efd00c,#eed610,#eeda1b,#efde24,#efe22c,#efe432,#efe638,#efe63c,#f0e73d,#f0e73d,#efe63b,#efe638,#efe533,#efe330,#efe22c,#efe027,#efde23,#eedc1f,#eeda1b,#eed917,#eed814,#eed712,#eed611,#eed610,#eed610,#eed610,#eed610,#eed610,#eed610,#eed610,#eed611)"></i>
<i style="background:linear-gradient(90deg,#f39502,#f39502,#f39402,#f39402,#f39402,#f39402,#f39402,#f39502,#f39602,#f39802,#f39c02,#f3a002,#f2a602,#f2ad02,#f1b402,#f1bb02,#f0c302,#efc906,#efcf0b,#eed50f,#eeda19,#efde22,#efe12a,#efe431,#efe536,#efe639,#efe63b,#efe63a,#efe638,#efe535,#efe432,#efe22e,#efe12a,#efdf25,#eedd21,#eedb1c,#eed918,#eed815,#eed712,#eed610,#eed50f,#eed50f,#eed50f,#eed50f,#eed50f,#eed50f,#eed50f,#eed50f,#eed50f)"></i>
<i style="background:linear-gradient(90deg,#f39402,#f39302,#f39302,#f39202,#f39202,#f39202,#f39202,#f39302,#f39402,#f39602,#f39a02,#f39f02,#f2a502,#f2ab02,#f2b202,#f1ba02,#f0c202,#f0c805,#efce0a,#eed40f,#eed917,#eedd21,#efe029,#efe32f,#efe534,#efe637,#efe638,#efe638,#efe536,#efe533,#efe330,#efe22c,#efe028,#efde23,#eedc1f,#eeda1a,#eed916,#eed712,#eed610,#eed50f,#eed40e,#eed40e,#eed40e,#eed30e,#eed30e,#eed40e,#eed40e,#eed40e,#eed40e)"></i>
<i style="background:linear-gradient(90deg,#f39202,#f39202,#f39102,#f39102,#f39002,#f39002,#f39102,#f39102,#f39302,#f39502,#f39902,#f39d02,#f2a302,#f2aa02,#f2b102,#f1b902,#f0c102,#f0c705,#efce09,#eed30e,#eed815,#eedc1f,#efe027,#efe22e,#efe432,#efe535,#efe536,#efe536,#efe534,#efe431,#efe22e,#efe12a,#efdf26,#eedd21,#eedb1d,#eed918,#eed814,#eed610,#eed40f,#eed30e,#eed30d,#eed20d,#eed20d,#eed20d,#eed20d,#eed20d,#eed20d,#eed30d,#eed30d)"></i>
<i style="background:linear-gradient(90deg,#f39102,#f29002,#f29002,#f28f02,#f28f02,#f28f02,#f28f02,#f29002,#f39102,#f39302,#f39702,#f39c02,#f2a202,#f2a802,#f2b002,#f1b702,#f0bf02,#f0c704,#efcd09,#eed20d,#eed814,#eedc1d,#efdf26,#efe22c,#efe330,#efe533,#efe534,#efe533,#efe432,#efe32f,#efe22c,#efe028,#efde24,#eedc1f,#eeda1a,#eed816,#eed712,#eed50f,#eed30e,#eed20d,#eed20d,#efd10c,#efd10c,#efd10c,#efd10c,#efd10c,#efd10c,#efd10c,#efd10c)"></i>
<i style="background:linear-gradient(90deg,#f28f02,#f28f02,#f28e02,#f28e02,#f28d02,#f28d02,#f28e02,#f28e02,#f29002,#f39202,#f39602,#f39b02,#f3a002,#f2a702,#f2ae02,#f1b602,#f1be02,#f0c603,#efcc08,#eed20d,#eed712,#eedb1c,#efde24,#efe12a,#efe32f,#efe431,#efe432,#efe432,#efe330,#efe22e,#efe12a,#efdf26,#eedd22,#eedc1d,#eeda18,#eed814,#eed610,#eed40e,#eed20d,#efd10c,#efd00c,#efd00b,#efd00b,#efd00b,#efd00b,#efd00b,#efd00b,#efd00c,#efd00c)"></i>
<i style="background:linear-gradient(90deg,#f28e02,#f28d02,#f28d02,#f28c02,#f28c02,#f28c02,#f28c02,#f28d02,#f28e02,#f39102,#f39402,#f39902,#f39f02,#f2a602,#f2ad02,#f1b502,#f1bd02,#f0c503,#efcb07,#efd10c,#eed610,#eeda1a,#efde22,#efe029,#efe22d,#efe330,#efe431,#efe430,#efe32f,#efe22c,#efe029,#efdf25,#eedd20,#eedb1b,#eed917,#eed712,#eed50f,#eed30e,#efd10c,#efd00b,#efcf0b,#efcf0b,#efcf0b,#efcf0a,#efcf0a,#efcf0b,#efcf0b,#efcf0b,#efcf0b)"></i>
<i style="background:linear-gradient(90deg,#f28c02,#f28c02,#f28b02,#f28b02,#f28a02,#f28a02,#f28b02,#f28c02,#f28d02,#f28f02,#f39302,#f39802,#f39e02,#f2a502,#f2ac02,#f1b402,#f1bc02,#f0c402,#efca07,#efd00b,#eed510,#eeda19,#eedd21,#efe028,#efe22c,#efe32f,#efe32f,#efe32f,#efe22d,#efe12b,#efe027,#efde23,#eedc1e,#eeda1a,#eed815,#eed610,#eed40e,#eed20d,#efd00b,#efcf0b,#efce0a,#efce0a,#efce0a,#efce0a,#efce0a,#efce0a,#efce0a,#efce0a,#efce0a)"></i>
<i style="background:linear-gradient(90deg,#f28b02,#f28a02,#f28a02,#f28902,#f28902,#f28902,#f28902,#f28a02,#f28b02,#f28e02,#f39202,#f39702,#f39d02,#f2a302,#f2ab02,#f2b302,#f1bb02,#f0c302,#efc906,#efcf0b,#eed50f,#eed917,#eedd20,#efdf26,#efe12b,#efe22d,#efe32e,#efe22e,#efe22c,#efe029,#efdf26,#eedd21,#eedb1d,#eed918,#eed713,#eed50f,#eed30e,#efd10c,#efcf0b,#efce0a,#efcd09,#efcd09,#efcd09,#efcd09,#efcd09,#efcd09,#efcd09,#efcd09,#efcd09)"></i>
<i style="background:linear-gradient(90deg,#f28a02,#f28902,#f28902,#f28802,#f28802,#f28802,#f28802,#f28902,#f28a02,#f28d02,#f39002,#f39502,#f39b02,#f2a202,#f2aa02,#f2b202,#f1ba02,#f0c202,#efc906,#efcf0a,#eed40e,#eed816,#eedc1e,#efdf25,#efe129,#efe22c,#efe22d,#efe22c,#efe12a,#efe028,#efde24,#eedd20,#eedb1b,#eed916,#eed711,#eed40f,#eed20d,#efd00b,#efce0a,#efcd09,#efcc09,#efcc08,#efcc08,#efcc08,#efcc08,#efcc08,#efcc08,#efcc08,#efcc08)"></i>
<i style="background:linear-gradient(90deg,#f28802,#f28802,#f28702,#f28702,#f28702,#f28702,#f28702,#f28802,#f28902,#f28b02,#f28f02,#f39402,#f39a02,#f3a102,#f2a902,#f2b102,#f1b902,#f0c102,#f0c805,#efce0a,#eed30e,#eed815,#eedb1d,#efde24,#efe028,#efe12b,#efe12b,#efe12b,#efe029,#efdf26,#efde23,#eedc1e,#eeda1a,#eed815,#eed610,#eed30e,#efd10c,#efcf0b,#efcd09,#efcc08,#efcb08,#efcb08,#efcb07,#efcb07,#efcb07,#efcb07,#efcb07,#efcb08,#efcb08)"></i>
<i style="background:linear-gradient(90deg,#f28702,#f28702,#f28602,#f28602,#f28502,#f28502,#f28602,#f28602,#f28802,#f28a02,#f28e02,#f39302,#f39902,#f3a002,#f2a802,#f2b002,#f1b802,#f0c002,#f0c704,#efcd09,#eed30d,#eed713,#eedb1c,#efde23,#efe027,#efe129,#efe12a,#efe12a,#efe028,#efdf25,#eedd21,#eedb1d,#eed918,#eed713,#eed50f,#eed30d,#efd00c,#efce0a,#efcc09,#efcb08,#efcb07,#efca07,#efca07,#efca07,#efca07,#efca07,#efca07,#efca07,#efca07)"></i>
<i style="background:linear-gradient(90deg,#f28602,#f28602,#f28502,#f18502,#f18402,#f18402,#f18502,#f28502,#f28702,#f28902,#f28d02,#f39202,#f39802,#f39f02,#f2a702,#f2af02,#f1b702,#f0bf02,#f0c604,#efcd09,#eed20d,#eed712,#eeda1b,#eedd21,#efdf26,#efe028,#efe029,#efe029,#efdf27,#efde24,#eedd20,#eedb1c,#eed917,#eed712,#eed40f,#eed20d,#efcf0b,#efcd09,#efcc08,#efca07,#efca06,#efc906,#efc906,#efc906,#efc906,#efc906,#efc906,#efc906,#efca06)"></i>
<i style="background:linear-gradient(90deg,#f28502,#f18502,#f18402,#f18402,#f18302,#f18302,#f18402,#f18402,#f28602,#f28802,#f28c02,#f39102,#f39702,#f39e02,#f2a602,#f2ae02,#f1b602,#f0be02,#f0c603,#efcc08,#eed20d,#eed611,#eeda1a,#eedd20,#efdf25,#efe027,#efe028,#efe027,#efdf26,#efde23,#eedc1f,#eeda1a,#eed816,#eed610,#eed40e,#efd10c,#efcf0a,#efcd09,#efcb07,#efca06,#efc906,#efc906,#f0c805,#f0c805,#f0c805,#f0c805,#efc906,#efc906,#efc906)"></i>
<i style="background:linear-gradient(90deg,#f18402,#f18402,#f18302,#f18302,#f18202,#f18202,#f18302,#f18302,#f18502,#f28702,#f28b02,#f29002,#f39602,#f39d02,#f2a502,#f2ad02,#f1b502,#f1bd02,#f0c503,#efcb08,#efd10c,#eed610,#eeda19,#eedc1f,#efde24,#efdf26,#efe027,#efdf26,#efdf24,#eedd22,#eedc1e,#eeda19,#eed814,#eed610,#eed30e,#efd00c,#efce0a,#efcc08,#efca07,#efc906,#f0c805,#f0c805,#f0c805,#f0c805,#f0c805,#f0c805,#f0c805,#f0c805,#f0c805)"></i>
<i style="background:linear-gradient(90deg,#f18302,#f18302,#f18202,#f18202,#f18102,#f18102,#f18202,#f18202,#f18402,#f28602,#f28a02,#f28f02,#f39502,#f39c02,#f2a402,#f2ac02,#f1b402,#f1bd02,#f0c503,#efcb07,#efd10c,#eed610,#eed918,#eedc1e,#efde23,#efdf25,#efdf26,#efdf25,#efde23,#eedd20,#eedb1d,#eed918,#eed713,#eed50f,#eed20d,#efd00b,#efcd09,#efcb08,#efc906,#f0c805,#f0c705,#f0c704,#f0c704,#f0c704,#f0c704,#f0c704,#f0c704,#f0c704,#f0c705)"></i>
<i style="background:linear-gradient(90deg,#f18202,#f18202,#f18102,#f18102,#f18002,#f18002,#f18102,#f18102,#f18302,#f28502,#f28902,#f28e02,#f39402,#f39c02,#f2a302,#f2ab02,#f1b402,#f1bc02,#f0c402,#efca07,#efd00b,#eed50f,#eed917,#eedc1e,#efde22,#efdf24,#efdf25,#efdf25,#efde23,#eedc20,#eedb1c,#eed917,#eed712,#eed40f,#eed20d,#efcf0b,#efcd09,#efcb07,#efc906,#f0c805,#f0c704,#f0c604,#f0c604,#f0c604,#f0c604,#f0c604,#f0c604,#f0c704,#f0c704)"></i>
<i style="background:linear-gradient(90deg,#f18102,#f18102,#f18002,#f18002,#f18002,#f18002,#f18002,#f18102,#f18202,#f18402,#f28802,#f28e02,#f39402,#f39b02,#f2a302,#f2ab02,#f1b302,#f1bb02,#f0c402,#efca07,#efd00b,#eed50f,#eed816,#eedb1d,#eedd21,#efde24,#efdf24,#efde24,#eedd22,#eedc1f,#eeda1b,#eed916,#eed611,#eed40e,#efd10c,#efcf0a,#efcc08,#efca07,#f0c805,#f0c704,#f0c604,#f0c603,#f0c603,#f0c603,#f0c603,#f0c603,#f0c603,#f0c603,#f0c604)"></i>
<i style="background:linear-gradient(90deg,#f18102,#f18002,#f18002,#f17f02,#f17f02,#f17f02,#f17f02,#f18002,#f18102,#f18402,#f28802,#f28d02,#f39302,#f39a02,#f2a202,#f2aa02,#f2b202,#f1bb02,#f0c302,#efc906,#efcf0b,#eed40f,#eed815,#eedb1c,#eedd21,#efde23,#efde24,#efde23,#eedd21,#eedc1e,#eeda1a,#eed815,#eed610,#eed30e,#efd10c,#efce0a,#efcc08,#efc906,#f0c805,#f0c604,#f0c603,#f0c503,#f0c503,#f0c503,#f0c503,#f0c503,#f0c503,#f0c503,#f0c503)"></i>
<i style="background:linear-gradient(90deg,#f18002,#f17f02,#f17f02,#f17e02,#f17e02,#f17e02,#f17e02,#f17f02,#f18102,#f18302,#f28702,#f28c02,#f39202,#f39a02,#f3a102,#f2a902,#f2b202,#f1ba02,#f0c302,#efc906,#efcf0a,#eed40e,#eed815,#eedb1b,#eedd20,#efde22,#efde23,#efde22,#eedd20,#eedb1d,#eeda19,#eed814,#eed610,#eed30e,#efd00c,#efce09,#efcb08,#efc906,#f0c704,#f0c603,#f0c503,#f0c503,#f0c502,#f0c502,#f0c502,#f0c502,#f0c503,#f0c503,#f0c503)"></i>
<i style="background:linear-gradient(90deg,#f17f02,#f17f02,#f17e02,#f17e02,#f17d02,#f17d02,#f17e02,#f17f02,#f18002,#f18202,#f28602,#f28c02,#f39202,#f39902,#f3a102,#f2a902,#f2b102,#f1ba02,#f0c202,#efc906,#efcf0a,#eed40e,#eed814,#eeda1b,#eedc1f,#eedd22,#efde22,#eedd22,#eedd20,#eedb1c,#eeda18,#eed814,#eed50f,#eed30d,#efd00b,#efcd09,#efcb07,#efc906,#f0c704,#f0c503,#f0c503,#f0c402,#f0c402,#f0c402,#f0c402,#f0c402,#f0c402,#f0c402,#f0c502)"></i>
<i style="background:linear-gradient(90deg,#f17f02,#f17e02,#f17e02,#f17d02,#f17d02,#f17d02,#f17d02,#f17e02,#f17f02,#f18202,#f28602,#f28b02,#f39102,#f39802,#f3a002,#f2a902,#f2b102,#f1b902,#f0c202,#f0c805,#efce0a,#eed30e,#eed713,#eeda1a,#eedc1f,#eedd21,#eedd22,#eedd21,#eedc1f,#eedb1c,#eed918,#eed713,#eed50f,#eed20d,#efd00b,#efcd09,#efca07,#f0c805,#f0c604,#f0c503,#f0c402,#f0c402,#f0c402,#f0c402,#f0c402,#f0c402,#f0c402,#f0c402,#f0c402)"></i>
<i style="background:linear-gradient(90deg,#f17e02,#f17e02,#f17d02,#f17c02,#f17c02,#f17c02,#f17c02,#f17d02,#f17f02,#f18102,#f28502,#f28b02,#f39102,#f39802,#f3a002,#f2a802,#f2b102,#f1b902,#f0c102,#f0c805,#efce0a,#eed30e,#eed713,#eeda1a,#eedc1e,#eedd21,#eedd21,#eedd21,#eedc1f,#eedb1b,#eed917,#eed713,#eed50f,#eed20d,#efcf0b,#efcd09,#efca07,#f0c805,#f0c604,#f0c503,#f0c402,#f0c402,#f0c302,#f0c302,#f0c302,#f0c302,#f0c302,#f0c402,#f0c402)"></i>
<i style="background:linear-gradient(90deg,#f17e02,#f17d02,#f17c02,#f17c02,#f17c02,#f17c02,#f17c02,#f17d02,#f17e02,#f18102,#f28502,#f28a02,#f39102,#f39802,#f3a002,#f2a802,#f2b002,#f1b902,#f0c102,#f0c805,#efce0a,#eed30e,#eed713,#eeda19,#eedc1e,#eedd20,#eedd21,#eedd20,#eedc1e,#eedb1b,#eed917,#eed712,#eed40f,#eed20d,#efcf0b,#efcc08,#efca07,#f0c805,#f0c603,#f0c402,#f0c402,#f0c302,#f0c302,#f0c302,#f0c302,#f0c302,#f0c302,#f0c302,#f0c302)"></i>
<i style="background:linear-gradient(90deg,#f17d02,#f17d02,#f17c02,#f17b02,#f17b02,#f17b02,#f17b02,#f17c02,#f17e02,#f18102,#f18502,#f28a02,#f29002,#f39702,#f39f02,#f2a702,#f2b002,#f1b902,#f0c102,#f0c805,#efce09,#eed30d,#eed712,#eeda19,#eedc1e,#eedd20,#eedd21,#eedd20,#eedc1e,#eeda1b,#eed917,#eed712,#eed40f,#eed20d,#efcf0a,#efcc08,#efca06,#f0c705,#f0c503,#f0c402,#f0c302,#f0c302,#f0c202,#f0c202,#f0c202,#f0c302,#f0c302,#f0c302,#f0c302)"></i>
<i style="background:linear-gradient(90deg,#f17d02,#f17c02,#f17c02,#f17b02,#f17b02,#f17b02,#f17b02,#f17c02,#f17e02,#f18002,#f18402,#f28902,#f29002,#f39702,#f39f02,#f2a702,#f2b002,#f1b802,#f0c102,#f0c805,#efcd09,#eed30d,#eed712,#eeda19,#eedc1d,#eedd20,#eedd20,#eedc20,#eedc1d,#eeda1a,#eed916,#eed711,#eed40e,#efd10c,#efcf0a,#efcc08,#efc906,#f0c704,#f0c503,#f0c402,#f0c302,#f0c202,#f0c202,#f0c202,#f0c202,#f0c202,#f0c202,#f0c202,#f0c302)"></i>
<i style="background:linear-gradient(90deg,#f17c02,#f17c02,#f17b02,#f17b02,#f17a03,#f17a03,#f17b02,#f17c02,#f17d02,#f18002,#f18402,#f28902,#f28f02,#f39702,#f39f02,#f2a702,#f2af02,#f1b802,#f0c002,#f0c705,#efcd09,#eed20d,#eed712,#eed918,#eedb1d,#eedc1f,#eedd20,#eedc1f,#eedb1d,#eeda1a,#eed816,#eed611,#eed40e,#efd10c,#efce0a,#efcc08,#efc906,#f0c704,#f0c503,#f0c402,#f0c302,#f0c202,#f0c202,#f0c202,#f0c202,#f0c202,#f0c202,#f0c202,#f0c202)"></i>
<i style="background:linear-gradient(90deg,#f17c02,#f17b02,#f17b02,#f17a03,#f17a03,#f17a03,#f17a03,#f17b02,#f17d02,#f18002,#f18402,#f28902,#f28f02,#f39602,#f39e02,#f2a702,#f2af02,#f1b802,#f0c002,#f0c705,#efcd09,#eed20d,#eed711,#eed918,#eedb1d,#eedc1f,#eedd20,#eedc1f,#eedb1d,#eeda1a,#eed815,#eed611,#eed40e,#efd10c,#efce0a,#efcb08,#efc906,#f0c704,#f0c503,#f0c302,#f0c202,#f0c202,#f0c202,#f0c102,#f0c102,#f0c202,#f0c202,#f0c202,#f0c202)"></i>
<i style="background:linear-gradient(90deg,#f17c02,#f17b02,#f17a03,#f17a03,#f17a03,#f17903,#f17a03,#f17b02,#f17c02,#f17f02,#f18302,#f28902,#f28f02,#f39602,#f39e02,#f2a602,#f2af02,#f1b802,#f0c002,#f0c704,#efcd09,#eed20d,#eed611,#eed918,#eedb1c,#eedc1f,#eedc20,#eedc1f,#eedb1d,#eeda19,#eed815,#eed610,#eed40e,#efd10c,#efce0a,#efcb08,#efc906,#f0c604,#f0c502,#f0c302,#f0c202,#f0c202,#f0c102,#f0c102,#f0c102,#f0c102,#f0c102,#f0c202,#f0c202)"></i>
<i style="background:linear-gradient(90deg,#f17b02,#f17b02,#f17a03,#f17a03,#f17903,#f17903,#f17a03,#f17b02,#f17c02,#f17f02,#f18302,#f28802,#f28f02,#f39602,#f39e02,#f2a602,#f2af02,#f1b702,#f0c002,#f0c704,#efcd09,#eed20d,#eed611,#eed918,#eedb1c,#eedc1f,#eedc1f,#eedc1e,#eedb1c,#eeda19,#eed815,#eed610,#eed30e,#efd10c,#efce0a,#efcb07,#efc906,#f0c604,#f0c402,#f0c302,#f0c202,#f0c102,#f0c102,#f0c102,#f0c102,#f0c102,#f0c102,#f0c102,#f0c202)"></i>
<i style="background:linear-gradient(90deg,#f17b02,#f17b02,#f17a03,#f17903,#f17903,#f17903,#f17903,#f17a03,#f17c02,#f17f02,#f18302,#f28802,#f28f02,#f39602,#f39e02,#f2a602,#f2af02,#f1b702,#f0c002,#f0c704,#efcd09,#eed20d,#eed611,#eed917,#eedb1c,#eedc1e,#eedc1f,#eedc1e,#eedb1c,#eeda19,#eed815,#eed610,#eed30e,#efd00c,#efce0a,#efcb07,#f0c805,#f0c604,#f0c402,#f0c302,#f0c202,#f0c102,#f0c102,#f0c102,#f0c102,#f0c102,#f0c102,#f0c102,#f0c102)"></i>
<i style="background:linear-gradient(90deg,#f17b02,#f17a03,#f17a03,#f17903,#f17903,#f17903,#f17903,#f17a03,#f17c02,#f17f02,#f18302,#f28802,#f28e02,#f39602,#f39d02,#f2a602,#f2ae02,#f1b702,#f0bf02,#f0c704,#efcd09,#eed20d,#eed610,#eed917,#eedb1c,#eedc1e,#eedc1f,#eedc1e,#eedb1c,#eeda19,#eed814,#eed610,#eed30e,#efd00c,#efce09,#efcb07,#f0c805,#f0c604,#f0c402,#f0c202,#f0c102,#f0c102,#f0c102,#f0c102,#f0c102,#f0c102,#f0c102,#f0c102,#f0c102)"></i>
<i style="background:linear-gradient(90deg,#f17b02,#f17a03,#f17903,#f17903,#f17903,#f17803,#f17903,#f17a03,#f17b02,#f17e02,#f18202,#f28802,#f28e02,#f39502,#f39d02,#f2a602,#f2ae02,#f1b702,#f0bf02,#f0c704,#efcd09,#eed20d,#eed610,#eed917,#eedb1c,#eedc1e,#eedc1f,#eedc1e,#eedb1c,#eeda18,#eed814,#eed610,#eed30e,#efd00c,#efcd09,#efcb07,#f0c805,#f0c603,#f0c402,#f0c202,#f0c102,#f0c102,#f0c102,#f0c002,#f0c002,#f0c102,#f0c102,#f0c102,#f0c102)"></i>
<i style="background:linear-gradient(90deg,#f17b02,#f17a03,#f17903,#f17903,#f17803,#f17803,#f17903,#f17a03,#f17b02,#f17e02,#f18202,#f28802,#f28e02,#f39502,#f39d02,#f2a602,#f2ae02,#f1b702,#f0bf02,#f0c704,#efcc09,#eed20d,#eed610,#eed917,#eedb1b,#eedc1e,#eedc1f,#eedc1e,#eedb1c,#eed918,#eed814,#eed610,#eed30e,#efd00b,#efcd09,#efcb07,#f0c805,#f0c603,#f0c402,#f0c202,#f0c102,#f0c102,#f0c002,#f0c002,#f0c002,#f0c002,#f0c102,#f0c102,#f0c102)"></i>
<i style="background:linear-gradient(90deg,#f17a03,#f17a03,#f17903,#f17903,#f17803,#f17803,#f17903,#f17903,#f17b02,#f17e02,#f18202,#f28702,#f28e02,#f39502,#f39d02,#f2a502,#f2ae02,#f1b702,#f0bf02,#f0c704,#efcc08,#eed20d,#eed610,#eed917,#eedb1b,#eedc1e,#eedc1e,#eedc1e,#eedb1b,#eed918,#eed814,#eed610,#eed30e,#efd00b,#efcd09,#efca07,#f0c805,#f0c603,#f0c402,#f0c202,#f0c102,#f0c102,#f0c002,#f0c002,#f0c002,#f0c002,#f0c002,#f0c102,#f0c102)"></i>
<i style="background:linear-gradient(90deg,#f17a03,#f17a03,#f17903,#f17803,#f17803,#f17803,#f17803,#f17903,#f17b02,#f17e02,#f18202,#f28702,#f28e02,#f39502,#f39d02,#f2a502,#f2ae02,#f1b702,#f0bf02,#f0c604,#efcc08,#eed20d,#eed610,#eed917,#eedb1b,#eedc1e,#eedc1e,#eedc1e,#eedb1b,#eed918,#eed814,#eed510,#eed30e,#efd00b,#efcd09,#efca07,#f0c805,#f0c603,#f0c402,#f0c202,#f0c102,#f0c002,#f0c002,#f0c002,#f0c002,#f0c002,#f0c002,#f0c002,#f0c102)"></i>
<i style="background:linear-gradient(90deg,#f17a03,#f17a03,#f17903,#f17803,#f17803,#f17803,#f17803,#f17903,#f17b02,#f17e02,#f18202,#f28702,#f28e02,#f39502,#f39d02,#f2a502,#f2ae02,#f1b702,#f0bf02,#f0c604,#efcc08,#efd10c,#eed610,#eed917,#eedb1b,#eedc1e,#eedc1e,#eedc1d,#eedb1b,#eed918,#eed814,#eed510,#eed30d,#efd00b,#efcd09,#efca07,#f0c805,#f0c503,#f0c402,#f0c202,#f0c102,#f0c002,#f0c002,#f0c002,#f0c002,#f0c002,#f0c002,#f0c002,#f0c102)"></i>
<i style="background:linear-gradient(90deg,#f17a03,#f17903,#f17903,#f17803,#f17803,#f17803,#f17803,#f17903,#f17b02,#f17e02,#f18202,#f28702,#f28e02,#f39502,#f39d02,#f2a502,#f2ae02,#f1b602,#f0bf02,#f0c604,#efcc08,#efd10c,#eed610,#eed917,#eedb1b,#eedc1e,#eedc1e,#eedc1d,#eedb1b,#eed918,#eed814,#eed510,#eed30d,#efd00b,#efcd09,#efca07,#f0c805,#f0c503,#f0c302,#f0c202,#f0c102,#f0c002,#f0c002,#f0c002,#f0c002,#f0c002,#f0c002,#f0c002,#f0c102)"></i>
<i style="background:linear-gradient(90deg,#f17a03,#f17903,#f17903,#f17803,#f17803,#f17803,#f17803,#f17903,#f17b02,#f17e02,#f18202,#f28702,#f28e02,#f39502,#f39d02,#f2a502,#f2ae02,#f1b602,#f0bf02,#f0c604,#efcc08,#efd10c,#eed610,#eed916,#eedb1b,#eedc1d,#eedc1e,#eedc1d,#eedb1b,#eed918,#eed814,#eed510,#eed30d,#efd00b,#efcd09,#efca07,#f0c805,#f0c503,#f0c302,#f0c202,#f0c102,#f0c002,#f0c002,#f0c002,#f0c002,#f0c002,#f0c002,#f0c002,#f0c002)"></i>
<i style="background:linear-gradient(90deg,#f17a03,#f17903,#f17903,#f17803,#f17803,#f17803,#f17803,#f17903,#f17b02,#f17e02,#f18202,#f28702,#f28e02,#f39502,#f39d02,#f2a502,#f2ae02,#f1b602,#f0bf02,#f0c604,#efcc08,#efd10c,#eed610,#eed916,#eedb1b,#eedc1d,#eedc1e,#eedc1d,#eedb1b,#eed918,#eed714,#eed50f,#eed30d,#efd00b,#efcd09,#efca07,#f0c805,#f0c503,#f0c302,#f0c202,#f0c102,#f0c002,#f0c002,#f0c002,#f0c002,#f0c002,#f0c002,#f0c002,#f0c002)"></i>
<i style="background:linear-gradient(90deg,#f17a03,#f17903,#f17903,#f17803,#f17803,#f17803,#f17803,#f17903,#f17b02,#f17e02,#f18202,#f28702,#f28e02,#f39502,#f39d02,#f2a502,#f2ae02,#f1b602,#f0bf02,#f0c604,#efcc08,#efd10c,#eed610,#eed916,#eedb1b,#eedc1d,#eedc1e,#eedc1d,#eedb1b,#eed918,#eed714,#eed50f,#eed30d,#efd00b,#efcd09,#efca07,#f0c805,#f0c503,#f0c302,#f0c202,#f0c102,#f0c002,#f0c002,#f0c002,#f0c002,#f0c002,#f0c002,#f0c002,#f0c002)"></i>
<i style="background:linear-gradient(90deg,#f17a03,#f17903,#f17903,#f17803,#f17803,#f17803,#f17803,#f17903,#f17b02,#f17e02,#f18202,#f28702,#f28e02,#f39502,#f39d02,#f2a502,#f2ae02,#f1b602,#f0bf02,#f0c604,#efcc08,#efd10c,#eed610,#eed916,#eedb1b,#eedc1d,#eedc1e,#eedc1d,#eedb1b,#eed918,#eed714,#eed50f,#eed30d,#efd00b,#efcd09,#efca07,#f0c805,#f0c503,#f0c302,#f0c202,#f0c102,#f0c002,#f0c002,#f0c002,#f0c002,#f0c002,#f0c002,#f0c002,#f0c002)"></i>
<i style="background:linear-gradient(90deg,#f17a03,#f17903,#f17903,#f17803,#f17803,#f17803,#f17803,#f17903,#f17b02,#f17e02,#f18202,#f28702,#f28e02,#f39502,#f39d02,#f2a502,#f2ae02,#f1b602,#f0bf02,#f0c604,#efcc08,#efd10c,#eed610,#eed916,#eedb1b,#eedc1d,#eedc1e,#eedc1d,#eedb1b,#eed918,#eed714,#eed50f,#eed30d,#efd00b,#efcd09,#efca07,#f0c805,#f0c503,#f0c302,#f0c202,#f0c102,#f0c002,#f0c002,#f0c002,#f0c002,#f0c002,#f0c002,#f0c002,#f0c002)"></i>
<i style="background:linear-gradient(90deg,#f17a03,#f17903,#f17903,#f17803,#f17803,#f17803,#f17803,#f17903,#f17b02,#f17e02,#f18202,#f28702,#f28e02,#f39502,#f39d02,#f2a502,#f2ae02,#f1b602,#f0bf02,#f0c604,#efcc08,#efd10c,#eed610,#eed916,#eedb1b,#eedc1d,#eedc1e,#eedc1d,#eedb1b,#eed918,#eed714,#eed50f,#eed30d,#efd00b,#efcd09,#efca07,#f0c805,#f0c503,#f0c302,#f0c202,#f0c102,#f0c002,#f0c002,#f0c002,#f0c002,#f0c002,#f0c002,#f0c002,#f0c002)"></i>
<i style="background:linear-gradient(90deg,#f17a03,#f17903,#f17903,#f17803,#f17803,#f17803,#f17803,#f17903,#f17b02,#f17e02,#f18202,#f28702,#f28e02,#f39502,#f39d02,#f2a502,#f2ae02,#f1b602,#f0bf02,#f0c604,#efcc08,#efd10c,#eed610,#eed916,#eedb1b,#eedc1e,#eedc1e,#eedc1d,#eedb1b,#eed918,#eed814,#eed510,#eed30d,#efd00b,#efcd09,#efca07,#f0c805,#f0c503,#f0c302,#f0c202,#f0c102,#f0c002,#f0c002,#f0c002,#f0c002,#f0c002,#f0c002,#f0c002,#f0c002)"></i>
<i style="background:linear-gradient(90deg,#f17a03,#f17903,#f17903,#f17803,#f17803,#f17803,#f17803,#f17903,#f17b02,#f17e02,#f18202,#f28702,#f28e02,#f39502,#f39d02,#f2a502,#f2ae02,#f1b702,#f0bf02,#f0c604,#efcc08,#efd10c,#eed610,#eed917,#eedb1b,#eedc1e,#eedc1e,#eedc1d,#eedb1b,#eed918,#eed814,#eed510,#eed30d,#efd00b,#efcd09,#efca07,#f0c805,#f0c503,#f0c302,#f0c202,#f0c102,#f0c002,#f0c002,#f0c002,#f0c002,#f0c002,#f0c002,#f0c002,#f0c102)"></i>
<i style="background:linear-gradient(90deg,#f17a03,#f17a03,#f17903,#f17803,#f17803,#f17803,#f17803,#f17903,#f17b02,#f17e02,#f18202,#f28702,#f28e02,#f39502,#f39d02,#f2a502,#f2ae02,#f1b702,#f0bf02,#f0c604,#efcc08,#efd10c,#eed610,#eed917,#eedb1b,#eedc1e,#eedc1e,#eedc1d,#eedb1b,#eed918,#eed814,#eed510,#eed30d,#efd00b,#efcd09,#efca07,#f0c805,#f0c603,#f0c402,#f0c202,#f0c102,#f0c002,#f0c002,#f0c002,#f0c002,#f0c002,#f0c002,#f0c002,#f0c102)"></i>
<i style="background:linear-gradient(90deg,#f17a03,#f17a03,#f17903,#f17803,#f17803,#f17803,#f17803,#f17903,#f17b02,#f17e02,#f18202,#f28702,#f28e02,#f39502,#f39d02,#f2a502,#f2ae02,#f1b702,#f0bf02,#f0c604,#efcc08,#eed20d,#eed610,#eed917,#eedb1b,#eedc1e,#eedc1e,#eedc1e,#eedb1b,#eed918,#eed814,#eed510,#eed30e,#efd00b,#efcd09,#efca07,#f0c805,#f0c603,#f0c402,#f0c202,#f0c102,#f0c002,#f0c002,#f0c002,#f0c002,#f0c002,#f0c002,#f0c002,#f0c102)"></i>
<i style="background:linear-gradient(90deg,#f17a03,#f17a03,#f17903,#f17903,#f17803,#f17803,#f17803,#f17903,#f17b02,#f17e02,#f18202,#f28702,#f28e02,#f39502,#f39d02,#f2a502,#f2ae02,#f1b702,#f0bf02,#f0c704,#efcc08,#eed20d,#eed610,#eed917,#eedb1b,#eedc1e,#eedc1e,#eedc1e,#eedb1b,#eed918,#eed814,#eed610,#eed30e,#efd00b,#efcd09,#efca07,#f0c805,#f0c603,#f0c402,#f0c202,#f0c102,#f0c002,#f0c002,#f0c002,#f0c002,#f0c002,#f0c002,#f0c102,#f0c102)"></i>
<i style="background:linear-gradient(90deg,#f17a03,#f17a03,#f17903,#f17903,#f17803,#f17803,#f17903,#f17a03,#f17b02,#f17e02,#f18202,#f28802,#f28e02,#f39502,#f39d02,#f2a602,#f2ae02,#f1b702,#f0bf02,#f0c704,#efcc09,#eed20d,#eed610,#eed917,#eedb1b,#eedc1e,#eedc1f,#eedc1e,#eedb1c,#eed918,#eed814,#eed610,#eed30e,#efd00b,#efcd09,#efcb07,#f0c805,#f0c603,#f0c402,#f0c202,#f0c102,#f0c102,#f0c002,#f0c002,#f0c002,#f0c002,#f0c002,#f0c102,#f0c102)"></i>
<i style="background:linear-gradient(90deg,#f17b02,#f17a03,#f17903,#f17903,#f17803,#f17803,#f17903,#f17a03,#f17b02,#f17e02,#f18202,#f28802,#f28e02,#f39502,#f39d02,#f2a602,#f2ae02,#f1b702,#f0bf02,#f0c704,#efcc09,#eed20d,#eed610,#eed917,#eedb1c,#eedc1e,#eedc1f,#eedc1e,#eedb1c,#eed918,#eed814,#eed610,#eed30e,#efd00b,#efcd09,#efcb07,#f0c805,#f0c603,#f0c402,#f0c202,#f0c102,#f0c102,#f0c002,#f0c002,#f0c002,#f0c002,#f0c102,#f0c102,#f0c102)"></i>
<i style="background:linear-gradient(90deg,#f17b02,#f17a03,#f17903,#f17903,#f17903,#f17803,#f17903,#f17a03,#f17b02,#f17e02,#f18202,#f28802,#f28e02,#f39502,#f39d02,#f2a602,#f2ae02,#f1b702,#f0bf02,#f0c704,#efcd09,#eed20d,#eed610,#eed917,#eedb1c,#eedc1e,#eedc1f,#eedc1e,#eedb1c,#eeda18,#eed814,#eed610,#eed30e,#efd00c,#efcd09,#efcb07,#f0c805,#f0c603,#f0c402,#f0c202,#f0c102,#f0c102,#f0c102,#f0c002,#f0c002,#f0c102,#f0c102,#f0c102,#f0c102)"></i>
<i style="background:linear-gradient(90deg,#f17b02,#f17a03,#f17a03,#f17903,#f17903,#f17903,#f17903,#f17a03,#f17c02,#f17f02,#f18302,#f28802,#f28e02,#f39602,#f39d02,#f2a602,#f2ae02,#f1b702,#f0bf02,#f0c704,#efcd09,#eed20d,#eed610,#eed917,#eedb1c,#eedc1e,#eedc1f,#eedc1e,#eedb1c,#eeda19,#eed814,#eed610,#eed30e,#efd00c,#efce09,#efcb07,#f0c805,#f0c604,#f0c402,#f0c202,#f0c102,#f0c102,#f0c102,#f0c102,#f0c102,#f0c102,#f0c102,#f0c102,#f0c102)"></i>
<i style="background:linear-gradient(90deg,#f17b02,#f17a03,#f17a03,#f17903,#f17903,#f17903,#f17903,#f17a03,#f17c02,#f17f02,#f18302,#f28802,#f28e02,#f39602,#f39e02,#f2a602,#f2ae02,#f1b702,#f0c002,#f0c704,#efcd09,#eed20d,#eed610,#eed917,#eedb1c,#eedc1e,#eedc1f,#eedc1e,#eedb1c,#eeda19,#eed815,#eed610,#eed30e,#efd00c,#efce09,#efcb07,#f0c805,#f0c604,#f0c402,#f0c202,#f0c102,#f0c102,#f0c102,#f0c102,#f0c102,#f0c102,#f0c102,#f0c102,#f0c102)"></i>
<i style="background:linear-gradient(90deg,#f17b02,#f17b02,#f17a03,#f17903,#f17903,#f17903,#f17903,#f17a03,#f17c02,#f17f02,#f18302,#f28802,#f28f02,#f39602,#f39e02,#f2a602,#f2af02,#f1b702,#f0c002,#f0c704,#efcd09,#eed20d,#eed611,#eed917,#eedb1c,#eedc1e,#eedc1f,#eedc1e,#eedb1c,#eeda19,#eed815,#eed610,#eed30e,#efd00c,#efce0a,#efcb07,#f0c805,#f0c604,#f0c402,#f0c302,#f0c202,#f0c102,#f0c102,#f0c102,#f0c102,#f0c102,#f0c102,#f0c102,#f0c102)"></i>
<i style="background:linear-gradient(90deg,#f17b02,#f17b02,#f17a03,#f17a03,#f17903,#f17903,#f17a03,#f17a03,#f17c02,#f17f02,#f18302,#f28802,#f28f02,#f39602,#f39e02,#f2a602,#f2af02,#f1b702,#f0c002,#f0c704,#efcd09,#eed20d,#eed611,#eed918,#eedb1c,#eedc1f,#eedc1f,#eedc1e,#eedb1c,#eeda19,#eed815,#eed610,#eed30e,#efd10c,#efce0a,#efcb07,#f0c805,#f0c604,#f0c402,#f0c302,#f0c202,#f0c102,#f0c102,#f0c102,#f0c102,#f0c102,#f0c102,#f0c102,#f0c202)"></i>
<i style="background:linear-gradient(90deg,#f17c02,#f17b02,#f17a03,#f17a03,#f17903,#f17903,#f17a03,#f17b02,#f17c02,#f17f02,#f18302,#f28802,#f28f02,#f39602,#f39e02,#f2a602,#f2af02,#f1b702,#f0c002,#f0c704,#efcd09,#eed20d,#eed611,#eed918,#eedb1c,#eedc1f,#eedc1f,#eedc1f,#eedb1c,#eeda19,#eed815,#eed610,#eed30e,#efd10c,#efce0a,#efcb08,#efc906,#f0c604,#f0c402,#f0c302,#f0c202,#f0c102,#f0c102,#f0c102,#f0c102,#f0c102,#f0c102,#f0c202,#f0c202)"></i>
<i style="background:linear-gradient(90deg,#f17c02,#f17b02,#f17a03,#f17a03,#f17a03,#f17903,#f17a03,#f17b02,#f17c02,#f17f02,#f18302,#f28902,#f28f02,#f39602,#f39e02,#f2a602,#f2af02,#f1b802,#f0c002,#f0c704,#efcd09,#eed20d,#eed611,#eed918,#eedb1c,#eedc1f,#eedc20,#eedc1f,#eedb1d,#eeda19,#eed815,#eed610,#eed40e,#efd10c,#efce0a,#efcb08,#efc906,#f0c604,#f0c502,#f0c302,#f0c202,#f0c202,#f0c102,#f0c102,#f0c102,#f0c102,#f0c102,#f0c202,#f0c202)"></i>
<i style="background:linear-gradient(90deg,#f17c02,#f17b02,#f17b02,#f17a03,#f17a03,#f17a03,#f17a03,#f17b02,#f17d02,#f17f02,#f18302,#f28902,#f28f02,#f39602,#f39e02,#f2a602,#f2af02,#f1b802,#f0c002,#f0c704,#efcd09,#eed20d,#eed611,#eed918,#eedb1d,#eedc1f,#eedd20,#eedc1f,#eedb1d,#eeda19,#eed815,#eed610,#eed40e,#efd10c,#efce0a,#efcb08,#efc906,#f0c704,#f0c503,#f0c302,#f0c202,#f0c202,#f0c202,#f0c102,#f0c102,#f0c202,#f0c202,#f0c202,#f0c202)"></i>
<i style="background:linear-gradient(90deg,#f17c02,#f17b02,#f17b02,#f17a03,#f17a03,#f17a03,#f17a03,#f17b02,#f17d02,#f18002,#f18402,#f28902,#f28f02,#f39602,#f39e02,#f2a702,#f2af02,#f1b802,#f0c002,#f0c705,#efcd09,#eed20d,#eed711,#eed918,#eedb1d,#eedc1f,#eedd20,#eedc1f,#eedb1d,#eeda1a,#eed815,#eed611,#eed40e,#efd10c,#efce0a,#efcb08,#efc906,#f0c704,#f0c503,#f0c302,#f0c202,#f0c202,#f0c202,#f0c202,#f0c202,#f0c202,#f0c202,#f0c202,#f0c202)"></i>
<i style="background:linear-gradient(90deg,#f17c02,#f17c02,#f17b02,#f17a03,#f17a03,#f17a03,#f17a03,#f17b02,#f17d02,#f18002,#f18402,#f28902,#f28f02,#f39702,#f39e02,#f2a702,#f2af02,#f1b802,#f0c002,#f0c705,#efcd09,#eed20d,#eed711,#eed918,#eedb1d,#eedc1f,#eedd20,#eedc1f,#eedb1d,#eeda1a,#eed816,#eed611,#eed40e,#efd10c,#efce0a,#efcb08,#efc906,#f0c704,#f0c503,#f0c402,#f0c302,#f0c202,#f0c202,#f0c202,#f0c202,#f0c202,#f0c202,#f0c202,#f0c302)"></i>
<i style="background:linear-gradient(90deg,#f17c02,#f17c02,#f17b02,#f17b02,#f17a03,#f17a03,#f17b02,#f17b02,#f17d02,#f18002,#f18402,#f28902,#f28f02,#f39702,#f39f02,#f2a702,#f2af02,#f1b802,#f0c002,#f0c705,#efcd09,#eed20d,#eed712,#eed918,#eedb1d,#eedc1f,#eedd20,#eedc1f,#eedb1d,#eeda1a,#eed816,#eed611,#eed40e,#efd10c,#efce0a,#efcc08,#efc906,#f0c704,#f0c503,#f0c402,#f0c302,#f0c302,#f0c202,#f0c202,#f0c202,#f0c202,#f0c302,#f0c302,#f0c302)"></i>
<i style="background:linear-gradient(90deg,#f17d02,#f17c02,#f17b02,#f17b02,#f17a03,#f17a03,#f17b02,#f17c02,#f17d02,#f18002,#f18402,#f28902,#f29002,#f39702,#f39f02,#f2a702,#f2b002,#f1b802,#f0c002,#f0c805,#efcd09,#eed20d,#eed712,#eeda18,#eedb1d,#eedc1f,#eedd20,#eedc1f,#eedc1d,#eeda1a,#eed816,#eed611,#eed40e,#efd10c,#efce0a,#efcc08,#efc906,#f0c704,#f0c503,#f0c402,#f0c402,#f0c302,#f0c302,#f0c302,#f0c302,#f0c302,#f0c302,#f0c302,#f0c302)"></i>
<i style="background:linear-gradient(90deg,#f17d02,#f17c02,#f17b02,#f17b02,#f17b02,#f17b02,#f17b02,#f17c02,#f17d02,#f18002,#f18402,#f28902,#f29002,#f39702,#f39f02,#f2a702,#f2b002,#f1b802,#f0c102,#f0c805,#efcd09,#eed30d,#eed712,#eeda19,#eedb1d,#eedd20,#eedd20,#eedc20,#eedc1d,#eeda1a,#eed916,#eed711,#eed40e,#efd10c,#efce0a,#efcc08,#efc906,#f0c704,#f0c503,#f0c402,#f0c402,#f0c402,#f0c402,#f0c302,#f0c302,#f0c402,#f0c402,#f0c402,#f0c402)"></i>
<i style="background:linear-gradient(90deg,#f17d02,#f17c02,#f17c02,#f17b02,#f17b02,#f17b02,#f17b02,#f17c02,#f17e02,#f18002,#f18402,#f28a02,#f29002,#f39702,#f39f02,#f2a702,#f2b002,#f1b802,#f0c102,#f0c805,#efcd09,#eed30d,#eed712,#eeda19,#eedc1d,#eedd20,#eedd20,#eedd20,#eedc1e,#eeda1a,#eed916,#eed711,#eed40f,#efd10c,#efcf0a,#efcc08,#efc906,#f0c704,#f0c503,#f0c503,#f0c502,#f0c402,#f0c402,#f0c402,#f0c402,#f0c402,#f0c402,#f0c402,#f0c402)"></i>
<i style="background:linear-gradient(90deg,#f17d02,#f17c02,#f17c02,#f17b02,#f17b02,#f17b02,#f17b02,#f17c02,#f17e02,#f18002,#f18402,#f28a02,#f29002,#f39702,#f39f02,#f2a702,#f2b002,#f1b802,#f0c102,#f0c805,#efce09,#eed30d,#eed712,#eeda19,#eedc1d,#eedd20,#eedd21,#eedd20,#eedc1e,#eeda1a,#eed916,#eed712,#eed40f,#efd10c,#efcf0a,#efcc08,#efc906,#f0c704,#f0c603,#f0c503,#f0c503,#f0c503,#f0c502,#f0c402,#f0c402,#f0c502,#f0c503,#f0c503,#f0c503)"></i>
<i style="background:linear-gradient(90deg,#f17d02,#f17d02,#f17c02,#f17b02,#f17b02,#f17b02,#f17b02,#f17c02,#f17e02,#f18102,#f18502,#f28a02,#f29002,#f39702,#f39f02,#f2a702,#f2b002,#f1b802,#f0c102,#f0c805,#efce09,#eed30d,#eed712,#eeda19,#eedc1e,#eedd20,#eedd21,#eedd20,#eedc1e,#eeda1b,#eed916,#eed712,#eed40f,#eed20d,#efcf0a,#efcc08,#efca06,#f0c705,#f0c603,#f0c503,#f0c503,#f0c503,#f0c503,#f0c503,#f0c503,#f0c503,#f0c503,#f0c503,#f0c503)"></i>
</div>
<svg id="plotsvg" viewBox="0 0 478 268">
<path d="M159.300 0V268M318.700 0V268M0 89.300H478M0 178.700H478" fill="none" stroke="rgba(150,150,140,.42)" stroke-width="1.15"/>
<path d="M477.8 106.8L476.8 106.7L475.2 106.7L473.8 106.7L472.2 106.6L470.8 106.6L469.2 106.5L467.8 106.5L466.2 106.4L464.8 106.4L463.2 106.3L461.8 106.3L460.8 106.2L459.2 106.2L457.8 106.1L456.2 106.1L454.8 106.1L453.2 106.0L451.8 106.0L450.2 105.9L448.8 105.9L447.2 105.9L445.8 105.8L444.2 105.8L442.8 105.8L441.8 105.7L440.2 105.7L438.8 105.7L437.2 105.7L435.8 105.7L434.2 105.7L432.8 105.7L431.2 105.7L429.8 105.7L428.2 105.7L426.8 105.7L425.2 105.7L423.8 105.7L422.5 105.8L421.2 105.8L419.8 105.8L418.2 105.9L416.8 105.9L415.2 106.0L413.8 106.0L412.2 106.1L410.8 106.2L409.5 106.2L408.2 106.3L406.8 106.4L405.2 106.5L403.8 106.6L402.4 106.8L401.2 106.8L399.8 107.0L398.2 107.1L397.1 107.2L395.8 107.4L394.2 107.6L393.2 107.8L391.8 108.0L390.2 108.2L389.2 108.4L387.8 108.7L386.8 108.9L385.2 109.2L384.2 109.4L382.8 109.8L381.8 110.0L380.8 110.3L379.2 110.7L378.2 111.0L377.2 111.2L375.8 111.7L374.8 112.0L373.8 112.4L372.6 112.8L371.2 113.2L370.2 113.6L369.2 114.0L368.2 114.4L367.2 114.9L366.2 115.3L365.2 115.8L364.2 116.3L363.2 116.9L362.2 117.5L361.2 118.1L360.3 118.8L359.7 119.2L358.8 120.1L358.2 120.8L357.5 121.8L357.1 122.8L357.1 124.2L357.6 125.2L358.2 126.0L359.1 126.8L359.9 127.2L360.8 127.8L361.8 128.2L363.0 128.8L364.2 129.2L365.2 129.5L366.2 129.8L367.8 130.2L368.8 130.4L370.1 130.8L371.2 131.0L372.6 131.2L373.8 131.5L375.2 131.7L376.2 131.9L377.8 132.1L378.8 132.2L380.2 132.4L381.8 132.6L382.9 132.8L384.2 132.9L385.8 133.1L387.2 133.2L388.2 133.3L389.8 133.4L391.2 133.5L392.8 133.6L394.2 133.8L395.2 133.8L396.8 133.9L398.2 134.0L399.8 134.1L401.2 134.1L402.8 134.2L403.8 134.3L405.2 134.3L406.8 134.4L408.2 134.4L409.8 134.5L411.2 134.5L412.8 134.5L414.2 134.6L415.8 134.6L417.2 134.6L418.8 134.7L420.2 134.7L421.8 134.7L423.2 134.7L424.8 134.7L426.2 134.7L427.4 134.8L428.8 134.8L430.2 134.8L431.8 134.8L433.2 134.8L434.8 134.8L436.2 134.8L437.2 134.7L438.8 134.7L440.2 134.7L441.8 134.7L443.2 134.7L444.8 134.7L446.2 134.7L447.8 134.7L449.2 134.6L450.8 134.6L452.2 134.6L453.8 134.6L455.2 134.6L456.8 134.5L458.2 134.5L459.8 134.5L461.2 134.5L462.8 134.4L464.2 134.4L465.8 134.4L467.2 134.4L468.8 134.3L470.2 134.3L471.8 134.3L473.2 134.3L474.2 134.2L475.8 134.2L477.2 134.2L477.8 134.2 M477.8 73.0L476.2 72.9L474.8 72.9L473.2 72.8L471.8 72.8L470.2 72.8L469.2 72.7L467.8 72.7L466.2 72.7L464.8 72.6L463.2 72.6L461.8 72.5L460.2 72.5L458.8 72.5L457.2 72.4L455.8 72.4L454.2 72.4L452.8 72.3L451.2 72.3L449.8 72.3L448.8 72.2L447.2 72.2L445.8 72.2L444.2 72.2L442.8 72.1L441.2 72.1L439.8 72.1L438.2 72.1L436.8 72.1L435.2 72.1L433.8 72.1L432.2 72.1L430.8 72.1L429.2 72.1L427.8 72.1L426.2 72.1L424.8 72.1L423.2 72.1L421.8 72.1L420.2 72.2L418.8 72.2L417.2 72.2L416.2 72.3L414.8 72.3L413.2 72.4L411.8 72.4L410.2 72.5L408.8 72.6L407.2 72.6L405.8 72.7L404.8 72.8L403.2 72.9L401.8 73.0L400.2 73.1L398.8 73.2L397.8 73.3L396.2 73.4L394.8 73.6L393.2 73.7L392.2 73.8L390.8 74.0L389.3 74.2L388.2 74.4L386.8 74.6L385.8 74.8L384.2 75.1L383.2 75.3L381.8 75.5L380.7 75.8L379.2 76.0L378.2 76.3L376.8 76.6L375.8 76.8L374.2 77.1L373.2 77.4L371.8 77.7L370.8 78.0L369.6 78.2L368.2 78.6L367.2 78.8L365.8 79.2L364.8 79.5L363.8 79.8L362.2 80.2L361.2 80.4L360.1 80.8L358.8 81.1L357.8 81.4L356.5 81.8L355.2 82.1L354.2 82.4L353.0 82.8L351.8 83.1L350.8 83.4L349.6 83.8L348.2 84.1L347.2 84.4L346.2 84.8L344.8 85.2L343.8 85.5L342.8 85.8L341.2 86.2L340.2 86.5L339.2 86.8L337.8 87.2L336.8 87.6L335.8 87.9L334.4 88.2L333.2 88.6L332.2 88.9L331.1 89.2L329.8 89.7L328.8 90.0L327.8 90.3L326.2 90.7L325.2 91.0L324.2 91.3L322.8 91.7L321.8 92.0L320.8 92.3L319.3 92.8L318.2 93.1L317.2 93.4L315.9 93.8L314.8 94.1L313.8 94.4L312.5 94.8L311.2 95.1L310.2 95.4L309.0 95.8L307.8 96.1L306.8 96.4L305.5 96.8L304.2 97.1L303.2 97.4L302.0 97.8L300.8 98.1L299.8 98.4L298.4 98.8L297.2 99.1L296.2 99.3L294.8 99.7L293.8 100.0L292.8 100.3L291.2 100.7L290.2 101.0L289.2 101.2L287.8 101.6L286.8 101.9L285.4 102.2L284.2 102.6L283.2 102.8L281.8 103.2L280.8 103.5L279.6 103.8L278.2 104.1L277.2 104.4L275.8 104.7L274.8 105.0L273.7 105.2L272.2 105.6L271.2 105.9L269.8 106.2L268.8 106.5L267.7 106.8L266.2 107.1L265.2 107.4L263.8 107.7L262.8 108.0L261.7 108.2L260.2 108.6L259.2 108.9L257.8 109.2L256.8 109.5L255.7 109.8L254.2 110.1L253.2 110.4L251.8 110.8L250.8 111.0L249.8 111.3L248.2 111.7L247.2 112.0L246.2 112.2L244.8 112.7L243.8 113.0L242.8 113.3L241.2 113.7L240.2 114.0L239.2 114.4L238.1 114.8L236.8 115.2L235.8 115.6L234.8 116.0L233.8 116.4L232.8 116.8L231.8 117.3L230.8 117.8L229.8 118.4L228.8 119.0L227.8 119.7L226.9 120.2L226.2 120.8L225.3 121.8L224.8 122.3L224.0 123.2L223.5 124.2L223.0 125.2L222.8 126.5L222.7 127.8L222.8 128.8L223.2 130.2L223.6 131.2L224.1 132.2L224.7 133.2L225.2 133.9L225.9 134.8L226.8 135.6L227.4 136.2L228.2 137.0L229.2 137.8L229.9 138.2L230.8 138.8L231.8 139.5L232.8 140.1L233.8 140.7L234.8 141.2L235.8 141.7L236.8 142.2L237.8 142.7L238.8 143.1L239.8 143.5L240.8 143.9L241.8 144.3L243.1 144.8L244.2 145.1L245.2 145.5L246.2 145.8L247.8 146.2L248.8 146.5L249.8 146.8L251.2 147.2L252.2 147.4L253.7 147.8L254.8 148.0L255.9 148.2L257.2 148.5L258.4 148.8L259.8 149.0L261.0 149.2L262.2 149.5L263.8 149.7L264.8 149.9L266.2 150.1L267.2 150.3L268.8 150.5L270.2 150.7L271.2 150.8L272.8 151.0L274.2 151.2L275.2 151.3L276.8 151.4L278.2 151.6L279.8 151.7L280.8 151.8L282.2 152.0L283.8 152.1L285.2 152.2L286.2 152.3L287.8 152.4L289.2 152.5L290.8 152.6L292.2 152.7L293.2 152.8L294.8 152.9L296.2 152.9L297.8 153.0L299.2 153.1L300.8 153.2L302.2 153.2L303.2 153.3L304.8 153.3L306.2 153.4L307.8 153.4L309.2 153.5L310.8 153.5L312.2 153.6L313.8 153.6L315.2 153.7L316.8 153.7L318.2 153.7L319.8 153.7L320.8 153.8L322.2 153.8L323.8 153.8L325.2 153.8L326.8 153.8L328.2 153.9L329.8 153.9L331.2 153.9L332.8 153.9L334.2 153.9L335.8 153.9L337.2 153.9L338.8 153.9L340.2 153.9L341.8 153.9L343.2 153.9L344.8 153.9L346.2 154.0L347.8 154.0L349.2 154.0L350.8 154.0L352.2 154.0L353.8 154.0L355.2 154.0L356.8 153.9L358.2 153.9L359.8 153.9L361.2 153.9L362.8 153.9L364.2 153.9L365.8 153.9L367.2 153.9L368.8 153.9L370.2 153.9L371.8 153.9L373.2 153.9L374.8 153.9L376.2 153.9L377.8 153.9L379.2 153.9L380.8 153.9L382.2 153.9L383.8 153.9L385.2 153.9L386.8 153.9L388.2 153.9L389.8 154.0L391.2 154.0L392.8 154.0L394.2 154.0L395.8 154.0L397.2 154.0L398.8 154.0L400.2 154.0L401.8 154.0L403.2 154.0L404.8 154.0L406.2 154.1L407.8 154.1L409.2 154.1L410.8 154.1L412.2 154.1L413.8 154.1L415.2 154.1L416.8 154.1L418.2 154.1L419.8 154.1L421.2 154.1L422.8 154.1L424.2 154.1L425.8 154.1L427.2 154.1L428.8 154.1L430.2 154.1L431.8 154.1L433.2 154.1L434.8 154.1L436.2 154.1L437.8 154.1L439.2 154.1L440.8 154.1L442.2 154.1L443.8 154.1L445.2 154.1L446.8 154.1L448.2 154.1L449.8 154.1L451.2 154.1L452.8 154.1L454.2 154.1L455.8 154.1L457.2 154.1L458.8 154.1L460.2 154.1L461.8 154.1L463.2 154.1L464.8 154.1L466.2 154.1L467.8 154.1L469.2 154.0L470.8 154.0L472.2 154.0L473.8 154.0L475.2 154.0L476.8 154.0L477.8 154.0 M352.5 0.2L352.6 1.8L352.8 2.8L353.0 4.2L353.2 5.8L353.3 6.8L353.6 8.2L353.8 9.6L353.9 10.8L354.1 12.2L354.2 13.3L354.4 14.8L354.6 16.2L354.8 17.7L354.8 18.8L355.0 20.2L355.1 21.8L355.1 23.2L355.2 24.8L355.2 26.2L355.2 27.8L355.1 29.2L355.0 30.8L354.8 32.2L354.7 33.2L354.5 34.8L354.2 36.1L354.0 37.2L353.8 38.3L353.4 39.8L353.1 40.8L352.7 41.8L352.2 43.1L351.8 44.2L351.3 45.2L350.8 46.2L350.2 47.0L349.7 47.8L348.9 48.8L348.2 49.4L347.4 50.2L346.8 50.8L345.8 51.7L345.1 52.2L344.2 52.9L343.2 53.6L342.4 54.2L341.6 54.8L340.8 55.3L339.8 56.0L338.8 56.6L337.8 57.2L336.8 57.8L335.9 58.2L335.0 58.8L334.1 59.2L333.2 59.8L332.2 60.2L331.2 60.8L330.2 61.2L329.2 61.8L328.2 62.2L327.1 62.8L326.0 63.2L324.9 63.8L323.8 64.2L322.8 64.7L321.8 65.2L320.8 65.6L319.8 66.0L318.8 66.4L317.8 66.8L316.7 67.2L315.4 67.8L314.2 68.2L313.2 68.6L312.2 69.0L311.2 69.3L310.1 69.8L308.8 70.2L307.8 70.6L306.8 71.0L305.8 71.3L304.5 71.8L303.2 72.2L302.2 72.5L301.2 72.8L299.9 73.2L298.8 73.6L297.8 73.9L296.7 74.2L295.2 74.7L294.2 75.0L293.2 75.3L291.8 75.7L290.8 76.0L289.8 76.3L288.2 76.7L287.2 77.0L286.2 77.2L284.8 77.6L283.8 77.9L282.3 78.2L281.2 78.5L280.2 78.8L278.8 79.1L277.8 79.3L276.2 79.7L275.2 79.9L273.8 80.2L272.8 80.5L271.3 80.8L270.2 81.0L268.9 81.2L267.8 81.5L266.3 81.8L265.2 81.9L263.8 82.2L262.8 82.4L261.2 82.6L260.2 82.8L258.8 83.0L257.4 83.2L256.2 83.4L254.8 83.6L253.8 83.8L252.2 84.0L250.8 84.2L249.8 84.3L248.2 84.4L246.8 84.6L245.3 84.8L244.2 84.9L242.8 85.0L241.2 85.1L239.8 85.2L238.8 85.3L237.2 85.4L235.8 85.4L234.2 85.5L232.8 85.6L231.2 85.6L229.8 85.7L228.2 85.7L226.8 85.7L225.8 85.8L224.2 85.8L222.8 85.8L221.2 85.8L219.8 85.8L218.8 85.7L217.2 85.7L215.8 85.7L214.2 85.6L212.8 85.6L211.2 85.5L209.8 85.4L208.2 85.3L207.0 85.2L205.8 85.2L204.2 85.0L202.8 84.9L201.2 84.8L200.2 84.7L198.8 84.5L197.2 84.4L196.2 84.2L194.8 84.1L193.2 83.8L192.2 83.7L190.8 83.5L189.3 83.2L188.2 83.1L186.8 82.8L185.8 82.6L184.2 82.3L183.2 82.1L181.8 81.8L180.8 81.6L179.5 81.2L178.2 80.9L177.2 80.7L175.8 80.3L174.8 80.0L173.8 79.7L172.4 79.2L171.2 78.9L170.2 78.5L169.2 78.2L168.1 77.8L166.8 77.2L165.8 76.8L164.8 76.4L163.8 75.9L162.8 75.5L161.8 75.0L160.8 74.5L159.8 74.0L158.8 73.4L157.8 72.9L156.8 72.3L155.9 71.8L155.1 71.2L154.2 70.7L153.2 70.0L152.2 69.3L151.6 68.8L150.8 68.1L149.8 67.3L149.1 66.8L148.2 65.9L147.5 65.2L146.8 64.5L146.1 63.8L145.2 62.9L144.7 62.2L143.9 61.2L143.2 60.4L142.8 59.7L142.1 58.8L141.5 57.8L140.9 56.8L140.3 55.8L139.8 54.8L139.4 53.8L139.0 52.8L138.6 51.8L138.2 50.4L138.0 49.2L137.8 48.2L137.6 46.8L137.4 45.2L137.4 43.8L137.4 42.2L137.4 40.8L137.4 39.2L137.4 37.8L137.4 36.2L137.4 34.8L137.4 33.2L137.4 31.8L137.4 30.2L137.4 28.8L137.4 27.2L137.4 25.8L137.4 24.2L137.4 22.8L137.4 21.2L137.4 19.8L137.4 18.2L137.4 16.8L137.4 15.2L137.4 13.8L137.4 12.2L137.4 10.8L137.4 9.2L137.4 7.8L137.4 6.2L137.4 4.8L137.4 3.2L137.4 1.8L137.4 0.2 M0.2 122.6L1.8 122.6L3.2 122.5L4.8 122.5L6.2 122.5L7.8 122.4L9.2 122.4L10.8 122.4L12.2 122.4L13.8 122.3L15.2 122.3L16.8 122.3L17.8 122.2L19.2 122.2L20.8 122.2L22.2 122.1L23.8 122.1L25.2 122.1L26.8 122.1L28.2 122.0L29.8 122.0L31.2 122.0L32.8 122.0L34.2 121.9L35.8 121.9L37.2 121.9L38.8 121.9L40.2 121.9L41.8 121.9L43.2 121.9L44.8 121.9L46.2 121.9L47.8 121.9L49.2 121.9L50.8 121.9L52.2 121.9L53.8 121.9L55.2 121.9L56.8 121.9L58.2 122.0L59.8 122.0L61.2 122.0L62.8 122.1L64.2 122.1L65.8 122.2L67.2 122.2L68.4 122.2L69.8 122.3L71.2 122.4L72.8 122.4L74.2 122.5L75.8 122.6L77.2 122.7L78.5 122.8L79.8 122.8L81.2 122.9L82.8 123.0L84.2 123.2L85.2 123.3L86.8 123.4L88.2 123.6L89.8 123.7L90.8 123.9L92.2 124.0L93.8 124.2L94.8 124.4L96.2 124.6L97.2 124.8L98.8 125.0L100.2 125.2L101.2 125.4L102.8 125.7L103.8 125.9L105.2 126.2L106.2 126.4L107.8 126.7L108.8 126.9L110.2 127.2L111.2 127.5L112.4 127.8L113.8 128.1L114.8 128.3L116.2 128.7L117.2 129.0L118.3 129.2L119.8 129.6L120.8 129.9L121.9 130.2L123.2 130.6L124.2 130.9L125.3 131.2L126.8 131.7L127.8 132.0L128.8 132.3L130.0 132.8L131.2 133.2L132.2 133.5L133.2 133.8L134.5 134.2L135.8 134.7L136.8 135.0L137.8 135.4L138.9 135.8L140.2 136.2L141.2 136.5L142.2 136.9L143.3 137.2L144.8 137.7L145.8 138.1L146.8 138.4L147.8 138.8L149.2 139.2L150.2 139.6L151.2 140.0L152.2 140.3L153.6 140.8L154.8 141.2L155.8 141.5L156.8 141.8L157.9 142.2L159.2 142.7L160.2 143.0L161.2 143.4L162.3 143.8L163.7 144.2L164.8 144.6L165.8 144.9L166.8 145.3L168.1 145.8L169.2 146.2L170.2 146.5L171.2 146.9L172.4 147.2L173.8 147.7L174.8 148.1L175.8 148.4L176.8 148.8L178.2 149.2L179.2 149.6L180.2 150.0L181.2 150.3L182.6 150.8L183.8 151.2L184.8 151.5L185.8 151.8L187.0 152.2L188.2 152.7L189.2 153.0L190.2 153.4L191.4 153.8L192.8 154.2L193.8 154.6L194.8 154.9L195.8 155.2L197.2 155.7L198.2 156.1L199.2 156.4L200.3 156.8L201.8 157.2L202.8 157.6L203.8 157.9L204.8 158.2L206.2 158.7L207.2 159.0L208.2 159.4L209.5 159.8L210.8 160.1L211.8 160.5L212.8 160.8L214.2 161.2L215.2 161.5L216.2 161.8L217.7 162.2L218.8 162.5L219.8 162.8L221.2 163.2L222.2 163.5L223.2 163.8L224.8 164.2L225.8 164.4L227.1 164.8L228.2 165.0L229.2 165.3L230.8 165.6L231.8 165.8L233.2 166.1L234.2 166.3L235.8 166.6L236.8 166.8L238.2 167.0L239.5 167.2L240.8 167.4L242.2 167.7L243.2 167.8L244.8 168.0L246.2 168.2L247.2 168.3L248.8 168.5L250.2 168.7L251.2 168.8L252.8 169.0L254.2 169.1L255.7 169.2L256.8 169.3L258.2 169.5L259.8 169.6L261.2 169.7L262.4 169.8L263.8 169.8L265.2 169.9L266.8 170.0L268.2 170.1L269.8 170.1L271.2 170.2L272.8 170.2L274.0 170.2L275.2 170.3L276.8 170.3L278.2 170.3L279.8 170.3L281.2 170.4L282.8 170.4L284.2 170.4L285.8 170.3L287.2 170.3L288.8 170.3L290.2 170.3L291.8 170.3L293.2 170.2L294.2 170.2L295.8 170.2L297.2 170.2L298.8 170.1L300.2 170.1L301.8 170.0L303.2 170.0L304.8 169.9L306.2 169.9L307.8 169.8L309.2 169.8L310.2 169.7L311.8 169.6L313.2 169.6L314.8 169.5L316.2 169.4L317.8 169.4L319.2 169.3L320.5 169.2L321.8 169.2L323.2 169.1L324.8 169.0L326.2 169.0L327.8 168.9L329.2 168.8L330.8 168.8L331.8 168.7L333.2 168.6L334.8 168.6L336.2 168.5L337.8 168.4L339.2 168.3L340.8 168.3L341.8 168.2L343.2 168.2L344.8 168.1L346.2 168.0L347.8 167.9L349.2 167.9L350.8 167.8L352.1 167.8L353.2 167.7L354.8 167.6L356.2 167.6L357.8 167.5L359.2 167.5L360.8 167.4L362.2 167.3L363.8 167.3L364.8 167.2L366.2 167.2L367.8 167.1L369.2 167.1L370.8 167.1L372.2 167.0L373.8 167.0L375.2 166.9L376.8 166.9L378.2 166.8L379.8 166.8L381.2 166.8L382.8 166.8L383.8 166.7L385.2 166.7L386.8 166.7L388.2 166.7L389.8 166.6L391.2 166.6L392.8 166.6L394.2 166.6L395.8 166.6L397.2 166.6L398.8 166.6L400.2 166.6L401.8 166.6L403.2 166.6L404.8 166.6L406.2 166.6L407.8 166.6L409.2 166.6L410.8 166.6L412.2 166.6L413.8 166.6L415.2 166.6L416.8 166.6L418.2 166.6L419.8 166.6L421.2 166.6L422.8 166.6L424.2 166.6L425.8 166.6L427.2 166.6L428.8 166.6L430.2 166.6L431.8 166.6L433.2 166.6L434.8 166.6L436.2 166.6L437.8 166.6L439.2 166.6L440.8 166.6L442.2 166.6L443.8 166.6L445.2 166.6L446.8 166.6L448.2 166.6L449.8 166.6L451.2 166.6L452.8 166.6L454.2 166.6L455.8 166.6L457.2 166.6L458.8 166.6L460.2 166.6L461.8 166.6L463.2 166.6L464.8 166.6L466.2 166.6L467.8 166.6L469.2 166.6L470.8 166.6L472.2 166.6L473.8 166.6L475.2 166.6L476.8 166.6L477.8 166.6 M278.7 0.2L278.9 1.2L279.2 2.8L279.4 3.8L279.7 5.2L280.0 6.2L280.2 7.5L280.5 8.8L280.8 9.8L281.1 11.2L281.3 12.2L281.6 13.8L281.8 14.8L282.1 16.2L282.2 17.5L282.4 18.8L282.6 20.2L282.8 21.6L282.8 22.8L282.9 24.2L282.9 25.8L282.9 27.2L282.8 28.8L282.8 29.9L282.6 31.2L282.3 32.8L282.1 33.8L281.8 35.2L281.5 36.2L281.1 37.2L280.8 38.3L280.2 39.5L279.8 40.5L279.2 41.5L278.8 42.4L278.2 43.2L277.5 44.2L276.8 45.2L276.2 45.8L275.3 46.8L274.7 47.2L273.8 48.0L272.8 48.7L271.8 49.2L271.0 49.8L270.1 50.2L269.1 50.8L268.0 51.2L266.8 51.8L265.8 52.2L264.8 52.6L263.8 52.9L262.8 53.3L261.2 53.7L260.2 54.0L259.2 54.3L257.8 54.7L256.8 54.9L255.4 55.2L254.2 55.5L252.8 55.8L251.8 55.9L250.2 56.2L249.2 56.3L247.8 56.5L246.2 56.6L244.8 56.8L243.8 56.8L242.2 56.9L240.8 56.9L239.2 57.0L237.8 56.9L236.2 56.9L234.8 56.8L233.7 56.8L232.2 56.6L230.8 56.5L229.2 56.3L228.2 56.1L226.8 55.9L225.8 55.7L224.2 55.3L223.2 55.1L221.9 54.8L220.8 54.4L219.8 54.1L218.6 53.8L217.3 53.2L216.2 52.8L215.2 52.4L214.2 51.9L213.2 51.4L212.2 50.9L211.2 50.3L210.5 49.8L209.8 49.2L208.8 48.4L208.0 47.8L207.2 46.9L206.7 46.2L206.0 45.2L205.4 44.2L205.0 43.2L204.5 42.2L204.1 41.2L203.8 40.2L203.3 38.8L203.0 37.8L202.8 36.7L202.5 35.2L202.2 34.1L202.1 32.8L201.9 31.2L201.8 29.8L201.7 28.8L201.7 27.2L201.6 25.8L201.7 24.2L201.7 22.8L201.8 21.8L201.9 20.2L202.0 18.8L202.1 17.2L202.3 16.2L202.4 14.8L202.6 13.2L202.8 12.2L203.0 10.8L203.2 9.2L203.4 8.2L203.6 6.8L203.8 5.8L204.0 4.2L204.2 2.8L204.4 1.8L204.6 0.2 M0.2 144.7L1.8 144.7L3.2 144.7L4.8 144.6L6.2 144.6L7.8 144.6L9.2 144.6L10.8 144.5L12.2 144.5L13.8 144.5L15.2 144.5L16.8 144.4L18.2 144.4L19.8 144.4L21.2 144.4L22.8 144.3L24.2 144.3L25.8 144.3L27.2 144.3L28.8 144.3L29.8 144.2L31.2 144.2L32.8 144.2L34.2 144.2L35.8 144.2L37.2 144.2L38.8 144.2L40.2 144.2L41.8 144.1L43.2 144.1L44.8 144.1L46.2 144.1L47.8 144.1L49.2 144.1L50.8 144.1L52.2 144.2L53.8 144.2L55.2 144.2L56.8 144.2L58.2 144.2L59.8 144.2L60.8 144.3L62.2 144.3L63.8 144.3L65.2 144.3L66.8 144.4L68.2 144.4L69.8 144.5L71.2 144.5L72.8 144.6L74.2 144.6L75.8 144.7L77.2 144.8L78.2 144.8L79.8 144.9L81.2 145.0L82.8 145.0L84.2 145.1L85.8 145.2L86.8 145.3L88.2 145.4L89.8 145.6L91.2 145.7L92.2 145.8L93.8 146.0L95.2 146.1L96.2 146.3L97.8 146.4L99.2 146.6L100.3 146.8L101.8 146.9L103.2 147.2L104.2 147.3L105.8 147.5L107.2 147.7L108.2 147.9L109.8 148.1L110.8 148.3L112.2 148.6L113.3 148.8L114.8 149.0L116.0 149.2L117.2 149.5L118.7 149.8L119.8 150.0L121.2 150.2L122.2 150.5L123.6 150.8L124.8 151.0L125.9 151.2L127.2 151.5L128.2 151.8L129.8 152.1L130.8 152.3L132.2 152.7L133.2 152.9L134.6 153.2L135.8 153.5L136.8 153.8L138.2 154.2L139.2 154.4L140.6 154.8L141.8 155.1L142.8 155.3L144.2 155.7L145.2 156.0L146.2 156.3L147.8 156.7L148.8 157.0L149.8 157.3L151.2 157.7L152.2 158.0L153.2 158.3L154.8 158.7L155.8 159.0L156.8 159.3L158.2 159.8L159.2 160.1L160.2 160.4L161.5 160.8L162.8 161.2L163.8 161.5L164.8 161.8L166.2 162.2L167.2 162.6L168.2 162.9L169.3 163.2L170.8 163.7L171.8 164.1L172.8 164.4L173.8 164.8L175.2 165.2L176.2 165.6L177.2 165.9L178.3 166.2L179.8 166.7L180.8 167.1L181.8 167.4L182.8 167.8L184.1 168.2L185.2 168.6L186.2 169.0L187.2 169.3L188.5 169.8L189.8 170.2L190.8 170.5L191.8 170.9L192.8 171.2L194.2 171.8L195.2 172.1L196.2 172.4L197.2 172.8L198.6 173.2L199.8 173.6L200.8 174.0L201.8 174.3L203.0 174.8L204.2 175.2L205.2 175.5L206.2 175.8L207.5 176.2L208.8 176.7L209.8 177.0L210.8 177.3L212.1 177.8L213.2 178.1L214.2 178.4L215.4 178.8L216.8 179.2L217.8 179.5L218.8 179.8L220.2 180.2L221.2 180.5L222.3 180.8L223.8 181.2L224.8 181.4L226.1 181.8L227.2 182.0L228.2 182.3L229.8 182.6L230.8 182.9L232.2 183.2L233.2 183.4L234.8 183.7L235.8 183.9L237.2 184.1L238.2 184.3L239.8 184.5L241.2 184.8L242.2 184.9L243.8 185.1L245.1 185.2L246.2 185.4L247.8 185.5L249.2 185.7L250.2 185.8L251.8 185.9L253.2 186.0L254.8 186.1L256.2 186.2L257.2 186.3L258.8 186.3L260.2 186.4L261.8 186.5L263.2 186.5L264.8 186.5L266.2 186.5L267.8 186.5L269.2 186.5L270.8 186.5L272.2 186.5L273.8 186.5L275.2 186.4L276.8 186.4L278.2 186.3L279.8 186.3L280.8 186.2L282.2 186.2L283.8 186.1L285.2 186.0L286.8 185.9L288.2 185.8L289.2 185.7L290.8 185.6L292.2 185.5L293.8 185.4L295.2 185.3L296.2 185.2L297.8 185.1L299.2 184.9L300.8 184.8L301.8 184.7L303.2 184.6L304.8 184.4L306.2 184.3L307.2 184.2L308.8 184.1L310.2 183.9L311.8 183.8L312.8 183.7L314.2 183.5L315.8 183.4L317.2 183.2L318.2 183.1L319.8 183.0L321.2 182.8L322.2 182.7L323.8 182.6L325.2 182.4L326.8 182.3L327.8 182.2L329.2 182.1L330.8 181.9L332.2 181.8L333.2 181.7L334.8 181.5L336.2 181.4L337.8 181.3L338.8 181.2L340.2 181.0L341.8 180.9L343.2 180.8L344.2 180.7L345.8 180.5L347.2 180.4L348.8 180.3L349.8 180.2L351.2 180.1L352.8 180.0L354.2 179.8L355.5 179.8L356.8 179.7L358.2 179.5L359.8 179.4L361.2 179.3L362.5 179.2L363.8 179.2L365.2 179.1L366.8 179.0L368.2 178.9L369.8 178.8L370.8 178.7L372.2 178.7L373.8 178.6L375.2 178.5L376.8 178.4L378.2 178.4L379.8 178.3L381.2 178.2L382.2 178.2L383.8 178.2L385.2 178.1L386.8 178.1L388.2 178.0L389.8 178.0L391.2 177.9L392.8 177.9L394.2 177.9L395.8 177.9L397.2 177.9L398.8 177.8L400.2 177.8L401.8 177.8L403.2 177.8L404.8 177.8L406.2 177.8L407.8 177.8L409.2 177.8L410.8 177.8L412.2 177.8L413.8 177.8L415.2 177.8L416.8 177.8L418.2 177.8L419.2 177.7L420.8 177.7L422.2 177.7L423.8 177.7L425.2 177.7L426.8 177.7L428.2 177.7L429.8 177.7L431.2 177.7L432.8 177.7L434.2 177.7L435.8 177.7L437.2 177.7L438.8 177.7L440.2 177.7L441.8 177.7L443.2 177.7L444.8 177.7L446.2 177.7L447.2 177.8L448.8 177.8L450.2 177.8L451.8 177.8L453.2 177.8L454.8 177.8L456.2 177.8L457.8 177.8L459.2 177.8L460.8 177.8L462.2 177.8L463.8 177.8L465.2 177.8L466.8 177.8L468.2 177.8L469.8 177.8L471.2 177.8L472.8 177.8L474.2 177.8L475.8 177.8L477.2 177.8L477.8 177.8 M0.2 157.6L1.8 157.6L3.2 157.5L4.8 157.5L6.2 157.5L7.8 157.5L9.2 157.4L10.8 157.4L12.2 157.4L13.8 157.4L15.2 157.4L16.8 157.3L18.2 157.3L19.8 157.3L21.2 157.3L22.2 157.2L23.8 157.2L25.2 157.2L26.8 157.2L28.2 157.2L29.8 157.1L31.2 157.1L32.8 157.1L34.2 157.1L35.8 157.1L37.2 157.1L38.8 157.1L40.2 157.1L41.8 157.0L43.2 157.0L44.8 157.0L46.2 157.0L47.8 157.0L49.2 157.0L50.8 157.0L52.2 157.1L53.8 157.1L55.2 157.1L56.8 157.1L58.2 157.1L59.8 157.1L61.2 157.2L62.8 157.2L64.2 157.2L65.6 157.2L66.8 157.3L68.2 157.3L69.8 157.4L71.2 157.4L72.8 157.5L74.2 157.5L75.8 157.6L77.2 157.6L78.8 157.7L79.8 157.8L81.2 157.8L82.8 157.9L84.2 158.0L85.8 158.1L87.2 158.2L88.2 158.3L89.8 158.4L91.2 158.6L92.8 158.7L93.8 158.8L95.2 159.0L96.8 159.2L97.8 159.3L99.2 159.5L100.8 159.7L101.8 159.8L103.2 160.0L104.7 160.2L105.8 160.4L107.2 160.6L108.2 160.8L109.8 161.0L110.9 161.2L112.2 161.5L113.8 161.7L114.8 161.9L116.2 162.2L117.2 162.4L118.8 162.7L119.8 162.9L121.2 163.2L122.2 163.4L123.7 163.8L124.8 164.0L125.9 164.2L127.2 164.6L128.2 164.8L129.8 165.1L130.8 165.4L132.2 165.8L133.2 166.0L134.2 166.3L135.8 166.6L136.8 166.9L138.0 167.2L139.2 167.6L140.2 167.9L141.6 168.2L142.8 168.6L143.8 168.8L145.1 169.2L146.2 169.6L147.2 169.9L148.5 170.2L149.8 170.6L150.8 170.9L151.8 171.3L153.2 171.7L154.2 172.1L155.2 172.4L156.4 172.8L157.8 173.2L158.8 173.5L159.8 173.9L160.8 174.2L162.2 174.7L163.2 175.1L164.2 175.4L165.2 175.8L166.5 176.2L167.8 176.7L168.8 177.0L169.8 177.4L170.8 177.8L172.0 178.2L173.2 178.7L174.2 179.1L175.2 179.5L176.2 179.9L177.3 180.2L178.6 180.8L179.8 181.2L180.8 181.6L181.8 182.0L182.8 182.4L183.8 182.8L184.9 183.2L186.1 183.8L187.2 184.2L188.2 184.6L189.2 185.0L190.2 185.4L191.2 185.8L192.2 186.3L193.5 186.8L194.7 187.2L195.8 187.7L196.8 188.1L197.8 188.5L198.8 188.9L199.8 189.4L200.8 189.8L201.9 190.2L203.1 190.8L204.2 191.2L205.2 191.6L206.2 192.0L207.2 192.5L208.2 192.9L209.2 193.3L210.4 193.8L211.7 194.2L212.8 194.7L213.8 195.1L214.8 195.5L215.8 195.9L216.8 196.3L218.0 196.8L219.2 197.2L220.2 197.6L221.2 197.9L222.2 198.3L223.5 198.8L224.8 199.2L225.8 199.5L226.8 199.9L227.9 200.2L229.2 200.7L230.2 201.0L231.2 201.3L232.8 201.7L233.8 202.0L234.8 202.2L236.2 202.6L237.2 202.8L238.8 203.2L239.8 203.4L241.2 203.6L242.2 203.8L243.8 204.1L244.9 204.2L246.2 204.4L247.8 204.6L248.8 204.8L250.2 204.9L251.8 205.0L253.2 205.2L254.7 205.2L255.8 205.3L257.2 205.4L258.8 205.4L260.2 205.4L261.8 205.4L263.2 205.4L264.8 205.4L266.2 205.3L267.3 205.2L268.8 205.2L270.2 205.1L271.8 205.0L273.2 204.8L274.2 204.7L275.8 204.6L277.2 204.4L278.8 204.3L279.8 204.1L281.2 203.9L282.7 203.8L283.8 203.6L285.2 203.4L286.2 203.2L287.8 203.0L289.2 202.8L290.2 202.6L291.8 202.4L292.8 202.2L294.2 202.0L295.6 201.8L296.8 201.5L298.2 201.3L299.2 201.1L300.8 200.9L301.8 200.7L303.2 200.4L304.2 200.2L305.8 200.0L306.9 199.8L308.2 199.5L309.7 199.2L310.8 199.1L312.2 198.8L313.2 198.6L314.8 198.4L315.8 198.2L317.2 197.9L318.2 197.7L319.8 197.5L321.0 197.2L322.2 197.0L323.8 196.8L324.8 196.6L326.2 196.4L327.2 196.2L328.8 195.9L330.0 195.8L331.2 195.5L332.8 195.3L333.8 195.1L335.2 194.9L336.3 194.8L337.8 194.5L339.2 194.3L340.2 194.1L341.8 193.9L343.0 193.8L344.2 193.6L345.8 193.4L346.8 193.2L348.2 193.0L349.8 192.8L350.8 192.7L352.2 192.5L353.8 192.3L354.8 192.2L356.2 192.0L357.8 191.8L358.8 191.7L360.2 191.6L361.8 191.4L363.2 191.3L364.2 191.2L365.8 191.0L367.2 190.9L368.4 190.8L369.8 190.6L371.2 190.5L372.8 190.4L374.2 190.3L375.2 190.2L376.8 190.1L378.2 190.0L379.8 189.9L381.2 189.8L382.2 189.7L383.8 189.6L385.2 189.5L386.8 189.5L388.2 189.4L389.8 189.3L391.2 189.3L392.5 189.2L393.8 189.2L395.2 189.2L396.8 189.1L398.2 189.1L399.8 189.1L401.2 189.1L402.8 189.1L404.2 189.0L405.8 189.0L407.2 189.0L408.8 189.0L410.2 189.0L411.8 189.0L413.2 189.0L414.8 189.0L416.2 188.9L417.8 188.9L419.2 188.9L420.8 188.9L422.2 188.9L423.8 188.9L425.2 188.9L426.8 188.9L428.2 188.9L429.8 188.9L431.2 188.9L432.8 188.9L434.2 188.9L435.8 188.9L437.2 188.9L438.8 188.9L440.2 188.9L441.8 188.9L443.2 188.9L444.8 188.9L446.2 188.9L447.8 188.9L449.2 188.9L450.8 189.0L452.2 189.0L453.8 189.0L455.2 189.0L456.8 189.0L458.2 189.0L459.8 189.0L461.2 189.0L462.8 189.0L464.2 189.0L465.8 189.0L467.2 189.0L468.8 189.0L470.2 189.0L471.8 189.0L473.2 189.1L474.8 189.1L476.2 189.1L477.8 189.1 M0.2 168.5L1.8 168.5L3.2 168.5L4.8 168.5L6.2 168.4L7.8 168.4L9.2 168.4L10.8 168.4L12.2 168.3L13.8 168.3L15.2 168.3L16.8 168.3L17.8 168.2L19.2 168.2L20.8 168.2L22.2 168.2L23.8 168.1L25.2 168.1L26.8 168.1L28.2 168.1L29.8 168.1L31.2 168.0L32.8 168.0L34.2 168.0L35.8 168.0L37.2 168.0L38.8 168.0L40.2 168.0L41.8 168.0L43.2 168.0L44.8 167.9L46.2 167.9L47.8 167.9L49.2 168.0L50.8 168.0L52.2 168.0L53.8 168.0L55.2 168.0L56.8 168.0L58.2 168.0L59.8 168.1L61.2 168.1L62.8 168.1L64.2 168.1L65.8 168.2L67.2 168.2L68.4 168.2L69.8 168.3L71.2 168.3L72.8 168.4L74.2 168.5L75.8 168.5L77.2 168.6L78.8 168.7L80.2 168.7L81.2 168.8L82.8 168.9L84.2 169.0L85.8 169.1L87.2 169.2L88.2 169.3L89.8 169.5L91.2 169.6L92.5 169.8L93.8 169.9L95.2 170.1L96.7 170.2L97.8 170.4L99.2 170.6L100.3 170.8L101.8 171.0L103.2 171.2L104.2 171.4L105.8 171.6L106.8 171.8L108.2 172.0L109.4 172.2L110.8 172.5L112.0 172.8L113.2 173.0L114.5 173.2L115.8 173.5L116.8 173.8L118.2 174.1L119.2 174.3L120.8 174.6L121.8 174.9L123.2 175.2L124.2 175.5L125.3 175.8L126.8 176.1L127.8 176.4L129.1 176.8L130.2 177.1L131.2 177.3L132.7 177.8L133.8 178.0L134.8 178.3L136.1 178.8L137.2 179.1L138.2 179.4L139.4 179.8L140.8 180.2L141.8 180.5L142.8 180.8L144.0 181.2L145.2 181.7L146.2 182.0L147.2 182.4L148.3 182.8L149.7 183.2L150.8 183.6L151.8 184.0L152.8 184.4L153.8 184.8L155.1 185.2L156.2 185.7L157.2 186.1L158.2 186.5L159.2 186.9L160.2 187.3L161.3 187.8L162.5 188.2L163.6 188.8L164.8 189.2L165.8 189.7L166.8 190.1L167.8 190.6L168.8 191.0L169.8 191.5L170.8 191.9L171.8 192.4L172.8 192.9L173.8 193.4L174.8 193.8L175.8 194.3L176.8 194.8L177.8 195.3L178.8 195.8L179.8 196.3L180.8 196.9L181.8 197.4L182.8 197.9L183.8 198.5L184.8 199.0L185.8 199.6L186.8 200.1L187.8 200.7L188.7 201.2L189.6 201.8L190.4 202.2L191.3 202.8L192.2 203.4L193.2 204.0L194.2 204.6L195.2 205.2L196.1 205.8L196.8 206.2L197.8 206.8L198.8 207.5L199.8 208.2L200.5 208.8L201.2 209.3L202.2 210.0L203.2 210.7L203.9 211.2L204.8 211.9L205.8 212.7L206.4 213.2L207.2 213.9L208.2 214.8L208.8 215.3L209.8 216.2L210.3 216.8L211.2 217.7L211.8 218.2L212.6 219.2L213.2 220.0L213.8 220.8L214.5 221.8L215.1 222.8L215.6 223.8L216.0 224.8L216.5 225.8L216.9 226.8L217.3 227.8L217.8 229.2L218.1 230.2L218.3 231.2L218.7 232.8L218.9 233.8L219.2 235.2L219.3 236.2L219.5 237.8L219.6 239.2L219.6 240.8L219.7 242.2L219.6 243.8L219.6 245.2L219.5 246.8L219.3 248.2L219.2 249.2L219.1 250.8L218.9 252.2L218.7 253.2L218.5 254.8L218.3 256.2L218.1 257.2L217.8 258.8L217.7 259.8L217.4 261.2L217.2 262.2L217.0 263.8L216.8 265.2L216.6 266.2L216.4 267.8 M312.2 267.8L311.8 266.3L311.4 265.2L311.1 264.2L310.8 263.0L310.4 261.8L310.0 260.8L309.7 259.8L309.3 258.2L308.9 257.2L308.6 256.2L308.2 254.9L307.9 253.8L307.7 252.8L307.3 251.2L307.1 250.2L306.8 248.8L306.6 247.8L306.4 246.2L306.2 245.1L306.1 243.8L306.1 242.2L306.1 240.8L306.2 239.2L306.4 238.2L306.6 236.8L306.9 235.8L307.2 234.4L307.6 233.2L308.0 232.2L308.5 231.2L309.0 230.2L309.5 229.2L310.1 228.2L310.8 227.4L311.2 226.7L311.9 225.8L312.8 224.8L313.2 224.2L314.1 223.2L314.8 222.7L315.8 221.8L316.4 221.2L317.2 220.7L318.2 220.0L319.2 219.4L320.2 218.8L321.2 218.2L322.1 217.8L323.1 217.2L324.2 216.8L325.2 216.2L326.2 215.8L327.2 215.4L328.2 214.9L329.2 214.5L330.2 214.2L331.3 213.8L332.7 213.2L333.8 212.9L334.8 212.5L335.8 212.2L337.1 211.8L338.2 211.4L339.2 211.1L340.3 210.8L341.8 210.3L342.8 210.0L343.8 209.8L345.2 209.3L346.2 209.1L347.5 208.8L348.8 208.4L349.8 208.2L351.2 207.8L352.2 207.6L353.8 207.3L354.8 207.1L356.2 206.8L357.2 206.5L358.6 206.2L359.8 206.0L361.2 205.8L362.2 205.6L363.8 205.3L364.8 205.1L366.2 204.9L367.2 204.7L368.8 204.5L370.2 204.3L371.2 204.1L372.8 203.9L373.9 203.8L375.2 203.6L376.8 203.4L378.0 203.2L379.2 203.1L380.8 203.0L382.2 202.8L383.2 202.7L384.8 202.6L386.2 202.5L387.8 202.3L389.1 202.2L390.2 202.2L391.8 202.1L393.2 202.0L394.8 201.9L396.2 201.9L397.8 201.8L399.2 201.8L400.8 201.8L401.8 201.7L403.2 201.7L404.8 201.7L406.2 201.7L407.8 201.6L409.2 201.6L410.8 201.6L412.2 201.6L413.8 201.5L415.2 201.5L416.8 201.5L418.2 201.5L419.8 201.5L421.2 201.5L422.8 201.5L424.2 201.5L425.8 201.5L427.2 201.5L428.8 201.5L430.2 201.5L431.8 201.5L433.2 201.5L434.8 201.5L436.2 201.5L437.8 201.5L439.2 201.5L440.8 201.5L442.2 201.5L443.8 201.5L445.2 201.5L446.8 201.5L448.2 201.5L449.8 201.5L451.2 201.5L452.8 201.5L454.2 201.6L455.8 201.6L457.2 201.6L458.8 201.6L460.2 201.6L461.8 201.6L463.2 201.6L464.8 201.6L466.2 201.6L467.8 201.7L469.2 201.7L470.8 201.7L472.2 201.7L473.8 201.7L475.2 201.7L476.8 201.7L477.8 201.7 M0.2 179.0L1.8 178.9L3.2 178.9L4.8 178.9L6.2 178.9L7.8 178.8L9.2 178.8L10.8 178.8L12.0 178.8L13.2 178.7L14.8 178.7L16.2 178.7L17.8 178.6L19.2 178.6L20.8 178.6L22.2 178.6L23.8 178.5L25.2 178.5L26.8 178.5L28.2 178.5L29.8 178.4L31.2 178.4L32.8 178.4L34.2 178.4L35.8 178.4L37.2 178.4L38.8 178.3L40.2 178.3L41.8 178.3L43.2 178.3L44.8 178.3L46.2 178.3L47.8 178.3L49.2 178.3L50.8 178.3L52.2 178.3L53.8 178.3L55.2 178.4L56.8 178.4L58.2 178.4L59.8 178.4L61.2 178.5L62.8 178.5L64.2 178.5L65.8 178.6L67.2 178.6L68.8 178.7L70.2 178.7L71.2 178.8L72.8 178.8L74.2 178.9L75.8 179.0L77.2 179.0L78.8 179.1L80.2 179.2L81.2 179.3L82.8 179.4L84.2 179.5L85.8 179.6L87.2 179.8L88.2 179.9L89.8 180.0L91.2 180.2L92.2 180.3L93.8 180.5L95.2 180.7L96.2 180.9L97.8 181.1L98.8 181.3L100.2 181.5L101.7 181.8L102.8 181.9L104.2 182.2L105.2 182.4L106.8 182.7L107.8 182.9L109.2 183.2L110.2 183.5L111.6 183.8L112.8 184.0L113.8 184.3L115.2 184.6L116.2 184.9L117.7 185.2L118.8 185.5L119.8 185.8L121.2 186.2L122.2 186.5L123.2 186.8L124.8 187.2L125.8 187.5L126.8 187.9L128.0 188.2L129.2 188.7L130.2 189.0L131.2 189.3L132.5 189.8L133.8 190.2L134.8 190.6L135.8 190.9L136.8 191.3L137.9 191.8L139.2 192.2L140.2 192.7L141.2 193.1L142.2 193.5L143.2 193.9L144.2 194.3L145.2 194.8L146.3 195.2L147.5 195.8L148.5 196.2L149.6 196.8L150.6 197.2L151.7 197.8L152.7 198.2L153.6 198.8L154.6 199.2L155.6 199.8L156.5 200.2L157.4 200.8L158.3 201.2L159.2 201.8L160.2 202.4L161.2 203.0L162.2 203.6L163.2 204.2L164.1 204.8L164.9 205.2L165.8 205.9L166.8 206.5L167.8 207.2L168.4 207.8L169.2 208.3L170.2 209.1L171.1 209.8L171.8 210.3L172.8 211.2L173.4 211.8L174.2 212.5L175.0 213.2L175.8 214.0L176.5 214.8L177.2 215.5L177.9 216.2L178.7 217.2L179.2 218.0L179.8 218.8L180.5 219.8L181.1 220.8L181.6 221.8L182.1 222.8L182.4 223.8L182.8 224.8L183.2 226.1L183.6 227.2L183.9 228.2L184.2 229.8L184.4 230.8L184.7 232.2L184.9 233.2L185.1 234.8L185.2 236.2L185.3 237.2L185.4 238.8L185.5 240.2L185.5 241.8L185.5 243.2L185.4 244.8L185.4 246.2L185.3 247.8L185.2 248.8L185.1 250.2L185.0 251.8L184.8 253.2L184.7 254.2L184.5 255.8L184.4 257.2L184.2 258.2L184.0 259.8L183.8 261.2L183.7 262.2L183.5 263.8L183.3 265.2L183.2 266.2L183.1 267.8 M477.8 264.4L476.2 264.5L474.8 264.5L473.2 264.6L471.8 264.6L470.2 264.6L468.8 264.7L467.2 264.7L466.2 264.8L464.8 264.8L463.2 264.9L461.8 264.9L460.2 264.9L458.8 265.0L457.2 265.0L455.8 265.1L454.2 265.1L452.8 265.2L451.2 265.2L449.8 265.2L448.6 265.2L447.2 265.3L445.8 265.3L444.2 265.3L442.8 265.4L441.2 265.4L439.8 265.4L438.2 265.4L436.8 265.4L435.2 265.5L433.8 265.5L432.2 265.5L430.8 265.5L429.2 265.5L427.8 265.4L426.2 265.4L424.8 265.4L423.2 265.4L421.8 265.4L420.2 265.3L418.8 265.3L417.4 265.2L416.2 265.2L414.8 265.2L413.2 265.1L411.8 265.0L410.2 265.0L408.8 264.9L407.2 264.8L406.2 264.7L404.8 264.6L403.2 264.5L401.8 264.4L400.2 264.4L398.8 264.3L397.2 264.3L396.2 264.2L394.8 264.1L393.2 264.0L391.8 263.8L390.8 263.6L389.2 263.3L388.2 263.0L387.2 262.7L386.2 262.2L385.2 261.7L384.2 260.9L383.5 260.2L382.8 259.4L382.2 258.8L381.4 257.8L380.8 256.8L380.2 256.0L379.8 255.2L379.2 254.2L378.7 253.2L378.2 252.2L377.7 251.2L377.2 250.2L376.8 248.9L376.4 247.8L376.1 246.8L375.8 245.2L375.6 244.2L375.5 242.8L375.5 241.2L375.7 239.8L375.8 238.8L376.2 237.3L376.6 236.2L377.1 235.2L377.7 234.2L378.2 233.4L378.8 232.7L379.6 231.8L380.2 231.1L381.2 230.2L381.8 229.8L382.8 229.0L383.8 228.3L384.7 227.8L385.6 227.2L386.5 226.8L387.6 226.2L388.8 225.8L389.8 225.4L390.8 225.0L391.8 224.7L393.2 224.3L394.2 224.1L395.8 223.8L396.8 223.6L398.2 223.3L399.2 223.2L400.8 223.0L402.2 222.9L403.6 222.8L404.8 222.6L406.2 222.5L407.8 222.4L409.2 222.3L410.2 222.2L411.8 222.2L413.2 222.1L414.8 222.0L416.2 221.9L417.8 221.9L419.2 221.8L420.8 221.8L422.2 221.8L423.2 221.7L424.8 221.7L426.2 221.7L427.8 221.7L429.2 221.7L430.8 221.7L432.2 221.7L433.8 221.7L435.2 221.7L436.8 221.7L438.2 221.7L439.8 221.7L441.2 221.7L442.2 221.8L443.8 221.8L445.2 221.8L446.8 221.8L448.2 221.9L449.8 221.9L451.2 222.0L452.8 222.0L454.2 222.1L455.8 222.1L457.2 222.2L458.8 222.2L460.2 222.2L461.2 222.3L462.8 222.3L464.2 222.4L465.8 222.5L467.2 222.5L468.8 222.6L470.2 222.6L471.8 222.7L473.2 222.7L474.2 222.8L475.8 222.8L477.2 222.9L477.8 222.9 M0.2 189.7L1.8 189.7L3.2 189.7L4.8 189.6L6.2 189.6L7.8 189.6L9.2 189.5L10.8 189.5L12.2 189.5L13.8 189.4L15.2 189.4L16.8 189.4L18.2 189.3L19.8 189.3L21.2 189.3L22.6 189.2L23.8 189.2L25.2 189.2L26.8 189.2L28.2 189.1L29.8 189.1L31.2 189.1L32.8 189.1L34.2 189.0L35.8 189.0L37.2 189.0L38.8 189.0L40.2 189.0L41.8 189.0L43.2 189.0L44.8 189.0L46.2 189.0L47.8 189.0L49.2 189.0L50.8 189.0L52.2 189.0L53.8 189.0L55.2 189.0L56.8 189.0L58.2 189.1L59.8 189.1L61.2 189.1L62.8 189.2L64.2 189.2L65.2 189.3L66.8 189.3L68.2 189.4L69.8 189.4L71.2 189.5L72.8 189.6L74.2 189.6L75.8 189.7L76.8 189.8L78.2 189.9L79.8 190.0L81.2 190.1L82.8 190.2L83.8 190.3L85.2 190.5L86.8 190.6L87.8 190.8L89.2 191.0L90.8 191.2L91.8 191.3L93.2 191.5L94.5 191.8L95.8 192.0L97.2 192.2L98.2 192.4L99.8 192.7L100.8 192.9L102.1 193.2L103.2 193.5L104.3 193.8L105.8 194.1L106.8 194.4L108.2 194.7L109.2 195.0L110.2 195.3L111.8 195.7L112.8 196.0L113.8 196.3L115.1 196.8L116.2 197.1L117.2 197.5L118.2 197.8L119.5 198.2L120.8 198.7L121.8 199.1L122.8 199.5L123.8 199.9L124.8 200.3L125.9 200.8L127.1 201.2L128.2 201.8L129.2 202.2L130.2 202.7L131.2 203.2L132.2 203.7L133.2 204.2L134.2 204.7L135.2 205.2L136.2 205.8L137.1 206.2L138.0 206.8L138.8 207.2L139.8 207.8L140.8 208.5L141.8 209.2L142.6 209.8L143.3 210.2L144.2 210.9L145.2 211.7L145.9 212.2L146.8 212.9L147.7 213.8L148.3 214.2L149.2 215.2L149.8 215.8L150.7 216.8L151.2 217.4L152.0 218.2L152.7 219.2L153.2 220.0L153.8 220.8L154.3 221.8L154.8 222.8L155.2 223.8L155.8 225.1L156.1 226.2L156.5 227.2L156.8 228.3L157.1 229.8L157.4 230.8L157.7 232.2L157.8 233.2L158.0 234.8L158.2 236.2L158.3 237.2L158.4 238.8L158.4 240.2L158.5 241.8L158.5 243.2L158.4 244.8L158.4 246.2L158.3 247.8L158.2 248.8L158.1 250.2L157.9 251.8L157.8 253.2L157.6 254.2L157.5 255.8L157.3 257.2L157.1 258.2L156.9 259.8L156.8 261.1L156.6 262.2L156.4 263.8L156.2 264.8L156.1 266.2L155.9 267.8 M0.2 202.1L1.8 202.0L3.2 202.0L4.8 201.9L6.2 201.9L7.8 201.8L9.2 201.8L10.7 201.8L11.8 201.7L13.2 201.7L14.8 201.6L16.2 201.6L17.8 201.5L19.2 201.5L20.8 201.5L22.2 201.4L23.8 201.4L25.2 201.3L26.8 201.3L28.2 201.3L29.2 201.2L30.8 201.2L32.2 201.2L33.8 201.1L35.2 201.1L36.8 201.1L38.2 201.1L39.8 201.1L41.2 201.0L42.8 201.0L44.2 201.0L45.8 201.0L47.2 201.0L48.8 201.0L50.2 201.0L51.8 201.0L53.2 201.1L54.8 201.1L56.2 201.1L57.8 201.1L59.2 201.2L60.8 201.2L61.8 201.3L63.2 201.3L64.8 201.4L66.2 201.4L67.8 201.5L69.2 201.6L70.8 201.7L71.8 201.8L73.2 201.9L74.8 202.0L76.2 202.1L77.8 202.2L78.8 202.3L80.2 202.4L81.8 202.6L83.0 202.8L84.2 202.9L85.8 203.1L86.8 203.3L88.2 203.5L89.4 203.8L90.8 204.0L91.8 204.2L93.2 204.6L94.2 204.8L95.8 205.2L96.8 205.4L97.9 205.8L99.2 206.2L100.2 206.5L101.2 206.8L102.7 207.2L103.8 207.6L104.8 208.0L105.8 208.4L106.8 208.8L107.9 209.2L109.1 209.8L110.2 210.2L111.2 210.8L112.2 211.2L113.2 211.8L114.1 212.2L115.0 212.8L115.8 213.2L116.8 213.8L117.8 214.5L118.8 215.2L119.6 215.8L120.2 216.3L121.2 217.1L122.0 217.8L122.8 218.4L123.6 219.2L124.2 220.0L124.9 220.8L125.6 221.8L126.2 222.7L126.8 223.6L127.2 224.6L127.8 225.6L128.2 226.8L128.6 227.8L129.0 228.8L129.3 229.8L129.7 231.2L130.0 232.2L130.2 233.6L130.5 234.8L130.7 236.2L130.8 237.2L130.9 238.8L131.0 240.2L131.0 241.8L131.0 243.2L131.0 244.8L130.9 246.2L130.8 247.8L130.7 248.8L130.5 250.2L130.3 251.8L130.2 252.8L130.0 254.2L129.8 255.6L129.6 256.8L129.3 258.2L129.1 259.2L128.9 260.8L128.7 261.8L128.4 263.2L128.2 264.3L128.0 265.8L127.8 267.2L127.7 267.8 M0.2 222.2L1.8 222.0L3.2 221.9L4.6 221.8L5.8 221.6L7.2 221.5L8.8 221.4L10.0 221.2L11.2 221.1L12.8 221.0L14.2 220.9L15.5 220.8L16.8 220.6L18.2 220.5L19.8 220.4L21.2 220.3L22.2 220.2L23.8 220.1L25.2 220.0L26.8 219.9L28.2 219.8L29.2 219.7L30.8 219.6L32.2 219.6L33.8 219.5L35.2 219.4L36.8 219.4L38.2 219.3L39.8 219.3L40.8 219.2L42.2 219.2L43.8 219.2L45.2 219.2L46.8 219.2L48.2 219.2L49.8 219.2L51.2 219.2L52.2 219.3L53.8 219.3L55.2 219.4L56.8 219.5L58.2 219.5L59.8 219.7L61.0 219.8L62.2 219.9L63.8 220.0L65.2 220.2L66.2 220.3L67.8 220.5L69.2 220.8L70.2 220.9L71.8 221.2L72.8 221.4L74.2 221.7L75.2 222.0L76.3 222.2L77.8 222.7L78.8 223.0L79.8 223.4L80.8 223.8L81.8 224.2L82.8 224.8L83.8 225.3L84.8 226.0L85.8 226.7L86.4 227.2L87.2 228.0L88.0 228.8L88.8 229.6L89.3 230.2L90.0 231.2L90.6 232.2L91.1 233.2L91.6 234.2L91.9 235.2L92.3 236.2L92.6 237.8L92.8 238.8L93.0 240.2L93.0 241.8L93.0 243.2L92.9 244.8L92.8 246.0L92.5 247.2L92.2 248.7L92.0 249.8L91.7 250.8L91.2 252.2L90.9 253.2L90.5 254.2L90.2 255.2L89.7 256.2L89.2 257.4L88.8 258.5L88.2 259.6L87.8 260.6L87.2 261.6L86.8 262.6L86.2 263.6L85.8 264.5L85.2 265.4L84.8 266.4L84.2 267.3L84.0 267.8" fill="none" stroke="rgba(75,75,50,.5)" stroke-width="1.200" stroke-linejoin="round"/>
<path d="M-0.95 -0.5H478.2M-0.95 267.7H478.2" fill="none" stroke="rgba(52,52,30,.8)" stroke-width="1.3"/><path d="M-0.35 -0.5V267.7M477.6 -0.5V267.7" fill="none" stroke="rgba(60,60,35,.66)" stroke-width="1.25"/>
</svg>
<div id="dcred"></div>
<div id="dcline"></div>
<div id="cbar"></div>
<svg class="abs" style="left:0;top:0;width:1024px;height:714px" viewBox="0 0 1024 714"><path d="M95.90 653V665M119.75 653V665M143.60 653V665M167.45 653V665M191.30 653V665M215.15 653V665M239.00 653V665M262.85 653V665M286.70 653V665M310.55 653V665M334.40 653V665M358.25 653V665M382.10 653V665M405.95 653V665M429.80 653V665M453.65 653V665M477.50 653V665M501.35 653V665M525.20 653V665M549.05 653V665M572.90 653V665" fill="none" stroke="rgba(25,20,0,.7)" stroke-width="1.100"/></svg>
<svg id="txt" viewBox="0 0 1024 714">
<g fill="#1c1c1c" stroke="#1c1c1c" stroke-width=".22"><text x="24.67" y="15.80" font-size="10.80" textLength="70.63" lengthAdjust="spacingAndGlyphs">SpyderXElite 5.6</text></g>
<g fill="#2a2a2a" stroke="#2a2a2a" stroke-width=".18">
<text x="455.50" y="38.00" font-size="10.90" textLength="30.27" lengthAdjust="spacingAndGlyphs">Gamut</text>
<text x="493.79" y="38.00" font-size="10.90" textLength="66.64" lengthAdjust="spacingAndGlyphs">Tone Response</text>
<text x="567.68" y="38.00" font-size="10.90" textLength="107.59" lengthAdjust="spacingAndGlyphs">Brightness and Contrast</text>
<text x="682.93" y="38.00" font-size="10.90" textLength="58.42" lengthAdjust="spacingAndGlyphs">OSD settings</text>
<text x="748.95" y="38.00" font-size="10.90" textLength="80.07" lengthAdjust="spacingAndGlyphs" fill="#1b3a5e" stroke="#1b3a5e">Screen Uniformity</text>
<text x="836.80" y="38.00" font-size="10.90" textLength="66.91" lengthAdjust="spacingAndGlyphs">Color Accuracy</text>
<text x="912.04" y="38.00" font-size="10.90" textLength="68.54" lengthAdjust="spacingAndGlyphs">Monitor Rating</text>
</g>
<text x="79.43" y="124.40" font-size="14.20" textLength="221.74" lengthAdjust="spacingAndGlyphs" fill="#333">Color Uniformity for Brightness 100%</text>
<g fill="#3a3a3a">
<text x="141.41" y="160.60" font-size="11.20" textLength="43.86" lengthAdjust="spacingAndGlyphs">Quadrant</text>
<text x="308.67" y="160.60" font-size="11.20" textLength="53.29" lengthAdjust="spacingAndGlyphs">Color (Lab)</text>
<text x="460.88" y="160.60" font-size="11.20" textLength="89.30" lengthAdjust="spacingAndGlyphs">DeltaE To Closest</text>
<text x="89.49" y="176.70" font-size="11.20" textLength="5.95" lengthAdjust="spacingAndGlyphs">1</text>
<text x="259.46" y="176.70" font-size="11.20" textLength="30.67" lengthAdjust="spacingAndGlyphs">10.81,</text>
<text x="299.33" y="176.70" font-size="11.20" textLength="24.54" lengthAdjust="spacingAndGlyphs">8.78,</text>
<text x="335.26" y="176.70" font-size="11.20" textLength="21.47" lengthAdjust="spacingAndGlyphs">1.88</text>
<text x="498.13" y="176.70" font-size="11.20" textLength="14.87" lengthAdjust="spacingAndGlyphs">0.7</text>
<text x="88.57" y="192.74" font-size="11.20" textLength="5.95" lengthAdjust="spacingAndGlyphs">2</text>
<text x="262.27" y="192.74" font-size="11.20" textLength="24.54" lengthAdjust="spacingAndGlyphs">0.80,</text>
<text x="296.99" y="192.74" font-size="11.20" textLength="24.54" lengthAdjust="spacingAndGlyphs">9.13,</text>
<text x="335.50" y="192.74" font-size="11.20" textLength="15.34" lengthAdjust="spacingAndGlyphs">.67</text>
<text x="497.89" y="192.74" font-size="11.20" textLength="14.87" lengthAdjust="spacingAndGlyphs">1.6</text>
<text x="88.69" y="208.78" font-size="11.20" textLength="5.95" lengthAdjust="spacingAndGlyphs">3</text>
<text x="258.87" y="208.78" font-size="11.20" textLength="30.67" lengthAdjust="spacingAndGlyphs">09.95,</text>
<text x="299.13" y="208.78" font-size="11.20" textLength="24.54" lengthAdjust="spacingAndGlyphs">8.74,</text>
<text x="334.26" y="208.78" font-size="11.20" textLength="21.47" lengthAdjust="spacingAndGlyphs">1.62</text>
<text x="498.09" y="208.78" font-size="11.20" textLength="14.87" lengthAdjust="spacingAndGlyphs">0.8</text>
<text x="88.86" y="224.82" font-size="11.20" textLength="5.95" lengthAdjust="spacingAndGlyphs">4</text>
<text x="258.87" y="224.82" font-size="11.20" textLength="30.67" lengthAdjust="spacingAndGlyphs">08.85,</text>
<text x="299.44" y="224.82" font-size="11.20" textLength="24.54" lengthAdjust="spacingAndGlyphs">7.93,</text>
<text x="338.00" y="224.82" font-size="11.20" textLength="15.34" lengthAdjust="spacingAndGlyphs">.06</text>
<text x="497.93" y="224.82" font-size="11.20" textLength="14.87" lengthAdjust="spacingAndGlyphs">1.2</text>
<text x="88.67" y="240.86" font-size="11.20" textLength="5.95" lengthAdjust="spacingAndGlyphs">5</text>
<text x="256.06" y="240.86" font-size="11.20" textLength="35.99" lengthAdjust="spacingAndGlyphs">112.19,</text>
<text x="301.83" y="240.86" font-size="11.20" textLength="23.72" lengthAdjust="spacingAndGlyphs">8.11,</text>
<text x="336.35" y="240.86" font-size="11.20" textLength="21.47" lengthAdjust="spacingAndGlyphs">2.34</text>
<text x="498.01" y="240.86" font-size="11.20" textLength="14.87" lengthAdjust="spacingAndGlyphs">0.4</text>
<text x="88.54" y="256.90" font-size="11.20" textLength="92.86" lengthAdjust="spacingAndGlyphs">6 (Closest To D65)</text>
<text x="258.57" y="256.90" font-size="11.20" textLength="30.67" lengthAdjust="spacingAndGlyphs">09.13,</text>
<text x="299.44" y="256.90" font-size="11.20" textLength="24.54" lengthAdjust="spacingAndGlyphs">7.96,</text>
<text x="334.76" y="256.90" font-size="11.20" textLength="21.47" lengthAdjust="spacingAndGlyphs">1.85</text>
<text x="498.06" y="256.90" font-size="11.20" textLength="14.87" lengthAdjust="spacingAndGlyphs">0.0</text>
<text x="88.55" y="272.94" font-size="11.20" textLength="5.95" lengthAdjust="spacingAndGlyphs">7</text>
<text x="258.57" y="272.94" font-size="11.20" textLength="30.67" lengthAdjust="spacingAndGlyphs">07.94,</text>
<text x="299.44" y="272.94" font-size="11.20" textLength="24.54" lengthAdjust="spacingAndGlyphs">7.34,</text>
<text x="334.35" y="272.94" font-size="11.20" textLength="21.47" lengthAdjust="spacingAndGlyphs">6.32</text>
<text x="498.17" y="272.94" font-size="11.20" textLength="14.87" lengthAdjust="spacingAndGlyphs">4.5</text>
<text x="88.64" y="288.98" font-size="11.20" textLength="5.95" lengthAdjust="spacingAndGlyphs">8</text>
<text x="258.57" y="288.98" font-size="11.20" textLength="30.67" lengthAdjust="spacingAndGlyphs">09.88,</text>
<text x="299.44" y="288.98" font-size="11.20" textLength="24.54" lengthAdjust="spacingAndGlyphs">7.86,</text>
<text x="334.66" y="288.98" font-size="11.20" textLength="21.47" lengthAdjust="spacingAndGlyphs">4.13</text>
<text x="498.03" y="288.98" font-size="11.20" textLength="14.87" lengthAdjust="spacingAndGlyphs">2.3</text>
<text x="88.61" y="305.02" font-size="11.20" textLength="5.95" lengthAdjust="spacingAndGlyphs">9</text>
<text x="262.23" y="305.02" font-size="11.20" textLength="24.54" lengthAdjust="spacingAndGlyphs">8.50,</text>
<text x="301.00" y="305.02" font-size="11.20" textLength="18.40" lengthAdjust="spacingAndGlyphs">.05,</text>
<text x="329.86" y="305.02" font-size="11.20" textLength="21.47" lengthAdjust="spacingAndGlyphs">4.81</text>
<text x="498.07" y="305.02" font-size="11.20" textLength="14.87" lengthAdjust="spacingAndGlyphs">3.0</text>
</g>
<g fill="rgba(105,105,88,.8)" font-family="Liberation Mono, monospace" font-weight="bold">
<text x="162.02" y="395.00" font-size="14.50" textLength="26.30" lengthAdjust="spacingAndGlyphs">0.7</text>
<text x="321.07" y="395.00" font-size="14.50" textLength="26.29" lengthAdjust="spacingAndGlyphs">1.6</text>
<text x="480.52" y="395.00" font-size="14.50" textLength="26.10" lengthAdjust="spacingAndGlyphs">0.8</text>
<text x="161.87" y="484.90" font-size="14.50" textLength="26.33" lengthAdjust="spacingAndGlyphs">1.2</text>
<text x="321.24" y="484.90" font-size="14.50" textLength="25.73" lengthAdjust="spacingAndGlyphs">0.4</text>
<text x="480.52" y="484.90" font-size="14.50" textLength="26.16" lengthAdjust="spacingAndGlyphs">0.0</text>
<text x="162.36" y="574.40" font-size="14.50" textLength="25.72" lengthAdjust="spacingAndGlyphs">4.5</text>
<text x="321.18" y="574.40" font-size="14.50" textLength="26.10" lengthAdjust="spacingAndGlyphs">2.3</text>
<text x="480.70" y="574.40" font-size="14.50" textLength="25.98" lengthAdjust="spacingAndGlyphs">3.0</text>
</g>
<text x="450.29" y="615.10" font-size="14.30" textLength="67.12" lengthAdjust="spacingAndGlyphs" font-weight="bold" fill="#fff" stroke="#fff" stroke-width=".45" stroke-linejoin="round">datacolor</text>
<text x="283.55" y="647.80" font-size="13.10" textLength="101.74" lengthAdjust="spacingAndGlyphs" fill="#555">DeltaE To Closest</text>
<g fill="#333" stroke="#333" stroke-width=".12">
<text x="89.42" y="676.60" font-size="9.20" textLength="12.15" lengthAdjust="spacingAndGlyphs">0.0</text>
<text x="113.30" y="676.60" font-size="9.20" textLength="12.15" lengthAdjust="spacingAndGlyphs">0.5</text>
<text x="137.00" y="676.60" font-size="9.20" textLength="12.15" lengthAdjust="spacingAndGlyphs">1.0</text>
<text x="160.88" y="676.60" font-size="9.20" textLength="12.15" lengthAdjust="spacingAndGlyphs">1.5</text>
<text x="184.85" y="676.60" font-size="9.20" textLength="12.15" lengthAdjust="spacingAndGlyphs">2.0</text>
<text x="208.74" y="676.60" font-size="9.20" textLength="12.15" lengthAdjust="spacingAndGlyphs">2.5</text>
<text x="232.65" y="676.60" font-size="9.20" textLength="12.15" lengthAdjust="spacingAndGlyphs">3.0</text>
<text x="256.53" y="676.60" font-size="9.20" textLength="12.15" lengthAdjust="spacingAndGlyphs">3.5</text>
<text x="280.46" y="676.60" font-size="9.20" textLength="12.15" lengthAdjust="spacingAndGlyphs">4.0</text>
<text x="304.34" y="676.60" font-size="9.20" textLength="12.15" lengthAdjust="spacingAndGlyphs">4.5</text>
<text x="328.12" y="676.60" font-size="9.20" textLength="12.15" lengthAdjust="spacingAndGlyphs">5.0</text>
<text x="352.00" y="676.60" font-size="9.20" textLength="12.15" lengthAdjust="spacingAndGlyphs">5.5</text>
<text x="375.81" y="676.60" font-size="9.20" textLength="12.15" lengthAdjust="spacingAndGlyphs">6.0</text>
<text x="399.70" y="676.60" font-size="9.20" textLength="12.15" lengthAdjust="spacingAndGlyphs">6.5</text>
<text x="423.55" y="676.60" font-size="9.20" textLength="12.15" lengthAdjust="spacingAndGlyphs">7.0</text>
<text x="447.43" y="676.60" font-size="9.20" textLength="12.15" lengthAdjust="spacingAndGlyphs">7.5</text>
<text x="471.32" y="676.60" font-size="9.20" textLength="12.15" lengthAdjust="spacingAndGlyphs">8.0</text>
<text x="495.21" y="676.60" font-size="9.20" textLength="12.15" lengthAdjust="spacingAndGlyphs">8.5</text>
<text x="519.05" y="676.60" font-size="9.20" textLength="12.15" lengthAdjust="spacingAndGlyphs">9.0</text>
<text x="542.93" y="676.60" font-size="9.20" textLength="12.15" lengthAdjust="spacingAndGlyphs">9.5</text>
<text x="564.23" y="676.60" font-size="9.20" textLength="17.01" lengthAdjust="spacingAndGlyphs">10.0</text>
</g>
</svg>
</body>
</html>
